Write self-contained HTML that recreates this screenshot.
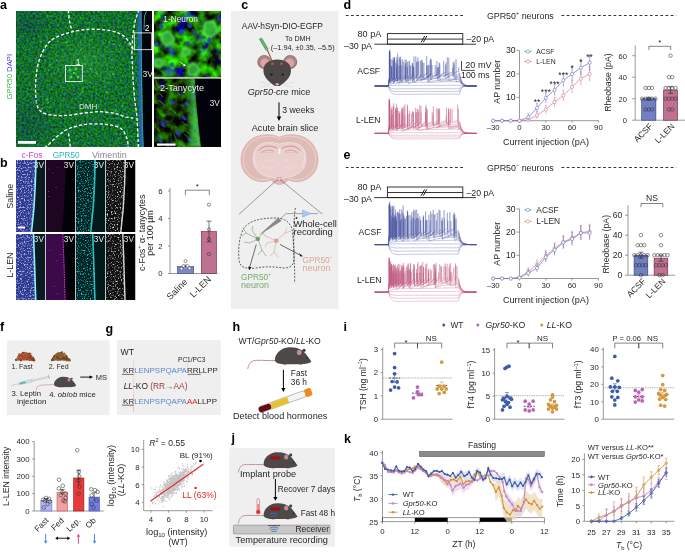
<!DOCTYPE html>
<html><head><meta charset="utf-8"><style>
html,body{margin:0;padding:0;background:#fff;width:685px;height:552px;overflow:hidden}
svg{display:block;font-family:"Liberation Sans", sans-serif;-webkit-font-smoothing:antialiased;will-change:transform}
</style></head><body>
<svg width="685" height="552" viewBox="0 0 685 552">
<defs><filter id="nA" x="0" y="0" width="100%" height="100%" color-interpolation-filters="sRGB"><feTurbulence type="fractalNoise" baseFrequency="0.45" numOctaves="2" seed="3"/><feColorMatrix type="matrix" values="0 0 0 0 0.07  0.75 -0.2 0 0 0.165  0 1.2 0 0 -0.43  0 0 0 0 1"/><feGaussianBlur stdDeviation="0.5"/></filter><filter id="nA2" x="0" y="0" width="100%" height="100%" color-interpolation-filters="sRGB"><feTurbulence type="fractalNoise" baseFrequency="0.09" numOctaves="3" seed="7"/><feColorMatrix type="matrix" values="0.3 0 0 0 -0.04  1.9 -0.4 0 0 -0.3  -0.6 2.2 0 0 -0.85  0 0 0 0 1"/><feGaussianBlur stdDeviation="0.4"/></filter><filter id="nA3" x="0" y="0" width="100%" height="100%" color-interpolation-filters="sRGB"><feTurbulence type="fractalNoise" baseFrequency="0.12" numOctaves="3" seed="13"/><feColorMatrix type="matrix" values="0.2 0 0 0 -0.02  1.2 -0.3 0 0 -0.25  -0.6 2.4 0 0 -1.15  0 0 0 0 1"/><feGaussianBlur stdDeviation="0.4"/></filter><clipPath id="cpA"><rect x="16" y="11" width="136" height="136"/></clipPath><clipPath id="cpA1"><rect x="154" y="11" width="67" height="66.5"/></clipPath><clipPath id="cpA2"><rect x="154" y="78.5" width="67" height="68.5"/></clipPath><filter id="blur1"><feGaussianBlur stdDeviation="1.2"/></filter><filter id="blur05"><feGaussianBlur stdDeviation="0.5"/></filter><radialGradient id="gLight"><stop offset="0" stop-color="#50d050" stop-opacity="0.22"/><stop offset="1" stop-color="#50d050" stop-opacity="0"/></radialGradient><radialGradient id="gDark"><stop offset="0" stop-color="#102060" stop-opacity="0.3"/><stop offset="1" stop-color="#102060" stop-opacity="0"/></radialGradient><filter id="blur08"><feGaussianBlur stdDeviation="0.8"/></filter><linearGradient id="gBand" x1="0" x2="1" y1="0" y2="0"><stop offset="0" stop-color="#30b038" stop-opacity="0"/><stop offset="0.55" stop-color="#40c848" stop-opacity="0.75"/><stop offset="1" stop-color="#58e060" stop-opacity="0.95"/></linearGradient><filter id="nBm" x="0" y="0" width="100%" height="100%" color-interpolation-filters="sRGB"><feTurbulence type="fractalNoise" baseFrequency="0.7" numOctaves="2" seed="5"/><feColorMatrix type="matrix" values="0 0 0 0 0.6  0 0 0 0 0.78  0 0 0 0 1  3.5 0 0 0 -1.7"/></filter><filter id="nBc" x="0" y="0" width="100%" height="100%" color-interpolation-filters="sRGB"><feTurbulence type="fractalNoise" baseFrequency="0.7" numOctaves="2" seed="8"/><feColorMatrix type="matrix" values="0 0 0 0 0.1  0 0 0 0 0.85  0 0 0 0 0.85  3.5 0 0 0 -1.82"/></filter><filter id="nBg" x="0" y="0" width="100%" height="100%" color-interpolation-filters="sRGB"><feTurbulence type="fractalNoise" baseFrequency="0.7" numOctaves="2" seed="9"/><feColorMatrix type="matrix" values="0 0 0 0 0.9  0 0 0 0 0.9  0 0 0 0 0.9  3.5 0 0 0 -1.85"/></filter><clipPath id="cpB00"><rect x="16" y="160" width="29.5" height="72"/></clipPath><clipPath id="cpB00t"><polygon points="16.0,160.0 36.0,160.0 35.3,183.8 34.0,207.5 31.5,232.0 16.0,232.0"/></clipPath><clipPath id="cpB01"><rect x="46" y="160" width="29.5" height="72"/></clipPath><clipPath id="cpB02"><rect x="76" y="160" width="29.5" height="72"/></clipPath><clipPath id="cpB02t"><polygon points="76.0,160.0 96.0,160.0 95.3,183.8 94.0,207.5 91.5,232.0 76.0,232.0"/></clipPath><clipPath id="cpB03"><rect x="106" y="160" width="29.5" height="72"/></clipPath><clipPath id="cpB03t"><polygon points="106.0,160.0 126.0,160.0 125.3,183.8 124.0,207.5 121.5,232.0 106.0,232.0"/></clipPath><clipPath id="cpB10"><rect x="16" y="234" width="29.5" height="66"/></clipPath><clipPath id="cpB10t"><polygon points="16.0,234.0 33.5,234.0 34.3,255.8 35.0,277.6 35.7,300.0 16.0,300.0"/></clipPath><clipPath id="cpB11"><rect x="46" y="234" width="29.5" height="66"/></clipPath><clipPath id="cpB12"><rect x="76" y="234" width="29.5" height="66"/></clipPath><clipPath id="cpB12t"><polygon points="76.0,234.0 93.5,234.0 94.3,255.8 95.0,277.6 95.7,300.0 76.0,300.0"/></clipPath><clipPath id="cpB13"><rect x="106" y="234" width="29.5" height="66"/></clipPath><clipPath id="cpB13t"><polygon points="106.0,234.0 123.5,234.0 124.3,255.8 125.0,277.6 125.7,300.0 106.0,300.0"/></clipPath></defs>
<text x="0.00" y="9.00" font-size="12.5" text-anchor="start" fill="#000" font-weight="bold">a</text>
<g clip-path="url(#cpA)">
<rect x="16.00" y="11.00" width="136.00" height="136.00" fill="#146a2a" stroke="none" stroke-width="0.8"/>
<rect x="16.00" y="11.00" width="136.00" height="136.00" fill="#000" stroke="none" stroke-width="0.8" filter="url(#nA)"/>
<ellipse cx="85" cy="62" rx="45" ry="32" fill="url(#gLight)"/>
<ellipse cx="28" cy="125" rx="30" ry="30" fill="url(#gDark)"/>
<ellipse cx="28" cy="25" rx="25" ry="22" fill="url(#gDark)"/>
<polygon points="141.00,11.00 152.00,11.00 152.00,147.00 143.50,147.00 142.80,120.00 142.40,80.00 141.80,40.00" fill="#01030a"/>
<polyline points="139.50,11.00 139.50,40.00 139.80,80.00 140.50,120.00 141.50,147.00" fill="none" stroke="#2a60c8" stroke-width="2.6" stroke-linejoin="round" opacity="0.85"/>
<polyline points="141.20,11.00 141.20,40.00 141.50,80.00 142.20,120.00 143.20,147.00" fill="none" stroke="#3a9ad0" stroke-width="0.9" stroke-linejoin="round"/>
<polyline points="146.50,11.00 144.50,16.00 144.00,30.00" fill="none" stroke="#3ec8c0" stroke-width="0.8" stroke-linejoin="round"/>
<path d="M68.3,10.0 C68.3,10.2 68.3,9.6 68.5,11.5 C68.7,13.4 69.0,18.4 69.6,21.7 C70.2,25.0 71.8,29.7 72.3,31.3" fill="none" stroke="#fff" stroke-width="1.3" stroke-dasharray="3.2 2" stroke-linecap="butt" fill="none"/>
<path d="M138.6,10.0 C138.6,10.2 139.0,9.1 138.3,11.5 C137.6,13.9 135.6,18.3 134.5,24.2 C133.4,30.1 132.3,39.0 132.0,47.0 C131.7,55.0 132.3,63.9 132.7,72.4 C133.1,80.9 133.8,90.2 134.5,97.8 C135.2,105.4 136.4,110.0 137.0,118.0 C137.6,126.0 138.1,141.0 138.3,146.0 C138.5,151.0 138.4,147.7 138.4,148.0" fill="none" stroke="#fff" stroke-width="1.3" stroke-dasharray="3.2 2" stroke-linecap="butt" fill="none"/>
<path d="M133.2,49.6 C132.8,48.8 132.4,46.8 130.7,44.5 C129.0,42.2 126.5,37.9 123.1,35.6 C119.7,33.3 115.9,31.7 110.4,30.6 C104.9,29.6 96.4,29.1 90.1,29.3 C83.8,29.5 77.8,30.5 72.3,31.8 C66.8,33.1 61.3,34.8 57.1,36.9 C52.9,39.0 50.0,40.7 47.0,44.5 C44.0,48.3 41.2,54.6 39.4,59.7 C37.6,64.8 36.9,69.4 36.3,74.9 C35.7,80.4 35.3,87.2 35.6,92.7 C35.9,98.2 36.2,104.3 38.1,107.9 C40.0,111.5 42.6,112.9 47.0,114.2 C51.4,115.5 58.4,115.7 64.7,115.5 C71.0,115.3 79.1,113.6 85.0,113.0 C90.9,112.4 95.1,111.6 100.2,111.7 C105.3,111.8 111.2,112.7 115.4,113.5 C119.6,114.3 122.6,116.0 125.6,116.8 C128.6,117.5 131.9,117.8 133.2,118.0" fill="none" stroke="#fff" stroke-width="1.3" stroke-dasharray="3.2 2" stroke-linecap="butt" fill="none"/>
<path d="M45.0,148.0 C45.3,147.7 43.7,148.9 47.0,146.0 C50.3,143.1 58.4,134.3 64.7,130.7 C71.0,127.1 78.2,125.5 85.0,124.4 C91.8,123.4 99.4,123.8 105.3,124.4 C111.2,125.0 116.9,125.9 120.5,128.2 C124.1,130.5 125.6,135.3 126.9,138.3 C128.2,141.3 127.9,144.4 128.1,146.0 C128.3,147.6 128.2,147.7 128.2,148.0" fill="none" stroke="#fff" stroke-width="1.3" stroke-dasharray="3.2 2" stroke-linecap="butt" fill="none"/>
<path d="M68.5,133.3 C68.7,134.4 69.2,137.6 69.5,140.0 C69.8,142.4 70.2,146.7 70.3,148.0" fill="none" stroke="#fff" stroke-width="1.3" stroke-dasharray="3.2 2" stroke-linecap="butt" fill="none"/>
<g filter="url(#blur05)" fill="#52d052" opacity="0.6">
<circle cx="111.92" cy="60.09" r="0.94" fill="#52d052" stroke="none" stroke-width="0.6"/>
<circle cx="114.03" cy="43.86" r="1.09" fill="#52d052" stroke="none" stroke-width="0.6"/>
<circle cx="90.21" cy="82.07" r="0.89" fill="#52d052" stroke="none" stroke-width="0.6"/>
<circle cx="96.76" cy="73.55" r="1.31" fill="#52d052" stroke="none" stroke-width="0.6"/>
<circle cx="42.55" cy="108.70" r="0.90" fill="#52d052" stroke="none" stroke-width="0.6"/>
<circle cx="113.20" cy="74.06" r="1.30" fill="#52d052" stroke="none" stroke-width="0.6"/>
<circle cx="56.46" cy="59.75" r="0.85" fill="#52d052" stroke="none" stroke-width="0.6"/>
<circle cx="110.08" cy="76.12" r="0.92" fill="#52d052" stroke="none" stroke-width="0.6"/>
<circle cx="57.25" cy="41.23" r="0.92" fill="#52d052" stroke="none" stroke-width="0.6"/>
<circle cx="90.41" cy="68.70" r="1.22" fill="#52d052" stroke="none" stroke-width="0.6"/>
<circle cx="46.87" cy="99.64" r="1.39" fill="#52d052" stroke="none" stroke-width="0.6"/>
<circle cx="106.57" cy="92.22" r="1.31" fill="#52d052" stroke="none" stroke-width="0.6"/>
<circle cx="48.54" cy="70.52" r="0.85" fill="#52d052" stroke="none" stroke-width="0.6"/>
<circle cx="110.34" cy="76.42" r="0.86" fill="#52d052" stroke="none" stroke-width="0.6"/>
<circle cx="80.03" cy="94.82" r="1.13" fill="#52d052" stroke="none" stroke-width="0.6"/>
<circle cx="50.93" cy="107.14" r="0.83" fill="#52d052" stroke="none" stroke-width="0.6"/>
<circle cx="115.88" cy="110.00" r="1.25" fill="#52d052" stroke="none" stroke-width="0.6"/>
<circle cx="125.13" cy="75.88" r="0.93" fill="#52d052" stroke="none" stroke-width="0.6"/>
<circle cx="82.51" cy="91.84" r="1.26" fill="#52d052" stroke="none" stroke-width="0.6"/>
<circle cx="74.59" cy="107.94" r="0.82" fill="#52d052" stroke="none" stroke-width="0.6"/>
<circle cx="84.62" cy="38.04" r="1.01" fill="#52d052" stroke="none" stroke-width="0.6"/>
<circle cx="129.04" cy="44.08" r="1.39" fill="#52d052" stroke="none" stroke-width="0.6"/>
<circle cx="121.46" cy="88.00" r="0.83" fill="#52d052" stroke="none" stroke-width="0.6"/>
<circle cx="82.44" cy="88.28" r="0.86" fill="#52d052" stroke="none" stroke-width="0.6"/>
<circle cx="66.84" cy="42.07" r="1.31" fill="#52d052" stroke="none" stroke-width="0.6"/>
<circle cx="122.37" cy="106.12" r="1.25" fill="#52d052" stroke="none" stroke-width="0.6"/>
<circle cx="91.80" cy="39.79" r="1.09" fill="#52d052" stroke="none" stroke-width="0.6"/>
<circle cx="108.46" cy="93.21" r="0.82" fill="#52d052" stroke="none" stroke-width="0.6"/>
<circle cx="40.74" cy="41.79" r="1.35" fill="#52d052" stroke="none" stroke-width="0.6"/>
<circle cx="50.21" cy="65.05" r="1.09" fill="#52d052" stroke="none" stroke-width="0.6"/>
<circle cx="119.54" cy="45.44" r="0.96" fill="#52d052" stroke="none" stroke-width="0.6"/>
<circle cx="109.47" cy="41.62" r="0.90" fill="#52d052" stroke="none" stroke-width="0.6"/>
<circle cx="42.26" cy="108.79" r="0.94" fill="#52d052" stroke="none" stroke-width="0.6"/>
<circle cx="85.14" cy="64.20" r="1.39" fill="#52d052" stroke="none" stroke-width="0.6"/>
<circle cx="104.08" cy="81.29" r="1.09" fill="#52d052" stroke="none" stroke-width="0.6"/>
<circle cx="64.10" cy="99.62" r="0.86" fill="#52d052" stroke="none" stroke-width="0.6"/>
<circle cx="95.96" cy="57.72" r="0.97" fill="#52d052" stroke="none" stroke-width="0.6"/>
<circle cx="80.84" cy="49.56" r="1.16" fill="#52d052" stroke="none" stroke-width="0.6"/>
<circle cx="46.37" cy="36.45" r="0.88" fill="#52d052" stroke="none" stroke-width="0.6"/>
<circle cx="48.09" cy="102.62" r="1.11" fill="#52d052" stroke="none" stroke-width="0.6"/>
</g>
<g filter="url(#blur05)" fill="#2848d0" opacity="0.5">
<circle cx="100.48" cy="116.39" r="0.88" fill="#2848d0" stroke="none" stroke-width="0.6"/>
<circle cx="134.02" cy="63.50" r="1.03" fill="#2848d0" stroke="none" stroke-width="0.6"/>
<circle cx="77.06" cy="105.17" r="1.18" fill="#2848d0" stroke="none" stroke-width="0.6"/>
<circle cx="40.86" cy="122.99" r="1.01" fill="#2848d0" stroke="none" stroke-width="0.6"/>
<circle cx="47.88" cy="127.82" r="1.24" fill="#2848d0" stroke="none" stroke-width="0.6"/>
<circle cx="122.53" cy="55.35" r="1.26" fill="#2848d0" stroke="none" stroke-width="0.6"/>
<circle cx="112.43" cy="142.00" r="1.18" fill="#2848d0" stroke="none" stroke-width="0.6"/>
<circle cx="139.97" cy="76.06" r="1.17" fill="#2848d0" stroke="none" stroke-width="0.6"/>
<circle cx="113.09" cy="82.27" r="1.05" fill="#2848d0" stroke="none" stroke-width="0.6"/>
<circle cx="66.25" cy="128.38" r="0.99" fill="#2848d0" stroke="none" stroke-width="0.6"/>
<circle cx="108.82" cy="87.29" r="1.15" fill="#2848d0" stroke="none" stroke-width="0.6"/>
<circle cx="55.03" cy="22.57" r="1.14" fill="#2848d0" stroke="none" stroke-width="0.6"/>
<circle cx="34.84" cy="60.18" r="1.19" fill="#2848d0" stroke="none" stroke-width="0.6"/>
<circle cx="23.03" cy="134.08" r="1.09" fill="#2848d0" stroke="none" stroke-width="0.6"/>
<circle cx="86.01" cy="102.73" r="0.83" fill="#2848d0" stroke="none" stroke-width="0.6"/>
<circle cx="19.72" cy="108.56" r="1.09" fill="#2848d0" stroke="none" stroke-width="0.6"/>
<circle cx="95.65" cy="122.31" r="0.94" fill="#2848d0" stroke="none" stroke-width="0.6"/>
<circle cx="36.80" cy="141.84" r="0.83" fill="#2848d0" stroke="none" stroke-width="0.6"/>
<circle cx="80.43" cy="95.61" r="1.28" fill="#2848d0" stroke="none" stroke-width="0.6"/>
<circle cx="27.66" cy="106.12" r="0.84" fill="#2848d0" stroke="none" stroke-width="0.6"/>
<circle cx="72.82" cy="95.10" r="1.22" fill="#2848d0" stroke="none" stroke-width="0.6"/>
<circle cx="22.80" cy="112.30" r="0.87" fill="#2848d0" stroke="none" stroke-width="0.6"/>
<circle cx="66.78" cy="143.48" r="1.23" fill="#2848d0" stroke="none" stroke-width="0.6"/>
<circle cx="26.43" cy="12.61" r="0.82" fill="#2848d0" stroke="none" stroke-width="0.6"/>
<circle cx="113.05" cy="17.14" r="1.19" fill="#2848d0" stroke="none" stroke-width="0.6"/>
<circle cx="116.31" cy="121.56" r="1.27" fill="#2848d0" stroke="none" stroke-width="0.6"/>
<circle cx="94.88" cy="122.55" r="1.07" fill="#2848d0" stroke="none" stroke-width="0.6"/>
<circle cx="99.22" cy="21.34" r="1.08" fill="#2848d0" stroke="none" stroke-width="0.6"/>
<circle cx="138.81" cy="64.01" r="1.16" fill="#2848d0" stroke="none" stroke-width="0.6"/>
<circle cx="38.94" cy="76.54" r="1.07" fill="#2848d0" stroke="none" stroke-width="0.6"/>
<circle cx="111.64" cy="55.21" r="1.03" fill="#2848d0" stroke="none" stroke-width="0.6"/>
<circle cx="40.36" cy="89.37" r="1.27" fill="#2848d0" stroke="none" stroke-width="0.6"/>
<circle cx="64.56" cy="100.35" r="1.08" fill="#2848d0" stroke="none" stroke-width="0.6"/>
<circle cx="41.06" cy="105.31" r="0.91" fill="#2848d0" stroke="none" stroke-width="0.6"/>
<circle cx="92.51" cy="145.21" r="0.95" fill="#2848d0" stroke="none" stroke-width="0.6"/>
<circle cx="99.24" cy="57.50" r="1.12" fill="#2848d0" stroke="none" stroke-width="0.6"/>
<circle cx="40.53" cy="79.09" r="1.19" fill="#2848d0" stroke="none" stroke-width="0.6"/>
<circle cx="43.22" cy="59.52" r="0.91" fill="#2848d0" stroke="none" stroke-width="0.6"/>
<circle cx="36.45" cy="101.80" r="1.22" fill="#2848d0" stroke="none" stroke-width="0.6"/>
<circle cx="81.80" cy="71.89" r="0.95" fill="#2848d0" stroke="none" stroke-width="0.6"/>
</g>
<rect x="65.50" y="65.50" width="16.80" height="16.10" fill="none" stroke="#fff" stroke-width="0.8"/>
<text x="78.20" y="64.50" font-size="8.5" text-anchor="middle" fill="#e6f3e6">1</text>
<rect x="134.30" y="32.90" width="17.50" height="16.80" fill="none" stroke="#fff" stroke-width="0.8"/>
<text x="149.50" y="31.00" font-size="8.5" text-anchor="end" fill="#fff">2</text>
<text x="142.50" y="76.50" font-size="8.5" text-anchor="start" fill="#e6e6e6">3V</text>
<text x="79.00" y="109.10" font-size="8.08" text-anchor="start" fill="#dfe9df">DMH</text>
<circle cx="70.00" cy="70.00" r="1.60" fill="#5ee05e" stroke="none" stroke-width="0.6" opacity="0.8"/>
<circle cx="76.00" cy="69.00" r="1.40" fill="#5ee05e" stroke="none" stroke-width="0.6" opacity="0.8"/>
<circle cx="71.00" cy="77.00" r="1.50" fill="#5ee05e" stroke="none" stroke-width="0.6" opacity="0.8"/>
<circle cx="78.00" cy="77.00" r="1.40" fill="#5ee05e" stroke="none" stroke-width="0.6" opacity="0.8"/>
<circle cx="74.00" cy="73.00" r="1.20" fill="#5ee05e" stroke="none" stroke-width="0.6" opacity="0.8"/>
<rect x="18.00" y="141.00" width="18.00" height="2.80" fill="#fff" stroke="none" stroke-width="0.8"/>
</g>
<g clip-path="url(#cpA1)">
<rect x="154.00" y="11.00" width="67.00" height="66.50" fill="#000" stroke="none" stroke-width="0.8" filter="url(#nA2)"/>
<g filter="url(#blur08)" opacity="0.9">
<polygon points="217.5,28.9 216.8,32.7 214.1,35.7 210.2,37.1 206.4,35.5 203.1,33.0 204.5,28.9 204.2,25.4 206.1,21.8 210.2,21.5 214.3,21.9 215.3,25.9" fill="#34b03a" stroke="#5ae65a" stroke-width="1.8"/>
<line x1="203.33" y1="30.25" x2="197.15" y2="31.47" stroke="#40c040" stroke-width="1.3"/>
<line x1="210.35" y1="35.90" x2="210.49" y2="42.20" stroke="#40c040" stroke-width="1.3"/>
<line x1="203.46" y1="27.00" x2="197.40" y2="25.29" stroke="#40c040" stroke-width="1.3"/>
<polygon points="199.9,69.6 197.8,72.1 196.2,74.4 193.5,75.3 189.9,75.9 187.6,73.0 188.1,69.6 187.5,66.1 190.8,65.0 193.5,63.1 196.1,65.0 197.8,67.1" fill="#34b03a" stroke="#5ae65a" stroke-width="1.8"/>
<line x1="197.78" y1="65.12" x2="201.64" y2="61.08" stroke="#40c040" stroke-width="1.3"/>
<line x1="195.06" y1="75.60" x2="196.47" y2="81.00" stroke="#40c040" stroke-width="1.3"/>
<line x1="194.83" y1="75.65" x2="196.03" y2="81.10" stroke="#40c040" stroke-width="1.3"/>
<polygon points="174.4,38.5 173.2,41.9 169.9,43.3 167.2,45.6 164.2,43.8 161.6,41.7 161.9,38.5 161.1,35.0 164.0,32.9 167.2,31.4 170.7,32.5 172.0,35.7" fill="#34b03a" stroke="#5ae65a" stroke-width="1.8"/>
<line x1="163.34" y1="43.09" x2="159.87" y2="47.23" stroke="#40c040" stroke-width="1.3"/>
<line x1="170.22" y1="43.68" x2="172.94" y2="48.35" stroke="#40c040" stroke-width="1.3"/>
<line x1="170.86" y1="43.26" x2="174.15" y2="47.54" stroke="#40c040" stroke-width="1.3"/>
<polygon points="162.5,63.0 162.4,65.1 161.1,67.1 158.8,66.6 156.4,67.2 155.2,65.1 154.6,63.0 154.4,60.5 156.6,59.1 158.8,58.8 161.0,59.1 163.0,60.6" fill="#34b03a" stroke="#5ae65a" stroke-width="1.8"/>
<line x1="163.01" y1="64.58" x2="166.81" y2="66.00" stroke="#40c040" stroke-width="1.3"/>
<line x1="163.25" y1="62.30" x2="167.25" y2="61.67" stroke="#40c040" stroke-width="1.3"/>
<line x1="163.25" y1="63.64" x2="167.26" y2="64.22" stroke="#40c040" stroke-width="1.3"/>
<polygon points="189.4,52.0 188.9,54.3 186.6,54.8 185.0,56.5 183.1,55.3 181.4,54.1 181.8,52.0 182.2,50.4 183.3,49.0 185.0,47.3 186.8,49.0 188.8,49.8" fill="#34b03a" stroke="#5ae65a" stroke-width="1.8"/>
<line x1="188.62" y1="50.29" x2="191.87" y2="48.75" stroke="#40c040" stroke-width="1.3"/>
<line x1="188.74" y1="50.58" x2="192.10" y2="49.29" stroke="#40c040" stroke-width="1.3"/>
<line x1="182.76" y1="55.32" x2="180.75" y2="58.30" stroke="#40c040" stroke-width="1.3"/>
</g>
<g filter="url(#blur05)">
<circle cx="189.90" cy="26.00" r="2.30" fill="#2040d0" stroke="none" stroke-width="0.6" opacity="0.75"/>
<circle cx="194.70" cy="32.50" r="2.30" fill="#2040d0" stroke="none" stroke-width="0.6" opacity="0.75"/>
<circle cx="209.60" cy="39.70" r="2.30" fill="#2040d0" stroke="none" stroke-width="0.6" opacity="0.75"/>
<circle cx="156.40" cy="44.50" r="2.30" fill="#2040d0" stroke="none" stroke-width="0.6" opacity="0.75"/>
<circle cx="181.50" cy="31.30" r="2.30" fill="#2040d0" stroke="none" stroke-width="0.6" opacity="0.75"/>
<circle cx="172.00" cy="64.80" r="2.30" fill="#2040d0" stroke="none" stroke-width="0.6" opacity="0.75"/>
<circle cx="219.00" cy="19.40" r="2.30" fill="#2040d0" stroke="none" stroke-width="0.6" opacity="0.75"/>
<circle cx="187.50" cy="43.30" r="2.30" fill="#2040d0" stroke="none" stroke-width="0.6" opacity="0.75"/>
<circle cx="161.20" cy="26.50" r="2.30" fill="#2040d0" stroke="none" stroke-width="0.6" opacity="0.75"/>
</g>
<path d="M179.7,61.8 L184.6,65.2" fill="none" stroke="#fff" stroke-width="0.7"/>
<polygon points="185.90,66.10 183.10,65.90 184.40,63.70" fill="#fff"/>
<text x="163.30" y="21.90" font-size="8.32" text-anchor="start" fill="#e8f5e8">1-Neuron</text>
</g>
<g clip-path="url(#cpA2)">
<rect x="154.00" y="78.50" width="67.00" height="68.50" fill="#000" stroke="none" stroke-width="0.8" filter="url(#nA3)"/>
<g filter="url(#blur05)" opacity="0.4">
<line x1="152.42" y1="85.53" x2="157.37" y2="90.10" stroke="#50d050" stroke-width="1.2"/>
<line x1="156.72" y1="85.53" x2="162.44" y2="89.61" stroke="#50d050" stroke-width="1.2"/>
<line x1="157.01" y1="127.62" x2="159.63" y2="131.34" stroke="#50d050" stroke-width="1.2"/>
<line x1="170.21" y1="108.00" x2="176.00" y2="113.50" stroke="#50d050" stroke-width="1.2"/>
<line x1="155.17" y1="79.36" x2="157.33" y2="84.54" stroke="#50d050" stroke-width="1.2"/>
<line x1="158.75" y1="100.13" x2="164.61" y2="105.30" stroke="#50d050" stroke-width="1.2"/>
<line x1="159.15" y1="92.53" x2="163.02" y2="97.37" stroke="#50d050" stroke-width="1.2"/>
<line x1="184.43" y1="134.19" x2="188.06" y2="137.35" stroke="#50d050" stroke-width="1.2"/>
<line x1="180.44" y1="144.26" x2="186.66" y2="147.34" stroke="#50d050" stroke-width="1.2"/>
<line x1="181.52" y1="121.63" x2="187.42" y2="125.73" stroke="#50d050" stroke-width="1.2"/>
<line x1="176.81" y1="90.99" x2="179.69" y2="94.92" stroke="#50d050" stroke-width="1.2"/>
<line x1="153.41" y1="100.51" x2="157.68" y2="104.11" stroke="#50d050" stroke-width="1.2"/>
<line x1="173.99" y1="134.02" x2="176.92" y2="141.37" stroke="#50d050" stroke-width="1.2"/>
<line x1="185.78" y1="130.92" x2="189.45" y2="133.87" stroke="#50d050" stroke-width="1.2"/>
</g>
<g filter="url(#blur05)" opacity="0.85">
<ellipse cx="172" cy="102" rx="3" ry="1.6" transform="rotate(35 172 102)" fill="#2038d0"/>
<ellipse cx="184" cy="118" rx="3" ry="1.6" transform="rotate(40 184 118)" fill="#2038d0"/>
<ellipse cx="178" cy="133" rx="3" ry="1.6" transform="rotate(30 178 133)" fill="#2038d0"/>
<ellipse cx="163" cy="125" rx="3" ry="1.6" transform="rotate(45 163 125)" fill="#2038d0"/>
<ellipse cx="187" cy="104" rx="3" ry="1.6" transform="rotate(40 187 104)" fill="#2038d0"/>
<ellipse cx="190" cy="140" rx="3" ry="1.6" transform="rotate(35 190 140)" fill="#2038d0"/>
<ellipse cx="160" cy="140" rx="3" ry="1.6" transform="rotate(40 160 140)" fill="#2038d0"/>
</g>
<g filter="url(#blur1)">
<polygon points="184.00,78.50 195.00,78.50 196.00,100.00 198.50,125.00 201.00,147.00 189.00,147.00 187.00,120.00 185.00,100.00" fill="url(#gBand)"/>
</g>
<circle cx="191.00" cy="88.00" r="1.10" fill="#3060d0" stroke="none" stroke-width="0.6" opacity="0.7"/>
<circle cx="193.00" cy="112.00" r="1.10" fill="#3060d0" stroke="none" stroke-width="0.6" opacity="0.7"/>
<circle cx="195.00" cy="131.00" r="1.10" fill="#3060d0" stroke="none" stroke-width="0.6" opacity="0.7"/>
<circle cx="192.00" cy="99.00" r="1.10" fill="#3060d0" stroke="none" stroke-width="0.6" opacity="0.7"/>
<circle cx="196.00" cy="142.00" r="1.10" fill="#3060d0" stroke="none" stroke-width="0.6" opacity="0.7"/>
<polygon points="195.00,78.50 221.00,78.50 221.00,147.00 201.00,147.00 198.50,125.00 196.00,100.00" fill="#02020a"/>
<text x="160.10" y="90.70" font-size="9.1" text-anchor="start" fill="#e8f5e8">2-Tanycyte</text>
<text x="209.80" y="105.60" font-size="8.18" text-anchor="start" fill="#e6e6e6">3V</text>
<rect x="157.00" y="143.50" width="18.50" height="2.20" fill="#fff" stroke="none" stroke-width="0.8"/>
</g>
<line x1="154.00" y1="77.80" x2="221.00" y2="77.80" stroke="#d0d0d0" stroke-width="0.9"/>
<text transform="translate(11.6,99.4) rotate(-90)" font-size="7.74"><tspan fill="#3cb44a">GPR50</tspan><tspan fill="#3a3ae0"> DAPI</tspan></text>
<text x="0.00" y="167.00" font-size="12.5" text-anchor="start" fill="#000" font-weight="bold">b</text>
<text x="21.50" y="158.20" font-size="8.4" text-anchor="start" fill="#d23cd2">c-Fos</text>
<text x="52.70" y="158.20" font-size="8.23" text-anchor="start" fill="#2bbcc0">GPR50</text>
<text x="92.00" y="158.20" font-size="8.96" text-anchor="start" fill="#8a8a8a">Vimentin</text>
<text transform="translate(13.4,208.8) rotate(-90)" font-size="9.06" fill="#231f20">Saline</text>
<text transform="translate(13.4,277.7) rotate(-90)" font-size="8.9" fill="#231f20">L-LEN</text>
<g clip-path="url(#cpB00)">
<rect x="16.00" y="160.00" width="29.50" height="72.00" fill="#0a1c22" stroke="none" stroke-width="0.8"/>
<polygon points="16.00,160.00 36.00,160.00 35.30,183.76 34.00,207.52 31.50,232.00 16.00,232.00" fill="#33358c"/>
<g clip-path="url(#cpB00t)">
<rect x="16.00" y="160.00" width="29.50" height="72.00" fill="#fff" stroke="none" stroke-width="0.8" filter="url(#nBm)"/>
</g>
<polyline points="36.00,160.00 35.30,183.76 34.00,207.52 31.50,232.00" fill="none" stroke="#90f0f8" stroke-width="1.6" stroke-linejoin="round"/>
<text x="44.00" y="167.60" font-size="8.3" text-anchor="end" fill="#e8e8e8">3V</text>
</g>
<g clip-path="url(#cpB01)">
<rect x="46.00" y="160.00" width="29.50" height="72.00" fill="#050108" stroke="none" stroke-width="0.8"/>
<polygon points="46.00,160.00 66.00,160.00 65.30,183.76 64.00,207.52 61.50,232.00 46.00,232.00" fill="#1e0622"/>
<circle cx="52.86" cy="172.96" r="0.50" fill="#c030c8" stroke="none" stroke-width="0.6"/>
<circle cx="57.76" cy="167.78" r="0.50" fill="#c030c8" stroke="none" stroke-width="0.6"/>
<circle cx="56.04" cy="187.14" r="0.50" fill="#c030c8" stroke="none" stroke-width="0.6"/>
<circle cx="48.87" cy="196.49" r="0.50" fill="#c030c8" stroke="none" stroke-width="0.6"/>
<circle cx="48.56" cy="191.62" r="0.50" fill="#c030c8" stroke="none" stroke-width="0.6"/>
<circle cx="49.05" cy="168.99" r="0.50" fill="#c030c8" stroke="none" stroke-width="0.6"/>
<text x="74.00" y="167.60" font-size="8.3" text-anchor="end" fill="#e8e8e8">3V</text>
</g>
<g clip-path="url(#cpB02)">
<rect x="76.00" y="160.00" width="29.50" height="72.00" fill="#021a1c" stroke="none" stroke-width="0.8"/>
<polygon points="76.00,160.00 96.00,160.00 95.30,183.76 94.00,207.52 91.50,232.00 76.00,232.00" fill="#002022"/>
<g clip-path="url(#cpB02t)">
<rect x="76.00" y="160.00" width="29.50" height="72.00" fill="#fff" stroke="none" stroke-width="0.8" filter="url(#nBc)"/>
</g>
<polyline points="95.20,160.00 94.50,183.76 93.20,207.52 90.70,232.00" fill="none" stroke="#30d8d8" stroke-width="1.6" stroke-linejoin="round" opacity="0.85"/>
<text x="104.00" y="167.60" font-size="8.3" text-anchor="end" fill="#e8e8e8">3V</text>
</g>
<g clip-path="url(#cpB03)">
<rect x="106.00" y="160.00" width="29.50" height="72.00" fill="#030303" stroke="none" stroke-width="0.8"/>
<polygon points="106.00,160.00 126.00,160.00 125.30,183.76 124.00,207.52 121.50,232.00 106.00,232.00" fill="#101010"/>
<g clip-path="url(#cpB03t)">
<rect x="106.00" y="160.00" width="29.50" height="72.00" fill="#fff" stroke="none" stroke-width="0.8" filter="url(#nBg)"/>
</g>
<polyline points="125.30,160.00 124.60,183.76 123.30,207.52 120.80,232.00" fill="none" stroke="#e8e8e8" stroke-width="1.4" stroke-linejoin="round" opacity="0.9"/>
<text x="134.00" y="167.60" font-size="8.3" text-anchor="end" fill="#e8e8e8">3V</text>
</g>
<g clip-path="url(#cpB10)">
<rect x="16.00" y="234.00" width="29.50" height="66.00" fill="#0a1c22" stroke="none" stroke-width="0.8"/>
<polygon points="16.00,234.00 33.50,234.00 34.30,255.78 35.00,277.56 35.70,300.00 16.00,300.00" fill="#33358c"/>
<g clip-path="url(#cpB10t)">
<rect x="16.00" y="234.00" width="29.50" height="66.00" fill="#fff" stroke="none" stroke-width="0.8" filter="url(#nBm)"/>
</g>
<polyline points="33.50,234.00 34.30,255.78 35.00,277.56 35.70,300.00" fill="none" stroke="#90f0f8" stroke-width="1.6" stroke-linejoin="round"/>
<text x="44.00" y="241.60" font-size="8.3" text-anchor="end" fill="#e8e8e8">3V</text>
</g>
<g clip-path="url(#cpB11)">
<rect x="46.00" y="234.00" width="29.50" height="66.00" fill="#050108" stroke="none" stroke-width="0.8"/>
<polygon points="46.00,234.00 63.50,234.00 64.30,255.78 65.00,277.56 65.70,300.00 46.00,300.00" fill="#3c0a48"/>
<polyline points="62.90,234.00 63.70,255.78 64.40,277.56 65.10,300.00" fill="none" stroke="#e040e8" stroke-width="1.0" stroke-linejoin="round" stroke-dasharray="1.5 1" opacity="0.9"/>
<circle cx="54.37" cy="286.61" r="0.50" fill="#c030c8" stroke="none" stroke-width="0.6"/>
<circle cx="49.86" cy="250.39" r="0.50" fill="#c030c8" stroke="none" stroke-width="0.6"/>
<circle cx="57.41" cy="293.86" r="0.50" fill="#c030c8" stroke="none" stroke-width="0.6"/>
<circle cx="56.66" cy="260.80" r="0.50" fill="#c030c8" stroke="none" stroke-width="0.6"/>
<circle cx="62.64" cy="239.79" r="0.50" fill="#c030c8" stroke="none" stroke-width="0.6"/>
<circle cx="60.88" cy="254.38" r="0.50" fill="#c030c8" stroke="none" stroke-width="0.6"/>
<text x="74.00" y="241.60" font-size="8.3" text-anchor="end" fill="#e8e8e8">3V</text>
</g>
<g clip-path="url(#cpB12)">
<rect x="76.00" y="234.00" width="29.50" height="66.00" fill="#021a1c" stroke="none" stroke-width="0.8"/>
<polygon points="76.00,234.00 93.50,234.00 94.30,255.78 95.00,277.56 95.70,300.00 76.00,300.00" fill="#002022"/>
<g clip-path="url(#cpB12t)">
<rect x="76.00" y="234.00" width="29.50" height="66.00" fill="#fff" stroke="none" stroke-width="0.8" filter="url(#nBc)"/>
</g>
<polyline points="92.70,234.00 93.50,255.78 94.20,277.56 94.90,300.00" fill="none" stroke="#30d8d8" stroke-width="1.6" stroke-linejoin="round" opacity="0.85"/>
<text x="104.00" y="241.60" font-size="8.3" text-anchor="end" fill="#e8e8e8">3V</text>
</g>
<g clip-path="url(#cpB13)">
<rect x="106.00" y="234.00" width="29.50" height="66.00" fill="#030303" stroke="none" stroke-width="0.8"/>
<polygon points="106.00,234.00 123.50,234.00 124.30,255.78 125.00,277.56 125.70,300.00 106.00,300.00" fill="#101010"/>
<g clip-path="url(#cpB13t)">
<rect x="106.00" y="234.00" width="29.50" height="66.00" fill="#fff" stroke="none" stroke-width="0.8" filter="url(#nBg)"/>
</g>
<polyline points="122.80,234.00 123.60,255.78 124.30,277.56 125.00,300.00" fill="none" stroke="#e8e8e8" stroke-width="1.4" stroke-linejoin="round" opacity="0.9"/>
<text x="134.00" y="241.60" font-size="8.3" text-anchor="end" fill="#e8e8e8">3V</text>
</g>
<rect x="18.00" y="226.50" width="7.00" height="2.00" fill="#fff" stroke="none" stroke-width="0.8"/>
<line x1="170.00" y1="188.00" x2="170.00" y2="273.50" stroke="#6d6e71" stroke-width="0.7"/>
<line x1="170.00" y1="273.50" x2="217.60" y2="273.50" stroke="#6d6e71" stroke-width="0.7"/>
<line x1="168.00" y1="273.50" x2="170.00" y2="273.50" stroke="#6d6e71" stroke-width="0.7"/>
<text x="162.50" y="276.30" font-size="7.8" text-anchor="end" fill="#231f20">0</text>
<line x1="168.00" y1="245.96" x2="170.00" y2="245.96" stroke="#6d6e71" stroke-width="0.7"/>
<text x="162.50" y="248.76" font-size="7.8" text-anchor="end" fill="#231f20">2</text>
<line x1="168.00" y1="218.42" x2="170.00" y2="218.42" stroke="#6d6e71" stroke-width="0.7"/>
<text x="162.50" y="221.22" font-size="7.8" text-anchor="end" fill="#231f20">4</text>
<line x1="168.00" y1="190.88" x2="170.00" y2="190.88" stroke="#6d6e71" stroke-width="0.7"/>
<text x="162.50" y="193.68" font-size="7.8" text-anchor="end" fill="#231f20">6</text>
<rect x="177.40" y="266.62" width="16.30" height="6.88" fill="#7c86c8" stroke="#3d4690" stroke-width="0.6"/>
<rect x="201.30" y="231.50" width="15.20" height="42.00" fill="#c07090" stroke="#6a2a40" stroke-width="0.6"/>
<circle cx="181.50" cy="268.68" r="1.50" fill="#fff" stroke="#333" stroke-width="0.5"/>
<circle cx="185.50" cy="267.99" r="1.50" fill="#fff" stroke="#333" stroke-width="0.5"/>
<circle cx="189.50" cy="268.27" r="1.50" fill="#fff" stroke="#333" stroke-width="0.5"/>
<circle cx="185.50" cy="261.11" r="1.50" fill="#fff" stroke="#333" stroke-width="0.5"/>
<circle cx="183.50" cy="265.93" r="1.50" fill="#fff" stroke="#333" stroke-width="0.5"/>
<circle cx="187.50" cy="265.93" r="1.50" fill="#fff" stroke="#333" stroke-width="0.5"/>
<line x1="185.50" y1="264.55" x2="185.50" y2="268.68" stroke="#222" stroke-width="0.6"/>
<circle cx="209.00" cy="204.65" r="1.60" fill="none" stroke="#333" stroke-width="0.55"/>
<circle cx="209.00" cy="229.44" r="1.60" fill="none" stroke="#333" stroke-width="0.55"/>
<circle cx="209.00" cy="239.07" r="1.60" fill="none" stroke="#333" stroke-width="0.55"/>
<circle cx="209.00" cy="254.22" r="1.60" fill="none" stroke="#333" stroke-width="0.55"/>
<line x1="209.00" y1="221.17" x2="209.00" y2="241.83" stroke="#222" stroke-width="0.6"/>
<line x1="206.50" y1="221.17" x2="211.50" y2="221.17" stroke="#222" stroke-width="0.6"/>
<line x1="206.50" y1="241.83" x2="211.50" y2="241.83" stroke="#222" stroke-width="0.6"/>
<polyline points="185.40,195.20 185.40,190.20 209.30,190.20 209.30,195.20" fill="none" stroke="#333" stroke-width="0.6" stroke-linejoin="round"/>
<text x="197.30" y="188.50" font-size="8" text-anchor="middle" fill="#231f20">*</text>
<text transform="translate(144.6,271) rotate(-90)" font-size="8.95" fill="#231f20">c-Fos<tspan font-size="5.5" dy="-3.2">+</tspan><tspan dy="3.2"> α- tanycytes</tspan></text>
<text transform="translate(153.4,233) rotate(-90)" font-size="9" text-anchor="middle" fill="#231f20">per 100 µm</text>
<text transform="translate(188,282.5) rotate(-45)" font-size="9" text-anchor="end" fill="#231f20">Saline</text>
<text transform="translate(211.5,280) rotate(-45)" font-size="9" text-anchor="end" fill="#231f20">L-LEN</text>
<text x="241.30" y="9.20" font-size="12.5" text-anchor="start" fill="#000" font-weight="bold">c</text>
<rect x="231.00" y="11.00" width="107.50" height="298.00" fill="#efefef" stroke="none" stroke-width="0.8"/>
<text x="241.80" y="28.50" font-size="8.41" text-anchor="start" fill="#231f20">AAV-hSyn-DIO-EGFP</text>
<text x="285.00" y="40.50" font-size="7.12" text-anchor="start" fill="#231f20">To DMH</text>
<text x="270.80" y="49.90" font-size="7.32" text-anchor="start" fill="#231f20">(–1.94, ±0.35, –5.5)</text>
<line x1="260.30" y1="38.30" x2="267.30" y2="50.00" stroke="#4a9a5a" stroke-width="3.2"/>
<line x1="260.30" y1="38.30" x2="267.30" y2="50.00" stroke="#8fd19a" stroke-width="1.6" stroke-dasharray="0.8 0.8"/>
<line x1="267.30" y1="50.00" x2="271.70" y2="59.90" stroke="#8a5a2a" stroke-width="1.1"/>
<circle cx="264.30" cy="62.00" r="6.60" fill="#b08484" stroke="#4a4040" stroke-width="0.5"/>
<circle cx="264.90" cy="62.80" r="4.40" fill="#dca4a4" stroke="none" stroke-width="0.6"/>
<circle cx="290.20" cy="62.00" r="6.60" fill="#b08484" stroke="#4a4040" stroke-width="0.5"/>
<circle cx="289.60" cy="62.80" r="4.40" fill="#dca4a4" stroke="none" stroke-width="0.6"/>
<path d="M277.2,59.5 C285.5,59.5 291,63.5 291,70.5 C291,77.5 284.5,83 279.5,86 L275,86 C270,83 263.4,77.5 263.4,70.5 C263.4,63.5 269,59.5 277.2,59.5 Z" fill="#4c4747" stroke="none" stroke-width="0.8"/>
<circle cx="272.50" cy="63.80" r="1.30" fill="#d04a4a" stroke="none" stroke-width="0.6"/>
<circle cx="281.50" cy="63.80" r="1.30" fill="#d04a4a" stroke="none" stroke-width="0.6"/>
<circle cx="271.50" cy="74.50" r="1.10" fill="#111" stroke="none" stroke-width="0.6"/>
<circle cx="282.80" cy="74.50" r="1.10" fill="#111" stroke="none" stroke-width="0.6"/>
<ellipse cx="277.2" cy="84.3" rx="1.7" ry="1.3" fill="#e8a0a8"/>
<line x1="270.00" y1="84.00" x2="260.00" y2="82.00" stroke="#bbb" stroke-width="0.3"/>
<line x1="270.00" y1="85.00" x2="261.00" y2="87.00" stroke="#bbb" stroke-width="0.3"/>
<line x1="284.00" y1="84.00" x2="294.00" y2="82.00" stroke="#bbb" stroke-width="0.3"/>
<line x1="284.00" y1="85.00" x2="293.00" y2="87.00" stroke="#bbb" stroke-width="0.3"/>
<text x="247.7" y="95.2" font-size="9.1" fill="#231f20"><tspan font-style="italic">Gpr50-cre</tspan> mice</text>
<line x1="279.00" y1="102.40" x2="279.00" y2="118.00" stroke="#000" stroke-width="1.0"/>
<polygon points="276.80,116.50 281.20,116.50 279.00,121.00" fill="#000"/>
<text x="282.20" y="112.90" font-size="8.75" text-anchor="start" fill="#231f20">3 weeks</text>
<text x="251.80" y="131.30" font-size="9.09" text-anchor="start" fill="#231f20">Acute brain slice</text>
<path d="M279.5,137.5 C275,134.5 268,134 260,135.5 C249,138 242,147 241,158 C240.5,168 245,176 254,180 C260,182.5 266,182 271,180 C273,182.5 275.5,184.3 279.5,184.6 C283.5,184.3 286,182.5 288,180 C293,182 299,182.5 305,180 C314,176 318.5,168 318,158 C317,147 310,138 299,135.5 C291,134 284,134.5 279.5,137.5 Z" fill="#dfbbb7" stroke="#d49a94" stroke-width="0.5"/>
<path d="M279.5,138.8 C275.5,136.2 268.5,135.8 261,137 C251,139.5 244,148 243.2,158 C242.8,167 247,174.5 255,178.2 C260.5,180.5 266,180 270.5,178.3" fill="none" stroke="#f3e2e0" stroke-width="0.6"/>
<path d="M279.5,138.8 C283.5,136.2 290.5,135.8 298,137 C308,139.5 315,148 315.8,158 C316.2,167 312,174.5 304,178.2 C298.5,180.5 293,180 288.5,178.3" fill="none" stroke="#f3e2e0" stroke-width="0.6"/>
<path d="M279.5,144 C272,141.5 263,142 258,146 C253.5,150 252,158 254,165 C256,171 262,176 270,177 C274,177.5 277,178.5 279.5,180 C282,178.5 285,177.5 289,177 C297,176 303,171 305,165 C307,158 305.5,150 301,146 C296,142 287,141.5 279.5,144 Z" fill="#e9d0ce" stroke="#f4e4e2" stroke-width="0.7"/>
<path d="M258.5,151 C262,145.5 271,144.5 277.3,148.5 M281.7,148.5 C288,144.5 297,145.5 300.5,151" fill="none" stroke="#c86060" stroke-width="0.6"/>
<path d="M261,153 C265,149.5 270,149.5 274,151.5 M285,151.5 C289,149.5 294,149.5 298,153" fill="none" stroke="#d07070" stroke-width="0.5"/>
<path d="M262,152.5 L274,152.5 M285,152.5 L297,152.5" fill="none" stroke="#e6a8a8" stroke-width="0.4"/>
<rect x="278.80" y="148.50" width="1.50" height="5.50" fill="#fbf4f4" stroke="none" stroke-width="0.8"/>
<path d="M255,150 C254,156 254.5,163 257,168 M304,150 C305,156 304.5,163 302,168" fill="none" stroke="#f4e6e6" stroke-width="0.6"/>
<path d="M262,166 C267,169 272,168.5 276,167 M283,167 C287,168.5 292,169 297,166" fill="none" stroke="#f0dede" stroke-width="0.5"/>
<circle cx="272.00" cy="160.00" r="0.80" fill="#f4e4e4" stroke="none" stroke-width="0.6"/>
<circle cx="287.00" cy="160.00" r="0.80" fill="#f4e4e4" stroke="none" stroke-width="0.6"/>
<circle cx="276.00" cy="172.00" r="0.60" fill="#f4e4e4" stroke="none" stroke-width="0.6"/>
<circle cx="283.00" cy="172.00" r="0.60" fill="#f4e4e4" stroke="none" stroke-width="0.6"/>
<rect x="277.50" y="177.50" width="4.00" height="3.00" fill="none" stroke="#b08080" stroke-width="0.4"/>
<line x1="277.70" y1="179.30" x2="239.10" y2="214.20" stroke="#333" stroke-width="0.45"/>
<line x1="279.90" y1="179.30" x2="322.40" y2="214.20" stroke="#333" stroke-width="0.45"/>
<path d="M276,218 C262,218 250,220 244,228 C239,236 238,250 239,260 C240,268 246,269 256,268 C266,266 275,267 284,268 C291,268 294,265 294,258 C294,248 293,236 292,229 C290,222 284,218 276,218 Z" fill="none" stroke="#222" stroke-width="0.7" stroke-dasharray="2 1.4" fill="none"/>
<path d="M295.3,208 C293.5,222 293.5,240 294,255 C294.5,268 295,276 294.5,283" fill="none" stroke="#222" stroke-width="0.7" stroke-dasharray="2 1.4" fill="none"/>
<circle cx="257.80" cy="238.90" r="2.20" fill="#6fa065" stroke="none" stroke-width="0.6"/>
<line x1="257.80" y1="238.90" x2="246.00" y2="233.00" stroke="#6fa065" stroke-width="0.6"/>
<line x1="246.00" y1="233.00" x2="243.00" y2="228.00" stroke="#6fa065" stroke-width="0.6"/>
<line x1="246.00" y1="233.00" x2="242.00" y2="236.00" stroke="#6fa065" stroke-width="0.6"/>
<line x1="257.80" y1="238.90" x2="250.00" y2="243.00" stroke="#6fa065" stroke-width="0.6"/>
<line x1="250.00" y1="243.00" x2="244.00" y2="242.00" stroke="#6fa065" stroke-width="0.6"/>
<line x1="257.80" y1="238.90" x2="262.00" y2="250.00" stroke="#6fa065" stroke-width="0.6"/>
<line x1="262.00" y1="250.00" x2="266.00" y2="256.00" stroke="#6fa065" stroke-width="0.6"/>
<line x1="262.00" y1="250.00" x2="258.00" y2="255.00" stroke="#6fa065" stroke-width="0.6"/>
<line x1="257.80" y1="238.90" x2="266.00" y2="230.00" stroke="#6fa065" stroke-width="0.6"/>
<line x1="266.00" y1="230.00" x2="270.00" y2="228.00" stroke="#6fa065" stroke-width="0.6"/>
<line x1="257.80" y1="238.90" x2="252.00" y2="230.00" stroke="#6fa065" stroke-width="0.6"/>
<line x1="252.00" y1="230.00" x2="253.00" y2="226.00" stroke="#6fa065" stroke-width="0.6"/>
<circle cx="276.30" cy="240.70" r="2.30" fill="#d4a592" stroke="none" stroke-width="0.6"/>
<line x1="276.30" y1="240.70" x2="265.00" y2="236.00" stroke="#d4a592" stroke-width="0.6"/>
<line x1="265.00" y1="236.00" x2="262.00" y2="232.00" stroke="#d4a592" stroke-width="0.6"/>
<line x1="276.30" y1="240.70" x2="285.00" y2="233.00" stroke="#d4a592" stroke-width="0.6"/>
<line x1="285.00" y1="233.00" x2="291.00" y2="231.00" stroke="#d4a592" stroke-width="0.6"/>
<line x1="285.00" y1="233.00" x2="287.00" y2="228.00" stroke="#d4a592" stroke-width="0.6"/>
<line x1="276.30" y1="240.70" x2="274.00" y2="252.00" stroke="#d4a592" stroke-width="0.6"/>
<line x1="274.00" y1="252.00" x2="270.00" y2="256.00" stroke="#d4a592" stroke-width="0.6"/>
<line x1="274.00" y1="252.00" x2="278.00" y2="257.00" stroke="#d4a592" stroke-width="0.6"/>
<line x1="276.30" y1="240.70" x2="267.00" y2="243.00" stroke="#d4a592" stroke-width="0.6"/>
<line x1="267.00" y1="243.00" x2="265.00" y2="247.00" stroke="#d4a592" stroke-width="0.6"/>
<polygon points="258.50,235.50 278.50,217.50 281.50,221.00" fill="#8a8a8a"/>
<polyline points="280.00,219.00 286.20,213.60 317.90,213.60" fill="none" stroke="#555" stroke-width="0.5" stroke-linejoin="round"/>
<polygon points="302.50,210.00 302.50,217.20 310.70,213.60" fill="#a8c8f0" stroke="#6f9fdf" stroke-width="0.4"/>
<circle cx="296.50" cy="218.10" r="1.00" fill="#333" stroke="none" stroke-width="0.6"/>
<text x="293.50" y="227.20" font-size="9.3" text-anchor="start" fill="#231f20">Whole-cell</text>
<text x="293.50" y="235.30" font-size="9.43" text-anchor="start" fill="#231f20">recording</text>
<line x1="256.30" y1="244.40" x2="249.60" y2="267.50" stroke="#111" stroke-width="0.6"/>
<polygon points="248.20,266.40 251.50,267.30 249.10,270.20" fill="#111"/>
<line x1="279.90" y1="244.40" x2="300.00" y2="255.00" stroke="#111" stroke-width="0.6"/>
<polygon points="299.00,253.00 300.50,256.50 303.00,256.30" fill="#111"/>
<text x="241" y="279.7" font-size="8.3" fill="#7ba86f">GPR50<tspan font-size="5" dy="-3.5">+</tspan></text>
<text x="241.00" y="287.80" font-size="8.99" text-anchor="start" fill="#7ba86f">neuron</text>
<text x="302.5" y="262.5" font-size="8.3" fill="#d4a896">GPR50<tspan font-size="5" dy="-3.5">−</tspan></text>
<text x="302.50" y="270.60" font-size="9.03" text-anchor="start" fill="#d4a896">neuron</text>
<text x="343.60" y="9.00" font-size="12.5" text-anchor="start" fill="#000" font-weight="bold">d</text>
<line x1="345.80" y1="15.50" x2="464.50" y2="15.50" stroke="#111" stroke-width="0.85" stroke-dasharray="2.8 2.4"/>
<text x="486.9" y="18.5" font-size="8.9" fill="#231f20">GPR50<tspan font-size="5.5" dy="-3.6">+</tspan><tspan dy="3.6"> neurons</tspan></text>
<line x1="561.50" y1="15.50" x2="676.20" y2="15.50" stroke="#111" stroke-width="0.85" stroke-dasharray="2.8 2.4"/>
<text x="343.60" y="159.30" font-size="12.5" text-anchor="start" fill="#000" font-weight="bold">e</text>
<line x1="345.80" y1="167.50" x2="464.50" y2="167.50" stroke="#111" stroke-width="0.85" stroke-dasharray="2.8 2.4"/>
<text x="486.9" y="171.0" font-size="8.9" fill="#231f20">GPR50<tspan font-size="5.5" dy="-3.6">−</tspan><tspan dy="3.6"> neurons</tspan></text>
<line x1="561.50" y1="167.50" x2="676.20" y2="167.50" stroke="#111" stroke-width="0.85" stroke-dasharray="2.8 2.4"/>
<polyline points="374.30,44.20 476.00,44.20" fill="none" stroke="#231f20" stroke-width="0.9" stroke-linejoin="round"/>
<rect x="387.40" y="33.60" width="75.40" height="10.60" fill="none" stroke="#231f20" stroke-width="0.9"/>
<line x1="387.40" y1="39.10" x2="462.80" y2="39.10" stroke="#231f20" stroke-width="0.9"/>
<line x1="421.20" y1="42.30" x2="424.70" y2="36.00" stroke="#231f20" stroke-width="1.0"/>
<line x1="423.30" y1="42.30" x2="426.80" y2="36.00" stroke="#231f20" stroke-width="1.0"/>
<text x="357.50" y="36.50" font-size="9.11" text-anchor="start" fill="#231f20">80 pA</text>
<text x="344.00" y="48.90" font-size="8.83" text-anchor="start" fill="#231f20">–30 pA</text>
<text x="466.40" y="42.20" font-size="8.77" text-anchor="start" fill="#231f20">–20 pA</text>
<g stroke="#4654a0" fill="none" stroke-width="0.33" stroke-linejoin="round">
<polyline points="374.7,86.0 388.4,86.0 389.0,88.0 389.6,89.8 390.2,91.0 390.8,91.8 391.4,92.6 392.0,93.1 392.6,93.5 393.1,93.8 393.7,93.9 394.3,94.0 394.9,94.3 395.5,94.3 396.1,94.5 396.7,94.3 397.3,94.4 397.9,94.5 398.5,94.4 399.1,94.6 399.7,94.6 400.3,94.4 400.9,94.3 401.5,94.5 402.0,94.5 402.6,94.4 403.2,94.3 403.8,94.4 404.4,94.3 405.0,94.3 405.6,94.3 406.2,94.3 406.8,94.3 407.4,94.3 408.0,94.2 408.6,94.3 409.2,94.2 409.8,94.2 410.4,94.4 410.9,94.3 411.5,94.3 412.1,94.2 412.7,94.4 413.3,94.3 413.9,94.1 414.5,94.2 415.1,94.3 415.7,94.3 416.3,94.3 416.9,94.2 417.5,94.3 418.1,94.2 418.7,94.1 419.3,94.2 419.8,94.3 420.4,94.3 421.0,94.2 421.6,94.2 422.2,94.1 422.8,94.1 423.4,94.2 424.0,94.1 424.6,94.1 425.2,94.2 425.8,94.2 426.4,94.2 427.0,94.1 427.6,94.1 428.2,94.1 428.7,94.2 429.3,94.1 429.9,94.1 430.5,94.1 431.1,94.0 431.7,94.0 432.3,94.2 432.9,94.2 433.5,94.1 434.1,94.1 434.7,94.0 435.3,94.1 435.9,94.2 436.5,94.2 437.1,94.1 437.6,94.2 438.2,94.0 438.8,94.1 439.4,94.2 440.0,94.1 440.6,94.1 441.2,94.1 441.8,94.1 442.4,94.2 443.0,94.0 443.6,94.2 444.2,94.2 444.8,94.2 445.4,94.2 446.0,94.2 446.5,94.1 447.1,94.1 447.7,94.1 448.3,94.0 448.9,94.2 449.5,94.1 450.1,94.0 450.7,94.1 451.3,94.1 451.9,94.1 452.5,94.1 453.1,94.1 453.7,94.1 454.3,94.1 454.9,94.1 455.4,94.0 456.0,94.0 456.6,94.0 457.2,94.1 457.8,94.2 458.4,94.2 459.0,94.2 459.6,94.2 460.3,91.1 461.1,89.3 461.8,88.2 462.5,87.5 463.3,87.0 464.0,86.6 464.7,86.4 465.5,86.2 466.2,86.1 466.9,86.1 467.7,86.0 468.4,86.0 469.2,86.0 469.9,86.0 470.6,86.0 471.4,86.0 472.1,86.0 472.8,86.0 473.6,86.0 474.3,86.0 475.0,86.0 475.8,86.0 476.5,86.0"/>
<polyline points="374.7,86.0 388.4,86.0 389.0,87.4 389.6,88.6 390.2,89.3 390.8,89.8 391.4,90.3 392.0,90.6 392.6,91.1 393.1,91.1 393.7,91.2 394.3,91.5 394.9,91.5 395.5,91.5 396.1,91.5 396.7,91.6 397.3,91.6 397.9,91.6 398.5,91.7 399.1,91.6 399.7,91.6 400.3,91.6 400.9,91.5 401.5,91.6 402.0,91.6 402.6,91.5 403.2,91.5 403.8,91.7 404.4,91.6 405.0,91.5 405.6,91.6 406.2,91.6 406.8,91.4 407.4,91.4 408.0,91.5 408.6,91.6 409.2,91.4 409.8,91.6 410.4,91.6 410.9,91.5 411.5,91.4 412.1,91.6 412.7,91.6 413.3,91.5 413.9,91.4 414.5,91.5 415.1,91.5 415.7,91.5 416.3,91.4 416.9,91.5 417.5,91.4 418.1,91.4 418.7,91.6 419.3,91.5 419.8,91.4 420.4,91.5 421.0,91.4 421.6,91.5 422.2,91.5 422.8,91.4 423.4,91.4 424.0,91.3 424.6,91.5 425.2,91.3 425.8,91.5 426.4,91.5 427.0,91.4 427.6,91.3 428.2,91.5 428.7,91.5 429.3,91.5 429.9,91.4 430.5,91.4 431.1,91.4 431.7,91.3 432.3,91.5 432.9,91.4 433.5,91.3 434.1,91.3 434.7,91.5 435.3,91.4 435.9,91.4 436.5,91.4 437.1,91.5 437.6,91.5 438.2,91.3 438.8,91.3 439.4,91.4 440.0,91.5 440.6,91.5 441.2,91.4 441.8,91.3 442.4,91.4 443.0,91.5 443.6,91.5 444.2,91.4 444.8,91.5 445.4,91.4 446.0,91.4 446.5,91.5 447.1,91.3 447.7,91.5 448.3,91.3 448.9,91.3 449.5,91.5 450.1,91.3 450.7,91.5 451.3,91.4 451.9,91.5 452.5,91.4 453.1,91.4 453.7,91.4 454.3,91.5 454.9,91.4 455.4,91.5 456.0,91.5 456.6,91.3 457.2,91.4 457.8,91.3 458.4,91.3 459.0,91.3 459.6,91.5 460.3,89.4 461.1,88.2 461.8,87.5 462.5,87.0 463.3,86.6 464.0,86.4 464.7,86.3 465.5,86.2 466.2,86.1 466.9,86.0 467.7,86.0 468.4,86.0 469.2,86.0 469.9,86.0 470.6,86.0 471.4,86.0 472.1,86.0 472.8,86.0 473.6,86.0 474.3,86.0 475.0,86.0 475.8,86.0 476.5,86.0"/>
<polyline points="374.7,86.0 388.4,86.0 389.0,86.8 389.6,87.3 390.2,87.6 390.8,88.0 391.4,88.3 392.0,88.3 392.6,88.5 393.1,88.5 393.7,88.6 394.3,88.7 394.9,88.8 395.5,88.8 396.1,88.9 396.7,88.8 397.3,88.8 397.9,88.9 398.5,88.9 399.1,88.7 399.7,88.9 400.3,88.7 400.9,88.7 401.5,88.9 402.0,88.7 402.6,88.7 403.2,88.9 403.8,88.8 404.4,88.7 405.0,88.7 405.6,88.7 406.2,88.8 406.8,88.7 407.4,88.9 408.0,88.7 408.6,88.9 409.2,88.9 409.8,88.7 410.4,88.7 410.9,88.7 411.5,88.7 412.1,88.8 412.7,88.6 413.3,88.6 413.9,88.9 414.5,88.7 415.1,88.8 415.7,88.7 416.3,88.7 416.9,88.6 417.5,88.8 418.1,88.8 418.7,88.8 419.3,88.6 419.8,88.7 420.4,88.8 421.0,88.8 421.6,88.7 422.2,88.8 422.8,88.8 423.4,88.7 424.0,88.7 424.6,88.7 425.2,88.7 425.8,88.6 426.4,88.7 427.0,88.8 427.6,88.7 428.2,88.7 428.7,88.7 429.3,88.8 429.9,88.7 430.5,88.7 431.1,88.7 431.7,88.7 432.3,88.8 432.9,88.8 433.5,88.7 434.1,88.7 434.7,88.7 435.3,88.7 435.9,88.7 436.5,88.6 437.1,88.6 437.6,88.6 438.2,88.6 438.8,88.7 439.4,88.6 440.0,88.6 440.6,88.7 441.2,88.7 441.8,88.8 442.4,88.7 443.0,88.8 443.6,88.6 444.2,88.7 444.8,88.8 445.4,88.6 446.0,88.8 446.5,88.6 447.1,88.8 447.7,88.8 448.3,88.8 448.9,88.7 449.5,88.6 450.1,88.7 450.7,88.8 451.3,88.7 451.9,88.8 452.5,88.6 453.1,88.8 453.7,88.6 454.3,88.7 454.9,88.8 455.4,88.8 456.0,88.8 456.6,88.8 457.2,88.8 457.8,88.7 458.4,88.6 459.0,88.7 459.6,88.6 460.3,87.6 461.1,87.1 461.8,86.7 462.5,86.5 463.3,86.3 464.0,86.2 464.7,86.1 465.5,86.1 466.2,86.0 466.9,86.0 467.7,86.0 468.4,86.0 469.2,86.0 469.9,86.0 470.6,86.0 471.4,86.0 472.1,86.0 472.8,86.0 473.6,86.0 474.3,86.0 475.0,86.0 475.8,86.0 476.5,86.0"/>
<polyline points="374.7,86.0 388.4,86.0 389.0,85.9 389.6,85.7 390.2,85.5 390.8,85.4 391.4,85.5 392.0,85.5 392.6,85.4 393.1,85.3 393.7,85.4 394.3,85.3 394.9,85.3 395.5,85.2 396.1,85.2 396.7,85.2 397.3,85.3 397.9,85.2 398.5,85.3 399.1,85.2 399.7,85.2 400.3,85.2 400.9,85.2 401.5,85.2 402.0,85.3 402.6,85.2 403.2,85.2 403.8,85.3 404.4,85.2 405.0,85.2 405.6,85.3 406.2,85.3 406.8,85.3 407.4,85.3 408.0,85.3 408.6,85.3 409.2,85.2 409.8,85.3 410.4,85.3 410.9,85.2 411.5,85.3 412.1,85.3 412.7,85.4 413.3,85.4 413.9,85.2 414.5,85.3 415.1,85.2 415.7,85.2 416.3,85.3 416.9,85.4 417.5,85.2 418.1,85.4 418.7,85.4 419.3,85.2 419.8,85.3 420.4,85.4 421.0,85.3 421.6,85.3 422.2,85.3 422.8,85.3 423.4,85.4 424.0,85.4 424.6,85.4 425.2,85.3 425.8,85.2 426.4,85.2 427.0,85.2 427.6,85.3 428.2,85.4 428.7,85.2 429.3,85.3 429.9,85.3 430.5,85.3 431.1,85.3 431.7,85.2 432.3,85.3 432.9,85.2 433.5,85.4 434.1,85.4 434.7,85.3 435.3,85.2 435.9,85.4 436.5,85.4 437.1,85.2 437.6,85.4 438.2,85.4 438.8,85.3 439.4,85.3 440.0,85.3 440.6,85.4 441.2,85.4 441.8,85.3 442.4,85.4 443.0,85.3 443.6,85.2 444.2,85.3 444.8,85.2 445.4,85.4 446.0,85.4 446.5,85.2 447.1,85.3 447.7,85.3 448.3,85.2 448.9,85.2 449.5,85.2 450.1,85.4 450.7,85.2 451.3,85.2 451.9,85.3 452.5,85.2 453.1,85.3 453.7,85.3 454.3,85.4 454.9,85.2 455.4,85.2 456.0,85.3 456.6,85.2 457.2,85.3 457.8,85.2 458.4,85.3 459.0,85.4 459.6,85.4 460.3,85.5 461.1,85.7 461.8,85.8 462.5,85.8 463.3,85.9 464.0,85.9 464.7,85.9 465.5,86.0 466.2,86.0 466.9,86.0 467.7,86.0 468.4,86.0 469.2,86.0 469.9,86.0 470.6,86.0 471.4,86.0 472.1,86.0 472.8,86.0 473.6,86.0 474.3,86.0 475.0,86.0 475.8,86.0 476.5,86.0"/>
<polyline points="374.7,86.0 388.4,86.0 389.0,85.6 389.6,84.9 390.2,84.5 390.8,84.3 391.4,84.0 392.0,83.7 392.6,83.5 393.1,83.3 393.7,83.1 394.3,83.2 394.9,82.9 395.5,83.1 396.1,82.9 396.7,83.0 397.3,82.9 397.9,82.9 398.5,82.6 399.1,82.7 399.7,82.7 400.3,82.6 400.9,82.6 401.5,82.6 402.0,82.6 402.6,82.4 403.2,82.6 403.8,82.5 404.4,82.5 405.0,82.5 405.6,82.6 406.2,82.6 406.8,82.5 407.4,82.5 408.0,82.4 408.6,82.4 409.2,82.3 409.8,82.4 410.4,82.5 410.9,82.5 411.5,82.5 412.1,82.4 412.7,82.5 413.3,82.4 413.9,82.5 414.5,82.3 415.1,82.4 415.7,82.5 416.3,82.3 416.9,82.2 417.5,82.3 418.1,82.3 418.7,82.2 419.3,82.1 419.8,82.2 420.4,82.2 421.0,82.2 421.6,82.3 422.2,82.3 422.8,82.3 423.4,82.3 424.0,82.3 424.6,82.2 425.2,82.3 425.8,82.2 426.4,82.2 427.0,82.2 427.6,82.1 428.2,82.2 428.7,82.2 429.3,82.2 429.9,82.2 430.5,82.2 431.1,82.2 431.7,82.2 432.3,82.1 432.9,82.0 433.5,82.0 434.1,82.1 434.7,82.1 435.3,82.0 435.9,81.9 436.5,82.1 437.1,82.0 437.6,82.0 438.2,81.8 438.8,82.0 439.4,82.0 440.0,81.9 440.6,81.9 441.2,82.0 441.8,81.8 442.4,81.9 443.0,82.0 443.6,81.9 444.2,81.8 444.8,81.9 445.4,81.9 446.0,81.7 446.5,81.7 447.1,81.9 447.7,81.7 448.3,81.7 448.9,81.9 449.5,81.8 450.1,81.7 450.7,81.8 451.3,81.8 451.9,81.6 452.5,81.8 453.1,81.8 453.7,81.8 454.3,81.6 454.9,81.7 455.4,81.6 456.0,81.7 456.6,81.6 457.2,81.7 457.8,81.7 458.4,81.6 459.0,81.5 459.6,81.7 460.3,82.9 461.1,83.8 461.8,84.4 462.5,84.9 463.3,85.2 464.0,85.4 464.7,85.6 465.5,85.7 466.2,85.8 466.9,85.8 467.7,85.9 468.4,85.9 469.2,85.9 469.9,86.0 470.6,86.0 471.4,86.0 472.1,86.0 472.8,86.0 473.6,86.0 474.3,86.0 475.0,86.0 475.8,86.0 476.5,86.0"/>
<polyline points="374.7,86.0 388.4,86.0 388.6,84.1 388.8,82.8 389.0,81.9 389.2,81.4 389.3,81.0 389.5,80.8 389.7,53.0 389.9,84.0 391.4,82.5 393.0,81.6 394.5,81.0 396.0,80.6 397.6,80.3 399.1,80.1 399.2,58.2 399.5,83.3 400.9,82.3 402.3,81.7 403.7,81.2 405.1,81.0 406.5,80.8 408.0,80.6 408.1,61.3 408.3,83.8 411.6,82.1 415.0,81.0 418.3,80.3 421.6,79.8 424.9,79.5 428.3,79.2 428.4,64.7 428.6,82.4 433.2,81.1 437.7,80.3 442.2,79.7 446.8,79.3 451.3,79.1 455.9,78.9 456.0,59.1 456.2,82.1 456.8,81.9 457.3,81.6 457.9,81.4 458.5,81.1 459.0,80.8 459.6,80.6 460.3,82.1 461.1,83.2 461.8,84.0 462.5,84.6 463.3,85.0 464.0,85.3 464.7,85.5 465.5,85.6 466.2,85.7 466.9,85.8 467.7,85.9 468.4,85.9 469.2,85.9 469.9,85.9 470.6,86.0 471.4,86.0 472.1,86.0 472.8,86.0 473.6,86.0 474.3,86.0 475.0,86.0 475.8,86.0 476.5,86.0"/>
<polyline points="374.7,86.0 388.4,86.0 388.6,83.7 388.7,82.2 388.9,81.2 389.0,80.5 389.2,80.1 389.4,79.8 389.5,50.7 389.7,83.0 390.3,82.0 390.8,81.4 391.4,81.0 392.0,80.7 392.5,80.5 393.1,80.4 393.2,57.1 393.4,83.6 394.1,82.4 394.8,81.5 395.5,81.0 396.2,80.7 396.9,80.4 397.6,80.3 397.7,53.6 397.9,83.5 399.2,82.0 400.4,81.0 401.7,80.3 402.9,79.9 404.2,79.6 405.4,79.4 405.5,66.7 405.8,82.6 407.1,81.5 408.5,80.8 409.8,80.3 411.1,79.9 412.5,79.7 413.8,79.6 413.9,56.4 414.1,82.8 416.3,81.2 418.4,80.2 420.6,79.5 422.7,79.1 424.8,78.8 427.0,78.6 427.1,65.8 427.3,81.8 429.4,80.3 431.4,79.4 433.5,78.7 435.5,78.3 437.6,78.0 439.7,77.9 439.8,63.4 440.0,81.1 443.3,80.8 446.5,80.5 449.8,80.2 453.1,79.9 456.3,79.6 459.6,79.4 460.3,81.2 461.1,82.6 461.8,83.6 462.5,84.3 463.3,84.7 464.0,85.1 464.7,85.4 465.5,85.5 466.2,85.7 466.9,85.8 467.7,85.8 468.4,85.9 469.2,85.9 469.9,85.9 470.6,86.0 471.4,86.0 472.1,86.0 472.8,86.0 473.6,86.0 474.3,86.0 475.0,86.0 475.8,86.0 476.5,86.0"/>
<polyline points="374.7,86.0 388.4,86.0 388.5,83.6 388.7,82.0 388.8,80.9 388.9,80.2 389.1,79.8 389.2,79.5 389.3,52.1 389.6,82.7 390.2,81.5 390.8,80.8 391.4,80.3 392.0,80.0 392.6,79.7 393.2,79.6 393.3,60.0 393.6,82.8 394.0,81.4 394.5,80.5 395.0,79.9 395.5,79.5 395.9,79.2 396.4,79.0 396.5,67.9 396.8,82.2 397.6,81.2 398.4,80.5 399.2,80.1 400.1,79.8 400.9,79.6 401.7,79.4 401.8,65.6 402.1,82.6 402.7,81.0 403.4,80.0 404.1,79.3 404.7,78.8 405.4,78.5 406.1,78.3 406.2,59.8 406.4,81.5 407.4,80.4 408.4,79.7 409.4,79.3 410.4,78.9 411.4,78.7 412.3,78.6 412.5,63.0 412.7,81.8 413.9,80.3 415.2,79.2 416.4,78.6 417.7,78.1 418.9,77.8 420.2,77.6 420.3,60.8 420.5,80.8 421.9,79.5 423.3,78.7 424.7,78.1 426.1,77.7 427.5,77.5 428.9,77.3 429.1,65.1 429.3,80.5 430.7,79.5 432.1,78.9 433.6,78.4 435.0,78.2 436.4,78.0 437.9,77.8 438.0,67.0 438.2,81.0 440.0,79.7 441.7,78.9 443.4,78.3 445.2,78.0 446.9,77.7 448.7,77.6 448.8,57.7 449.0,80.8 450.8,80.3 452.5,79.9 454.3,79.4 456.1,79.0 457.8,78.6 459.6,78.1 460.3,80.4 461.1,82.0 461.8,83.1 462.5,83.9 463.3,84.5 464.0,84.9 464.7,85.2 465.5,85.5 466.2,85.6 466.9,85.7 467.7,85.8 468.4,85.9 469.2,85.9 469.9,85.9 470.6,85.9 471.4,86.0 472.1,86.0 472.8,86.0 473.6,86.0 474.3,86.0 475.0,86.0 475.8,86.0 476.5,86.0"/>
<polyline points="374.7,86.0 388.4,86.0 388.6,83.5 388.8,81.9 388.9,80.8 389.1,80.1 389.3,79.6 389.5,79.3 389.6,52.4 389.8,82.5 390.1,81.0 390.4,80.0 390.6,79.3 390.9,78.9 391.2,78.6 391.4,78.4 391.6,66.1 391.8,81.6 392.2,80.4 392.6,79.6 393.0,79.1 393.4,78.7 393.8,78.5 394.2,78.3 394.3,58.2 394.5,81.5 394.9,80.2 395.3,79.3 395.6,78.7 396.0,78.3 396.4,78.0 396.8,77.8 396.9,63.7 397.1,81.0 397.7,80.1 398.2,79.5 398.8,79.1 399.3,78.8 399.9,78.6 400.4,78.5 400.6,56.7 400.8,81.7 401.6,80.1 402.4,79.1 403.2,78.4 404.0,77.9 404.8,77.6 405.6,77.4 405.7,63.1 406.0,80.6 407.0,79.6 408.0,78.9 409.0,78.5 410.0,78.2 411.0,78.0 412.0,77.8 412.1,63.3 412.3,81.0 413.0,79.7 413.7,78.8 414.3,78.2 415.0,77.8 415.7,77.5 416.4,77.4 416.5,62.3 416.7,80.6 417.5,79.5 418.2,78.8 419.0,78.4 419.8,78.1 420.6,77.9 421.3,77.7 421.4,60.2 421.7,80.9 423.1,79.4 424.6,78.4 426.0,77.8 427.5,77.3 428.9,77.0 430.4,76.9 430.5,58.4 430.7,80.1 431.7,78.5 432.7,77.5 433.8,76.9 434.8,76.5 435.8,76.2 436.8,76.0 436.9,61.1 437.2,79.2 438.5,77.9 439.9,77.1 441.2,76.6 442.6,76.2 444.0,76.0 445.3,75.8 445.4,64.6 445.7,79.0 447.1,77.6 448.4,76.7 449.8,76.1 451.2,75.7 452.6,75.5 453.9,75.3 454.1,64.7 454.3,78.5 455.2,78.2 456.1,78.0 456.9,77.7 457.8,77.4 458.7,77.2 459.6,76.9 460.3,79.5 461.1,81.3 461.8,82.7 462.5,83.6 463.3,84.3 464.0,84.8 464.7,85.1 465.5,85.4 466.2,85.6 466.9,85.7 467.7,85.8 468.4,85.8 469.2,85.9 469.9,85.9 470.6,85.9 471.4,86.0 472.1,86.0 472.8,86.0 473.6,86.0 474.3,86.0 475.0,86.0 475.8,86.0 476.5,86.0"/>
<polyline points="374.7,86.0 388.4,86.0 388.6,83.1 388.8,81.2 389.0,79.9 389.2,79.1 389.4,78.5 389.6,78.2 389.7,49.8 389.9,81.4 390.2,80.2 390.4,79.4 390.7,78.9 390.9,78.5 391.2,78.3 391.4,78.1 391.5,66.6 391.8,81.3 392.2,80.2 392.7,79.5 393.1,79.0 393.6,78.7 394.1,78.5 394.5,78.4 394.6,57.1 394.9,81.6 395.2,80.0 395.5,79.0 395.8,78.3 396.1,77.8 396.4,77.5 396.7,77.3 396.8,57.0 397.1,80.5 397.6,79.6 398.2,79.0 398.8,78.6 399.4,78.3 400.0,78.2 400.5,78.0 400.7,60.6 400.9,81.2 401.6,79.6 402.2,78.6 402.9,77.9 403.5,77.5 404.2,77.2 404.8,77.0 405.0,59.8 405.2,80.2 406.0,79.1 406.7,78.5 407.5,78.0 408.2,77.7 409.0,77.5 409.8,77.4 409.9,65.5 410.1,80.6 410.6,79.0 411.2,78.0 411.7,77.3 412.2,76.9 412.7,76.6 413.2,76.4 413.3,66.3 413.6,79.6 414.1,78.5 414.7,77.8 415.3,77.4 415.9,77.1 416.5,76.9 417.1,76.8 417.2,61.1 417.4,80.0 418.5,78.7 419.5,77.8 420.6,77.2 421.6,76.9 422.7,76.6 423.7,76.5 423.9,62.7 424.1,79.7 425.1,78.3 426.1,77.4 427.1,76.8 428.1,76.4 429.1,76.2 430.1,76.0 430.2,60.1 430.4,79.2 431.5,77.7 432.5,76.6 433.6,76.0 434.6,75.5 435.7,75.3 436.7,75.1 436.9,67.5 437.1,78.3 438.8,76.9 440.4,76.1 442.1,75.5 443.8,75.1 445.5,74.9 447.1,74.7 447.3,57.3 447.5,77.9 448.6,76.5 449.6,75.6 450.7,75.1 451.8,74.7 452.8,74.4 453.9,74.2 454.0,61.4 454.3,77.4 455.2,77.1 456.0,76.9 456.9,76.6 457.8,76.3 458.7,76.0 459.6,75.7 460.3,78.6 461.1,80.7 461.8,82.2 462.5,83.3 463.3,84.1 464.0,84.6 464.7,85.0 465.5,85.3 466.2,85.5 466.9,85.6 467.7,85.7 468.4,85.8 469.2,85.9 469.9,85.9 470.6,85.9 471.4,86.0 472.1,86.0 472.8,86.0 473.6,86.0 474.3,86.0 475.0,86.0 475.8,86.0 476.5,86.0"/>
<polyline points="374.7,86.0 388.4,86.0 388.6,82.9 388.9,80.9 389.1,79.5 389.3,78.6 389.6,78.1 389.8,77.7 389.9,50.7 390.1,80.9 390.4,79.6 390.7,78.8 391.0,78.2 391.3,77.9 391.6,77.6 391.9,77.5 392.0,59.2 392.2,80.7 392.6,79.4 393.0,78.5 393.3,77.9 393.7,77.6 394.0,77.3 394.4,77.1 394.5,57.8 394.7,80.3 395.1,78.9 395.5,78.0 395.9,77.3 396.3,76.9 396.6,76.7 397.0,76.5 397.1,59.9 397.4,79.7 397.8,78.7 398.1,78.0 398.5,77.6 398.9,77.3 399.3,77.1 399.7,77.0 399.8,56.8 400.0,80.2 400.6,78.6 401.1,77.6 401.7,76.9 402.2,76.5 402.8,76.2 403.3,76.0 403.4,61.8 403.6,79.2 404.2,77.9 404.8,77.1 405.4,76.6 406.0,76.2 406.6,76.0 407.2,75.8 407.4,67.1 407.6,79.0 408.1,77.7 408.6,76.9 409.0,76.3 409.5,75.9 410.0,75.7 410.5,75.5 410.6,65.8 410.8,78.7 411.3,77.5 411.8,76.7 412.3,76.1 412.7,75.8 413.2,75.5 413.7,75.4 413.8,67.1 414.0,78.6 414.7,77.3 415.3,76.5 415.9,76.0 416.5,75.6 417.1,75.4 417.7,75.3 417.9,57.6 418.1,78.5 418.8,77.3 419.6,76.5 420.4,76.0 421.1,75.6 421.9,75.4 422.6,75.3 422.7,62.9 423.0,78.5 423.6,77.0 424.2,76.0 424.8,75.3 425.4,74.9 426.0,74.6 426.7,74.4 426.8,65.4 427.0,77.6 427.8,76.5 428.6,75.7 429.4,75.2 430.3,74.8 431.1,74.6 431.9,74.4 432.0,65.0 432.2,77.6 433.3,76.4 434.3,75.7 435.4,75.1 436.4,74.8 437.4,74.6 438.5,74.4 438.6,67.3 438.8,77.6 439.6,76.2 440.4,75.2 441.2,74.6 442.0,74.2 442.8,73.9 443.6,73.7 443.7,60.8 443.9,76.9 445.4,75.6 446.8,74.7 448.2,74.2 449.7,73.8 451.1,73.5 452.5,73.4 452.7,67.8 452.9,76.6 454.0,76.2 455.1,75.9 456.2,75.5 457.4,75.2 458.5,74.8 459.6,74.5 460.3,77.7 461.1,80.1 461.8,81.8 462.5,83.0 463.3,83.8 464.0,84.4 464.7,84.9 465.5,85.2 466.2,85.4 466.9,85.6 467.7,85.7 468.4,85.8 469.2,85.8 469.9,85.9 470.6,85.9 471.4,85.9 472.1,86.0 472.8,86.0 473.6,86.0 474.3,86.0 475.0,86.0 475.8,86.0 476.5,86.0"/>
<polyline points="374.7,86.0 388.4,86.0 388.6,82.8 388.7,80.7 388.9,79.3 389.1,78.4 389.2,77.8 389.4,77.4 389.5,51.0 389.7,80.6 389.9,79.0 390.0,78.0 390.1,77.3 390.3,76.8 390.4,76.5 390.6,76.3 390.7,59.4 390.9,79.5 391.1,78.3 391.2,77.5 391.4,76.9 391.5,76.6 391.7,76.3 391.8,76.2 391.9,66.4 392.2,79.4 392.4,78.1 392.7,77.3 392.9,76.8 393.2,76.4 393.4,76.2 393.7,76.0 393.8,61.1 394.0,79.2 394.3,78.1 394.5,77.3 394.8,76.8 395.1,76.5 395.3,76.3 395.6,76.2 395.7,62.5 395.9,79.4 396.3,78.0 396.7,77.1 397.0,76.5 397.4,76.1 397.7,75.8 398.1,75.7 398.2,65.6 398.4,78.9 398.7,77.7 398.9,77.0 399.2,76.5 399.4,76.1 399.6,75.9 399.9,75.8 400.0,65.8 400.2,79.0 400.6,77.6 400.9,76.7 401.2,76.1 401.5,75.7 401.8,75.5 402.1,75.3 402.3,59.1 402.5,78.5 402.9,77.6 403.3,77.0 403.8,76.6 404.2,76.3 404.6,76.1 405.1,76.0 405.2,65.0 405.4,79.2 405.7,77.7 406.0,76.7 406.3,76.1 406.6,75.7 406.8,75.4 407.1,75.2 407.2,62.2 407.5,78.4 407.8,77.3 408.1,76.5 408.4,76.0 408.8,75.7 409.1,75.5 409.4,75.4 409.5,60.8 409.8,78.6 410.2,77.1 410.7,76.2 411.2,75.5 411.7,75.1 412.2,74.8 412.7,74.6 412.8,65.6 413.0,77.8 413.5,76.7 413.9,76.0 414.4,75.5 414.8,75.1 415.2,74.9 415.7,74.8 415.8,56.5 416.0,78.0 416.4,76.6 416.9,75.7 417.3,75.1 417.7,74.7 418.1,74.4 418.5,74.3 418.6,61.5 418.9,77.5 419.4,76.5 419.9,75.8 420.4,75.4 420.9,75.1 421.4,74.9 421.9,74.8 422.1,59.6 422.3,78.0 423.0,76.5 423.7,75.4 424.4,74.8 425.1,74.3 425.8,74.0 426.6,73.9 426.7,56.1 426.9,77.1 427.6,76.0 428.4,75.3 429.1,74.8 429.8,74.5 430.6,74.3 431.3,74.2 431.4,59.6 431.6,77.4 432.2,75.8 432.8,74.7 433.4,74.0 433.9,73.5 434.5,73.2 435.1,73.0 435.2,65.0 435.4,76.2 436.1,74.9 436.7,74.0 437.3,73.4 437.9,73.0 438.5,72.8 439.1,72.6 439.2,62.5 439.5,75.8 440.6,74.6 441.7,73.8 442.8,73.3 443.9,72.9 445.0,72.7 446.1,72.6 446.2,62.6 446.4,75.8 447.5,74.4 448.6,73.5 449.7,72.9 450.8,72.5 451.9,72.3 453.0,72.1 453.1,62.5 453.3,75.3 454.2,73.8 455.0,72.9 455.9,72.2 456.8,71.8 457.7,71.5 458.5,71.3 458.7,67.4 458.9,74.5 459.0,74.3 459.1,74.1 459.2,73.9 459.4,73.7 459.5,73.5 459.6,73.2 460.3,76.9 461.1,79.5 461.8,81.3 462.5,82.6 463.3,83.6 464.0,84.3 464.7,84.8 465.5,85.1 466.2,85.4 466.9,85.5 467.7,85.7 468.4,85.8 469.2,85.8 469.9,85.9 470.6,85.9 471.4,85.9 472.1,86.0 472.8,86.0 473.6,86.0 474.3,86.0 475.0,86.0 475.8,86.0 476.5,86.0"/>
</g>
<line x1="374.70" y1="86.00" x2="388.40" y2="86.00" stroke="#4654a0" stroke-width="1.0"/>
<line x1="464.50" y1="86.00" x2="476.50" y2="86.00" stroke="#4654a0" stroke-width="1.0"/>
<g stroke="#c0587e" fill="none" stroke-width="0.33" stroke-linejoin="round">
<polyline points="374.7,133.4 388.4,133.4 389.0,134.9 389.6,136.0 390.2,136.6 390.8,137.2 391.4,137.8 392.0,138.2 392.6,138.4 393.1,138.5 393.7,138.7 394.3,138.8 394.9,138.9 395.5,138.9 396.1,139.0 396.7,139.0 397.3,139.1 397.9,139.1 398.5,139.1 399.1,139.0 399.7,139.0 400.3,139.0 400.9,138.9 401.5,138.9 402.0,139.0 402.6,138.9 403.2,138.9 403.8,139.1 404.4,139.0 405.0,139.0 405.6,138.9 406.2,138.8 406.8,138.9 407.4,138.8 408.0,138.9 408.6,139.0 409.2,138.9 409.8,138.8 410.4,139.0 410.9,139.0 411.5,138.9 412.1,139.0 412.7,138.9 413.3,138.9 413.9,138.8 414.5,139.0 415.1,139.0 415.7,138.8 416.3,138.9 416.9,138.9 417.5,138.8 418.1,138.8 418.7,138.8 419.3,138.9 419.8,138.8 420.4,138.9 421.0,138.8 421.6,138.9 422.2,138.9 422.8,138.8 423.4,138.8 424.0,138.9 424.6,138.9 425.2,138.8 425.8,138.7 426.4,138.8 427.0,138.8 427.6,138.7 428.2,138.9 428.7,138.7 429.3,138.9 429.9,138.7 430.5,138.9 431.1,138.8 431.7,138.8 432.3,138.8 432.9,138.8 433.5,138.8 434.1,138.7 434.7,138.7 435.3,138.8 435.9,138.9 436.5,138.8 437.1,138.7 437.6,138.9 438.2,138.8 438.8,138.9 439.4,138.7 440.0,138.8 440.6,138.7 441.2,138.8 441.8,138.7 442.4,138.7 443.0,138.9 443.6,138.7 444.2,138.8 444.8,138.9 445.4,138.7 446.0,138.7 446.5,138.9 447.1,138.8 447.7,138.8 448.3,138.7 448.9,138.7 449.5,138.7 450.1,138.8 450.7,138.7 451.3,138.9 451.9,138.7 452.5,138.8 453.1,138.7 453.7,138.7 454.3,138.8 454.9,138.7 455.4,138.7 456.0,138.8 456.6,138.7 457.2,138.7 457.8,138.9 458.4,138.7 459.0,138.7 459.6,138.7 460.3,136.7 461.1,135.6 461.8,134.8 462.5,134.4 463.3,134.0 464.0,133.8 464.7,133.6 465.5,133.5 466.2,133.5 466.9,133.4 467.7,133.4 468.4,133.4 469.2,133.4 469.9,133.4 470.6,133.4 471.4,133.4 472.1,133.4 472.8,133.4 473.6,133.4 474.3,133.4 475.0,133.4 475.8,133.4 476.5,133.4"/>
<polyline points="374.7,133.4 388.4,133.4 389.0,134.4 389.6,135.1 390.2,135.5 390.8,136.0 391.4,136.2 392.0,136.5 392.6,136.8 393.1,136.9 393.7,137.0 394.3,137.1 394.9,137.1 395.5,137.1 396.1,137.1 396.7,137.1 397.3,137.2 397.9,137.1 398.5,137.1 399.1,137.1 399.7,137.2 400.3,137.1 400.9,137.2 401.5,137.1 402.0,137.1 402.6,137.0 403.2,137.2 403.8,137.1 404.4,137.1 405.0,137.1 405.6,137.0 406.2,137.1 406.8,137.0 407.4,137.0 408.0,137.0 408.6,137.0 409.2,137.0 409.8,137.1 410.4,137.1 410.9,137.2 411.5,137.2 412.1,137.2 412.7,137.0 413.3,137.0 413.9,137.0 414.5,137.1 415.1,137.1 415.7,137.1 416.3,137.1 416.9,137.0 417.5,137.0 418.1,137.0 418.7,136.9 419.3,136.9 419.8,137.0 420.4,136.9 421.0,137.1 421.6,136.9 422.2,136.9 422.8,136.9 423.4,136.9 424.0,136.9 424.6,137.0 425.2,137.0 425.8,137.0 426.4,137.0 427.0,136.9 427.6,137.1 428.2,137.1 428.7,137.1 429.3,137.0 429.9,137.0 430.5,137.0 431.1,136.9 431.7,137.0 432.3,137.0 432.9,136.9 433.5,136.9 434.1,137.1 434.7,137.0 435.3,137.0 435.9,137.1 436.5,137.0 437.1,136.9 437.6,137.1 438.2,137.0 438.8,136.9 439.4,137.0 440.0,136.9 440.6,136.9 441.2,137.1 441.8,137.0 442.4,136.9 443.0,137.0 443.6,137.0 444.2,137.0 444.8,136.9 445.4,137.0 446.0,136.9 446.5,136.9 447.1,137.0 447.7,137.1 448.3,136.9 448.9,137.0 449.5,136.9 450.1,137.0 450.7,137.0 451.3,137.0 451.9,137.0 452.5,137.0 453.1,136.9 453.7,136.9 454.3,136.9 454.9,137.1 455.4,137.0 456.0,137.1 456.6,137.0 457.2,136.9 457.8,137.0 458.4,137.0 459.0,137.0 459.6,137.0 460.3,135.6 461.1,134.9 461.8,134.4 462.5,134.0 463.3,133.8 464.0,133.7 464.7,133.6 465.5,133.5 466.2,133.5 466.9,133.4 467.7,133.4 468.4,133.4 469.2,133.4 469.9,133.4 470.6,133.4 471.4,133.4 472.1,133.4 472.8,133.4 473.6,133.4 474.3,133.4 475.0,133.4 475.8,133.4 476.5,133.4"/>
<polyline points="374.7,133.4 388.4,133.4 389.0,133.8 389.6,134.2 390.2,134.6 390.8,134.6 391.4,134.9 392.0,135.0 392.6,135.2 393.1,135.2 393.7,135.3 394.3,135.3 394.9,135.2 395.5,135.2 396.1,135.3 396.7,135.2 397.3,135.3 397.9,135.3 398.5,135.4 399.1,135.3 399.7,135.3 400.3,135.2 400.9,135.2 401.5,135.4 402.0,135.2 402.6,135.2 403.2,135.2 403.8,135.2 404.4,135.3 405.0,135.4 405.6,135.3 406.2,135.2 406.8,135.2 407.4,135.2 408.0,135.3 408.6,135.3 409.2,135.2 409.8,135.2 410.4,135.1 410.9,135.2 411.5,135.3 412.1,135.3 412.7,135.1 413.3,135.2 413.9,135.3 414.5,135.2 415.1,135.3 415.7,135.2 416.3,135.3 416.9,135.2 417.5,135.3 418.1,135.3 418.7,135.2 419.3,135.1 419.8,135.2 420.4,135.1 421.0,135.2 421.6,135.3 422.2,135.1 422.8,135.2 423.4,135.2 424.0,135.2 424.6,135.3 425.2,135.3 425.8,135.2 426.4,135.2 427.0,135.3 427.6,135.2 428.2,135.3 428.7,135.2 429.3,135.3 429.9,135.3 430.5,135.1 431.1,135.2 431.7,135.2 432.3,135.2 432.9,135.3 433.5,135.2 434.1,135.1 434.7,135.2 435.3,135.2 435.9,135.3 436.5,135.2 437.1,135.3 437.6,135.1 438.2,135.3 438.8,135.2 439.4,135.2 440.0,135.3 440.6,135.3 441.2,135.1 441.8,135.3 442.4,135.3 443.0,135.1 443.6,135.3 444.2,135.2 444.8,135.1 445.4,135.3 446.0,135.1 446.5,135.2 447.1,135.2 447.7,135.1 448.3,135.2 448.9,135.2 449.5,135.1 450.1,135.3 450.7,135.1 451.3,135.1 451.9,135.2 452.5,135.3 453.1,135.2 453.7,135.3 454.3,135.2 454.9,135.2 455.4,135.2 456.0,135.1 456.6,135.2 457.2,135.1 457.8,135.1 458.4,135.3 459.0,135.1 459.6,135.3 460.3,134.6 461.1,134.2 461.8,133.9 462.5,133.7 463.3,133.6 464.0,133.5 464.7,133.5 465.5,133.5 466.2,133.4 466.9,133.4 467.7,133.4 468.4,133.4 469.2,133.4 469.9,133.4 470.6,133.4 471.4,133.4 472.1,133.4 472.8,133.4 473.6,133.4 474.3,133.4 475.0,133.4 475.8,133.4 476.5,133.4"/>
<polyline points="374.7,133.4 388.4,133.4 389.0,133.3 389.6,133.1 390.2,133.0 390.8,133.0 391.4,132.9 392.0,132.7 392.6,132.7 393.1,132.7 393.7,132.7 394.3,132.6 394.9,132.6 395.5,132.7 396.1,132.8 396.7,132.6 397.3,132.7 397.9,132.6 398.5,132.6 399.1,132.8 399.7,132.6 400.3,132.7 400.9,132.7 401.5,132.7 402.0,132.8 402.6,132.6 403.2,132.7 403.8,132.6 404.4,132.7 405.0,132.7 405.6,132.7 406.2,132.6 406.8,132.8 407.4,132.6 408.0,132.7 408.6,132.7 409.2,132.7 409.8,132.8 410.4,132.8 410.9,132.7 411.5,132.6 412.1,132.6 412.7,132.7 413.3,132.6 413.9,132.6 414.5,132.8 415.1,132.6 415.7,132.8 416.3,132.7 416.9,132.7 417.5,132.6 418.1,132.6 418.7,132.7 419.3,132.6 419.8,132.7 420.4,132.6 421.0,132.8 421.6,132.8 422.2,132.7 422.8,132.7 423.4,132.8 424.0,132.6 424.6,132.6 425.2,132.6 425.8,132.6 426.4,132.7 427.0,132.7 427.6,132.7 428.2,132.8 428.7,132.6 429.3,132.8 429.9,132.7 430.5,132.7 431.1,132.8 431.7,132.7 432.3,132.8 432.9,132.8 433.5,132.7 434.1,132.7 434.7,132.8 435.3,132.8 435.9,132.8 436.5,132.8 437.1,132.8 437.6,132.8 438.2,132.8 438.8,132.6 439.4,132.7 440.0,132.7 440.6,132.7 441.2,132.7 441.8,132.6 442.4,132.8 443.0,132.7 443.6,132.7 444.2,132.8 444.8,132.6 445.4,132.8 446.0,132.6 446.5,132.6 447.1,132.7 447.7,132.7 448.3,132.8 448.9,132.8 449.5,132.8 450.1,132.7 450.7,132.7 451.3,132.6 451.9,132.8 452.5,132.7 453.1,132.6 453.7,132.7 454.3,132.6 454.9,132.7 455.4,132.8 456.0,132.6 456.6,132.6 457.2,132.6 457.8,132.6 458.4,132.7 459.0,132.6 459.6,132.7 460.3,132.9 461.1,133.0 461.8,133.1 462.5,133.2 463.3,133.3 464.0,133.3 464.7,133.3 465.5,133.3 466.2,133.4 466.9,133.4 467.7,133.4 468.4,133.4 469.2,133.4 469.9,133.4 470.6,133.4 471.4,133.4 472.1,133.4 472.8,133.4 473.6,133.4 474.3,133.4 475.0,133.4 475.8,133.4 476.5,133.4"/>
<polyline points="374.7,133.4 388.4,133.4 389.0,132.7 389.6,132.3 390.2,132.0 390.8,131.6 391.4,131.3 392.0,131.2 392.6,130.8 393.1,130.7 393.7,130.8 394.3,130.5 394.9,130.5 395.5,130.3 396.1,130.3 396.7,130.4 397.3,130.2 397.9,130.3 398.5,130.2 399.1,130.1 399.7,130.2 400.3,130.0 400.9,130.0 401.5,130.1 402.0,129.9 402.6,130.1 403.2,130.0 403.8,130.0 404.4,130.0 405.0,130.1 405.6,130.1 406.2,130.0 406.8,129.9 407.4,129.9 408.0,129.9 408.6,129.7 409.2,129.7 409.8,130.0 410.4,129.7 410.9,130.0 411.5,129.9 412.1,129.9 412.7,129.7 413.3,129.7 413.9,129.9 414.5,129.6 415.1,129.6 415.7,129.7 416.3,129.6 416.9,129.6 417.5,129.8 418.1,129.6 418.7,129.8 419.3,129.7 419.8,129.5 420.4,129.8 421.0,129.6 421.6,129.6 422.2,129.6 422.8,129.5 423.4,129.6 424.0,129.5 424.6,129.5 425.2,129.7 425.8,129.7 426.4,129.6 427.0,129.6 427.6,129.7 428.2,129.4 428.7,129.5 429.3,129.4 429.9,129.4 430.5,129.4 431.1,129.4 431.7,129.3 432.3,129.4 432.9,129.4 433.5,129.5 434.1,129.5 434.7,129.5 435.3,129.5 435.9,129.4 436.5,129.5 437.1,129.3 437.6,129.3 438.2,129.5 438.8,129.4 439.4,129.3 440.0,129.3 440.6,129.3 441.2,129.3 441.8,129.3 442.4,129.3 443.0,129.4 443.6,129.4 444.2,129.3 444.8,129.2 445.4,129.2 446.0,129.3 446.5,129.4 447.1,129.1 447.7,129.3 448.3,129.2 448.9,129.2 449.5,129.0 450.1,129.2 450.7,129.1 451.3,129.0 451.9,129.2 452.5,129.2 453.1,129.1 453.7,129.2 454.3,129.2 454.9,129.1 455.4,128.9 456.0,129.1 456.6,129.1 457.2,129.1 457.8,129.1 458.4,128.9 459.0,128.9 459.6,128.9 460.3,130.2 461.1,131.1 461.8,131.7 462.5,132.2 463.3,132.5 464.0,132.8 464.7,133.0 465.5,133.1 466.2,133.2 466.9,133.2 467.7,133.3 468.4,133.3 469.2,133.3 469.9,133.4 470.6,133.4 471.4,133.4 472.1,133.4 472.8,133.4 473.6,133.4 474.3,133.4 475.0,133.4 475.8,133.4 476.5,133.4"/>
<polyline points="374.7,133.4 388.4,133.4 388.6,131.4 388.8,130.0 388.9,129.1 389.1,128.5 389.3,128.1 389.5,127.9 389.6,100.5 389.8,131.1 391.8,130.1 393.8,129.4 395.7,128.9 397.7,128.6 399.7,128.5 401.6,128.3 401.8,108.8 402.0,131.5 404.7,130.0 407.4,129.0 410.0,128.3 412.7,127.9 415.4,127.6 418.1,127.4 418.2,109.4 418.4,130.6 425.1,129.1 431.7,128.1 438.3,127.5 445.0,127.1 451.6,126.8 458.2,126.6 458.3,109.0 458.6,129.8 458.7,129.5 458.9,129.3 459.1,129.0 459.3,128.8 459.4,128.5 459.6,128.2 460.3,129.7 461.1,130.8 461.8,131.5 462.5,132.0 463.3,132.4 464.0,132.7 464.7,132.9 465.5,133.0 466.2,133.1 466.9,133.2 467.7,133.3 468.4,133.3 469.2,133.3 469.9,133.4 470.6,133.4 471.4,133.4 472.1,133.4 472.8,133.4 473.6,133.4 474.3,133.4 475.0,133.4 475.8,133.4 476.5,133.4"/>
<polyline points="374.7,133.4 388.4,133.4 388.5,131.1 388.7,129.6 388.8,128.6 389.0,128.0 389.1,127.6 389.3,127.3 389.4,99.3 389.6,130.5 390.7,129.5 391.7,128.8 392.8,128.4 393.8,128.1 394.9,127.9 395.9,127.8 396.0,108.7 396.3,131.0 397.5,129.6 398.8,128.7 400.1,128.1 401.3,127.7 402.6,127.4 403.8,127.3 404.0,106.4 404.2,130.5 406.1,129.0 408.0,128.1 410.0,127.4 411.9,127.0 413.8,126.8 415.7,126.6 415.9,112.3 416.1,129.8 418.0,128.4 419.8,127.6 421.7,127.0 423.6,126.6 425.4,126.3 427.3,126.2 427.4,109.4 427.7,129.4 431.1,128.1 434.6,127.2 438.1,126.7 441.6,126.3 445.1,126.0 448.6,125.9 448.7,108.2 448.9,129.1 450.7,128.7 452.5,128.4 454.3,128.1 456.0,127.7 457.8,127.4 459.6,127.1 460.3,128.9 461.1,130.2 461.8,131.1 462.5,131.7 463.3,132.2 464.0,132.5 464.7,132.8 465.5,133.0 466.2,133.1 466.9,133.2 467.7,133.2 468.4,133.3 469.2,133.3 469.9,133.3 470.6,133.4 471.4,133.4 472.1,133.4 472.8,133.4 473.6,133.4 474.3,133.4 475.0,133.4 475.8,133.4 476.5,133.4"/>
<polyline points="374.7,133.4 388.4,133.4 388.6,130.9 388.7,129.3 388.9,128.2 389.0,127.5 389.2,127.0 389.3,126.7 389.4,99.3 389.7,129.9 390.2,128.8 390.7,128.1 391.2,127.6 391.7,127.2 392.2,127.0 392.7,126.9 392.8,114.6 393.0,130.1 393.6,128.8 394.2,128.0 394.8,127.4 395.3,127.0 395.9,126.8 396.5,126.7 396.6,103.9 396.8,129.9 397.7,128.5 398.5,127.6 399.4,127.0 400.3,126.7 401.1,126.4 402.0,126.2 402.1,107.6 402.3,129.4 403.2,128.5 404.1,127.9 404.9,127.5 405.8,127.3 406.7,127.1 407.5,127.0 407.6,114.4 407.9,130.2 409.1,128.8 410.4,127.9 411.7,127.3 412.9,126.9 414.2,126.6 415.5,126.5 415.6,107.8 415.8,129.7 417.5,128.3 419.2,127.3 420.8,126.7 422.5,126.3 424.2,126.1 425.8,125.9 425.9,107.1 426.2,129.1 427.9,127.6 429.7,126.5 431.4,125.9 433.2,125.4 434.9,125.1 436.7,125.0 436.8,108.1 437.0,128.2 439.0,126.9 440.9,126.1 442.8,125.6 444.7,125.2 446.6,125.0 448.5,124.8 448.7,109.0 448.9,128.0 450.7,127.7 452.5,127.3 454.2,126.9 456.0,126.6 457.8,126.2 459.6,125.9 460.3,128.0 461.1,129.5 461.8,130.6 462.5,131.4 463.3,132.0 464.0,132.4 464.7,132.7 465.5,132.9 466.2,133.0 466.9,133.1 467.7,133.2 468.4,133.3 469.2,133.3 469.9,133.3 470.6,133.3 471.4,133.4 472.1,133.4 472.8,133.4 473.6,133.4 474.3,133.4 475.0,133.4 475.8,133.4 476.5,133.4"/>
<polyline points="374.7,133.4 388.4,133.4 388.6,130.7 388.8,129.0 389.0,127.8 389.2,127.0 389.4,126.5 389.7,126.2 389.8,102.8 390.0,129.4 390.3,128.4 390.6,127.8 390.9,127.4 391.2,127.1 391.5,127.0 391.8,126.9 391.9,109.9 392.1,130.1 392.7,128.5 393.2,127.4 393.7,126.7 394.2,126.3 394.8,125.9 395.3,125.7 395.4,107.8 395.7,128.9 396.1,127.7 396.6,126.9 397.0,126.4 397.5,126.0 397.9,125.8 398.4,125.7 398.5,111.1 398.7,128.9 399.3,127.7 399.8,126.9 400.3,126.4 400.9,126.1 401.4,125.8 402.0,125.7 402.1,110.3 402.3,128.9 403.1,127.8 404.0,127.1 404.8,126.6 405.7,126.3 406.5,126.1 407.4,126.0 407.5,106.6 407.7,129.2 408.6,128.0 409.5,127.2 410.4,126.6 411.2,126.3 412.1,126.1 413.0,125.9 413.1,112.0 413.3,129.1 414.1,127.8 414.9,126.9 415.7,126.4 416.6,126.0 417.4,125.7 418.2,125.6 418.3,111.5 418.5,128.8 419.8,127.3 421.2,126.4 422.5,125.7 423.8,125.3 425.1,125.0 426.5,124.9 426.6,109.2 426.8,128.1 428.7,126.4 430.6,125.3 432.5,124.6 434.4,124.1 436.2,123.8 438.1,123.6 438.2,108.7 438.5,126.8 440.5,125.6 442.5,124.8 444.4,124.3 446.4,124.0 448.4,123.7 450.4,123.6 450.5,108.6 450.8,126.8 452.2,126.4 453.7,126.1 455.2,125.7 456.7,125.4 458.1,125.0 459.6,124.7 460.3,127.2 461.1,128.9 461.8,130.2 462.5,131.1 463.3,131.8 464.0,132.2 464.7,132.6 465.5,132.8 466.2,133.0 466.9,133.1 467.7,133.2 468.4,133.2 469.2,133.3 469.9,133.3 470.6,133.3 471.4,133.4 472.1,133.4 472.8,133.4 473.6,133.4 474.3,133.4 475.0,133.4 475.8,133.4 476.5,133.4"/>
<polyline points="374.7,133.4 388.4,133.4 388.5,130.5 388.6,128.6 388.7,127.4 388.9,126.5 389.0,126.0 389.1,125.6 389.2,101.1 389.4,128.8 389.7,127.6 390.0,126.8 390.2,126.3 390.5,126.0 390.8,125.8 391.0,125.6 391.1,106.7 391.4,128.8 391.8,127.9 392.1,127.2 392.5,126.8 392.9,126.6 393.3,126.4 393.7,126.3 393.8,103.2 394.0,129.5 394.5,128.2 395.1,127.3 395.6,126.7 396.1,126.3 396.7,126.1 397.2,125.9 397.3,107.9 397.5,129.1 397.9,127.7 398.3,126.8 398.6,126.2 399.0,125.7 399.4,125.5 399.8,125.3 399.9,111.4 400.1,128.5 400.9,127.2 401.6,126.3 402.3,125.7 403.1,125.3 403.8,125.1 404.6,124.9 404.7,115.3 404.9,128.1 405.7,127.0 406.4,126.4 407.2,125.9 408.0,125.6 408.7,125.4 409.5,125.3 409.6,110.7 409.8,128.5 410.4,127.2 411.0,126.4 411.5,125.8 412.1,125.5 412.7,125.2 413.2,125.1 413.4,112.0 413.6,128.3 414.6,126.8 415.6,125.8 416.6,125.2 417.6,124.8 418.6,124.5 419.6,124.3 419.7,105.7 419.9,127.5 420.9,126.2 421.8,125.4 422.8,124.8 423.8,124.5 424.7,124.2 425.7,124.1 425.8,111.9 426.1,127.3 427.2,125.9 428.4,124.9 429.6,124.3 430.8,123.9 431.9,123.6 433.1,123.5 433.2,115.3 433.5,126.7 434.5,125.4 435.5,124.6 436.5,124.0 437.5,123.6 438.5,123.4 439.5,123.2 439.6,108.1 439.8,126.4 441.3,124.8 442.8,123.7 444.3,123.0 445.8,122.5 447.3,122.2 448.8,122.0 448.9,111.3 449.1,125.2 450.9,124.9 452.6,124.7 454.4,124.4 456.1,124.1 457.9,123.8 459.6,123.5 460.3,126.3 461.1,128.3 461.8,129.8 462.5,130.8 463.3,131.5 464.0,132.1 464.7,132.4 465.5,132.7 466.2,132.9 466.9,133.0 467.7,133.1 468.4,133.2 469.2,133.3 469.9,133.3 470.6,133.3 471.4,133.4 472.1,133.4 472.8,133.4 473.6,133.4 474.3,133.4 475.0,133.4 475.8,133.4 476.5,133.4"/>
<polyline points="374.7,133.4 388.4,133.4 388.5,130.3 388.6,128.2 388.7,126.8 388.8,125.9 388.9,125.3 389.0,124.9 389.1,98.6 389.3,128.1 389.7,127.0 390.0,126.3 390.3,125.8 390.6,125.5 390.9,125.3 391.2,125.2 391.4,109.2 391.6,128.4 391.9,127.2 392.1,126.4 392.4,125.9 392.7,125.5 393.0,125.3 393.2,125.2 393.4,106.0 393.6,128.4 394.0,127.3 394.5,126.6 395.0,126.1 395.4,125.8 395.9,125.6 396.3,125.4 396.4,111.1 396.7,128.6 397.1,127.0 397.5,125.9 398.0,125.1 398.4,124.7 398.9,124.3 399.3,124.1 399.4,113.9 399.6,127.3 400.2,126.2 400.7,125.4 401.3,124.9 401.9,124.6 402.4,124.4 403.0,124.2 403.1,107.5 403.3,127.4 404.0,126.0 404.6,125.1 405.3,124.5 406.0,124.1 406.7,123.8 407.3,123.7 407.4,104.5 407.7,126.9 408.3,125.9 408.9,125.2 409.5,124.8 410.1,124.5 410.7,124.3 411.4,124.2 411.5,113.5 411.7,127.4 412.6,125.8 413.5,124.7 414.4,124.0 415.3,123.6 416.2,123.2 417.1,123.0 417.2,108.8 417.5,126.2 418.0,125.0 418.6,124.1 419.1,123.6 419.7,123.2 420.2,122.9 420.8,122.8 420.9,105.3 421.1,126.0 421.9,124.8 422.7,124.0 423.5,123.5 424.3,123.2 425.0,123.0 425.8,122.8 425.9,104.8 426.2,126.0 427.3,124.8 428.5,124.0 429.7,123.5 430.9,123.2 432.0,122.9 433.2,122.8 433.3,106.3 433.6,126.0 434.3,124.8 435.1,124.0 435.8,123.5 436.6,123.1 437.4,122.9 438.1,122.7 438.2,108.9 438.5,125.9 439.8,124.3 441.1,123.3 442.5,122.6 443.8,122.1 445.1,121.8 446.5,121.6 446.6,107.4 446.8,124.8 448.6,123.3 450.4,122.3 452.2,121.6 454.0,121.2 455.7,120.9 457.5,120.7 457.6,104.6 457.9,123.9 458.2,123.6 458.4,123.4 458.7,123.1 459.0,122.9 459.3,122.6 459.6,122.3 460.3,125.5 461.1,127.7 461.8,129.3 462.5,130.5 463.3,131.3 464.0,131.9 464.7,132.3 465.5,132.6 466.2,132.9 466.9,133.0 467.7,133.1 468.4,133.2 469.2,133.3 469.9,133.3 470.6,133.3 471.4,133.3 472.1,133.4 472.8,133.4 473.6,133.4 474.3,133.4 475.0,133.4 475.8,133.4 476.5,133.4"/>
<polyline points="374.7,133.4 388.4,133.4 388.6,130.3 388.7,128.3 388.9,127.0 389.0,126.1 389.2,125.6 389.4,125.2 389.5,100.0 389.7,128.4 389.9,127.2 390.2,126.4 390.4,125.9 390.6,125.5 390.9,125.3 391.1,125.2 391.2,115.7 391.4,128.4 391.7,126.9 391.9,125.9 392.1,125.2 392.4,124.8 392.6,124.5 392.8,124.3 392.9,107.0 393.2,127.5 393.5,126.3 393.9,125.6 394.3,125.1 394.6,124.7 395.0,124.5 395.3,124.4 395.5,109.6 395.7,127.6 395.9,126.3 396.2,125.5 396.4,125.0 396.6,124.6 396.9,124.4 397.1,124.2 397.2,107.2 397.5,127.4 397.8,126.3 398.1,125.5 398.5,125.0 398.8,124.7 399.1,124.5 399.5,124.3 399.6,113.0 399.8,127.5 400.2,125.9 400.6,124.9 400.9,124.2 401.3,123.7 401.7,123.4 402.1,123.2 402.2,113.9 402.4,126.4 402.8,125.3 403.2,124.6 403.6,124.1 404.0,123.8 404.4,123.6 404.8,123.4 404.9,104.3 405.1,126.6 405.7,125.5 406.4,124.7 407.0,124.2 407.6,123.9 408.2,123.7 408.9,123.5 409.0,114.1 409.2,126.7 409.8,125.1 410.4,124.1 410.9,123.4 411.5,122.9 412.1,122.6 412.6,122.4 412.7,110.6 413.0,125.6 413.6,124.5 414.2,123.8 414.8,123.3 415.4,123.0 416.0,122.8 416.6,122.6 416.8,112.2 417.0,125.8 417.6,124.7 418.3,123.9 418.9,123.4 419.6,123.1 420.2,122.9 420.8,122.7 421.0,112.5 421.2,125.9 421.9,124.5 422.6,123.6 423.3,123.1 424.0,122.7 424.7,122.4 425.4,122.2 425.6,114.2 425.8,125.4 426.8,124.0 427.9,123.1 428.9,122.5 430.0,122.1 431.0,121.8 432.1,121.6 432.2,112.0 432.4,124.8 433.5,123.4 434.6,122.5 435.7,121.9 436.8,121.4 437.9,121.2 439.0,121.0 439.1,110.4 439.4,124.2 440.5,122.9 441.6,122.0 442.8,121.4 443.9,121.0 445.0,120.8 446.2,120.6 446.3,115.4 446.5,123.8 447.4,122.3 448.3,121.3 449.2,120.7 450.1,120.3 451.0,120.0 451.9,119.8 452.1,109.0 452.3,123.0 453.5,122.7 454.7,122.4 455.9,122.1 457.2,121.8 458.4,121.5 459.6,121.2 460.3,124.6 461.1,127.1 461.8,128.9 462.5,130.2 463.3,131.1 464.0,131.7 464.7,132.2 465.5,132.6 466.2,132.8 466.9,133.0 467.7,133.1 468.4,133.2 469.2,133.2 469.9,133.3 470.6,133.3 471.4,133.3 472.1,133.4 472.8,133.4 473.6,133.4 474.3,133.4 475.0,133.4 475.8,133.4 476.5,133.4"/>
</g>
<line x1="374.70" y1="133.40" x2="388.40" y2="133.40" stroke="#c0587e" stroke-width="1.0"/>
<line x1="464.50" y1="133.40" x2="476.50" y2="133.40" stroke="#c0587e" stroke-width="1.0"/>
<text x="357.20" y="73.70" font-size="8.6" text-anchor="start" fill="#231f20">ACSF</text>
<text x="356.00" y="122.80" font-size="8.6" text-anchor="start" fill="#231f20">L-LEN</text>
<line x1="461.50" y1="61.00" x2="461.50" y2="70.40" stroke="#231f20" stroke-width="0.8"/>
<line x1="461.50" y1="70.40" x2="474.80" y2="70.40" stroke="#231f20" stroke-width="0.8"/>
<text x="465.30" y="67.50" font-size="9.1" text-anchor="start" fill="#231f20">20 mV</text>
<text x="461.00" y="78.10" font-size="8.78" text-anchor="start" fill="#231f20">100 ms</text>
<line x1="519.50" y1="50.60" x2="519.50" y2="120.70" stroke="#6d6e71" stroke-width="0.7"/>
<line x1="493.00" y1="120.70" x2="598.60" y2="120.70" stroke="#6d6e71" stroke-width="0.7"/>
<line x1="516.50" y1="97.33" x2="519.50" y2="97.33" stroke="#6d6e71" stroke-width="0.7"/>
<text x="515.50" y="100.13" font-size="8.6" text-anchor="end" fill="#231f20">10</text>
<line x1="516.50" y1="73.97" x2="519.50" y2="73.97" stroke="#6d6e71" stroke-width="0.7"/>
<text x="515.50" y="76.77" font-size="8.6" text-anchor="end" fill="#231f20">20</text>
<line x1="516.50" y1="50.60" x2="519.50" y2="50.60" stroke="#6d6e71" stroke-width="0.7"/>
<text x="515.50" y="53.40" font-size="8.6" text-anchor="end" fill="#231f20">30</text>
<line x1="493.20" y1="120.70" x2="493.20" y2="122.70" stroke="#6d6e71" stroke-width="0.7"/>
<text x="493.20" y="129.90" font-size="7.8" text-anchor="middle" fill="#231f20">–30</text>
<line x1="519.50" y1="120.70" x2="519.50" y2="122.70" stroke="#6d6e71" stroke-width="0.7"/>
<text x="519.50" y="129.90" font-size="7.8" text-anchor="middle" fill="#231f20">0</text>
<line x1="545.80" y1="120.70" x2="545.80" y2="122.70" stroke="#6d6e71" stroke-width="0.7"/>
<text x="545.80" y="129.90" font-size="7.8" text-anchor="middle" fill="#231f20">30</text>
<line x1="572.10" y1="120.70" x2="572.10" y2="122.70" stroke="#6d6e71" stroke-width="0.7"/>
<text x="572.10" y="129.90" font-size="7.8" text-anchor="middle" fill="#231f20">60</text>
<line x1="598.40" y1="120.70" x2="598.40" y2="122.70" stroke="#6d6e71" stroke-width="0.7"/>
<text x="598.40" y="129.90" font-size="7.8" text-anchor="middle" fill="#231f20">90</text>
<text x="503.00" y="144.70" font-size="9.1" text-anchor="start" fill="#231f20">Current injection (pA)</text>
<text transform="translate(500.2,103.7) rotate(-90)" font-size="8.8" fill="#231f20">AP number</text>
<polyline points="493.20,120.70 501.97,120.70 510.73,120.70 519.50,120.70 528.27,120.00 537.03,115.33 545.80,109.48 554.57,102.01 563.33,95.46 572.10,86.82 580.87,78.64 589.63,73.97" fill="none" stroke="#d07890" stroke-width="0.7" stroke-linejoin="round"/>
<circle cx="493.20" cy="120.70" r="1.60" fill="#fff" stroke="#d07890" stroke-width="0.6"/>
<circle cx="501.97" cy="120.70" r="1.60" fill="#fff" stroke="#d07890" stroke-width="0.6"/>
<circle cx="510.73" cy="120.70" r="1.60" fill="#fff" stroke="#d07890" stroke-width="0.6"/>
<circle cx="519.50" cy="120.70" r="1.60" fill="#fff" stroke="#d07890" stroke-width="0.6"/>
<circle cx="528.27" cy="120.00" r="1.60" fill="#fff" stroke="#d07890" stroke-width="0.6"/>
<line x1="537.03" y1="111.77" x2="537.03" y2="118.88" stroke="#d07890" stroke-width="0.6"/>
<line x1="536.03" y1="111.77" x2="538.03" y2="111.77" stroke="#d07890" stroke-width="0.5"/>
<circle cx="537.03" cy="115.33" r="1.60" fill="#fff" stroke="#d07890" stroke-width="0.6"/>
<line x1="545.80" y1="105.41" x2="545.80" y2="113.56" stroke="#d07890" stroke-width="0.6"/>
<line x1="544.80" y1="105.41" x2="546.80" y2="105.41" stroke="#d07890" stroke-width="0.5"/>
<circle cx="545.80" cy="109.48" r="1.60" fill="#fff" stroke="#d07890" stroke-width="0.6"/>
<line x1="554.57" y1="97.28" x2="554.57" y2="106.74" stroke="#d07890" stroke-width="0.6"/>
<line x1="553.57" y1="97.28" x2="555.57" y2="97.28" stroke="#d07890" stroke-width="0.5"/>
<circle cx="554.57" cy="102.01" r="1.60" fill="#fff" stroke="#d07890" stroke-width="0.6"/>
<line x1="563.33" y1="90.16" x2="563.33" y2="100.77" stroke="#d07890" stroke-width="0.6"/>
<line x1="562.33" y1="90.16" x2="564.33" y2="90.16" stroke="#d07890" stroke-width="0.5"/>
<circle cx="563.33" cy="95.46" r="1.60" fill="#fff" stroke="#d07890" stroke-width="0.6"/>
<line x1="572.10" y1="80.75" x2="572.10" y2="92.88" stroke="#d07890" stroke-width="0.6"/>
<line x1="571.10" y1="80.75" x2="573.10" y2="80.75" stroke="#d07890" stroke-width="0.5"/>
<circle cx="572.10" cy="86.82" r="1.60" fill="#fff" stroke="#d07890" stroke-width="0.6"/>
<line x1="580.87" y1="71.85" x2="580.87" y2="85.43" stroke="#d07890" stroke-width="0.6"/>
<line x1="579.87" y1="71.85" x2="581.87" y2="71.85" stroke="#d07890" stroke-width="0.5"/>
<circle cx="580.87" cy="78.64" r="1.60" fill="#fff" stroke="#d07890" stroke-width="0.6"/>
<line x1="589.63" y1="66.77" x2="589.63" y2="81.16" stroke="#d07890" stroke-width="0.6"/>
<line x1="588.63" y1="66.77" x2="590.63" y2="66.77" stroke="#d07890" stroke-width="0.5"/>
<circle cx="589.63" cy="73.97" r="1.60" fill="#fff" stroke="#d07890" stroke-width="0.6"/>
<polyline points="493.20,120.70 501.97,120.70 510.73,120.70 519.50,120.70 528.27,117.20 537.03,107.85 545.80,97.80 554.57,89.86 563.33,80.28 572.10,73.97 580.87,67.66 589.63,62.75" fill="none" stroke="#6a74b8" stroke-width="0.7" stroke-linejoin="round"/>
<circle cx="493.20" cy="120.70" r="1.60" fill="#fff" stroke="#6a74b8" stroke-width="0.6"/>
<circle cx="501.97" cy="120.70" r="1.60" fill="#fff" stroke="#6a74b8" stroke-width="0.6"/>
<circle cx="510.73" cy="120.70" r="1.60" fill="#fff" stroke="#6a74b8" stroke-width="0.6"/>
<circle cx="519.50" cy="120.70" r="1.60" fill="#fff" stroke="#6a74b8" stroke-width="0.6"/>
<line x1="528.27" y1="113.80" x2="528.27" y2="120.59" stroke="#6a74b8" stroke-width="0.6"/>
<line x1="527.27" y1="113.80" x2="529.27" y2="113.80" stroke="#6a74b8" stroke-width="0.5"/>
<circle cx="528.27" cy="117.20" r="1.60" fill="#fff" stroke="#6a74b8" stroke-width="0.6"/>
<line x1="537.03" y1="103.63" x2="537.03" y2="112.06" stroke="#6a74b8" stroke-width="0.6"/>
<line x1="536.03" y1="103.63" x2="538.03" y2="103.63" stroke="#6a74b8" stroke-width="0.5"/>
<circle cx="537.03" cy="107.85" r="1.60" fill="#fff" stroke="#6a74b8" stroke-width="0.6"/>
<line x1="545.80" y1="92.70" x2="545.80" y2="102.90" stroke="#6a74b8" stroke-width="0.6"/>
<line x1="544.80" y1="92.70" x2="546.80" y2="92.70" stroke="#6a74b8" stroke-width="0.5"/>
<circle cx="545.80" cy="97.80" r="1.60" fill="#fff" stroke="#6a74b8" stroke-width="0.6"/>
<line x1="554.57" y1="84.06" x2="554.57" y2="95.65" stroke="#6a74b8" stroke-width="0.6"/>
<line x1="553.57" y1="84.06" x2="555.57" y2="84.06" stroke="#6a74b8" stroke-width="0.5"/>
<circle cx="554.57" cy="89.86" r="1.60" fill="#fff" stroke="#6a74b8" stroke-width="0.6"/>
<line x1="563.33" y1="73.63" x2="563.33" y2="86.92" stroke="#6a74b8" stroke-width="0.6"/>
<line x1="562.33" y1="73.63" x2="564.33" y2="73.63" stroke="#6a74b8" stroke-width="0.5"/>
<circle cx="563.33" cy="80.28" r="1.60" fill="#fff" stroke="#6a74b8" stroke-width="0.6"/>
<line x1="572.10" y1="66.77" x2="572.10" y2="81.16" stroke="#6a74b8" stroke-width="0.6"/>
<line x1="571.10" y1="66.77" x2="573.10" y2="66.77" stroke="#6a74b8" stroke-width="0.5"/>
<circle cx="572.10" cy="73.97" r="1.60" fill="#fff" stroke="#6a74b8" stroke-width="0.6"/>
<line x1="580.87" y1="59.91" x2="580.87" y2="75.41" stroke="#6a74b8" stroke-width="0.6"/>
<line x1="579.87" y1="59.91" x2="581.87" y2="59.91" stroke="#6a74b8" stroke-width="0.5"/>
<circle cx="580.87" cy="67.66" r="1.60" fill="#fff" stroke="#6a74b8" stroke-width="0.6"/>
<line x1="589.63" y1="54.57" x2="589.63" y2="70.93" stroke="#6a74b8" stroke-width="0.6"/>
<line x1="588.63" y1="54.57" x2="590.63" y2="54.57" stroke="#6a74b8" stroke-width="0.5"/>
<circle cx="589.63" cy="62.75" r="1.60" fill="#fff" stroke="#6a74b8" stroke-width="0.6"/>
<line x1="524.00" y1="51.60" x2="531.70" y2="51.60" stroke="#6a74b8" stroke-width="0.7"/>
<circle cx="527.90" cy="51.60" r="1.70" fill="#fff" stroke="#6a74b8" stroke-width="0.6"/>
<text x="536.30" y="53.90" font-size="6.8" text-anchor="start" fill="#231f20">ACSF</text>
<line x1="524.00" y1="61.40" x2="531.70" y2="61.40" stroke="#d07890" stroke-width="0.7"/>
<circle cx="527.90" cy="61.40" r="1.70" fill="#fff" stroke="#d07890" stroke-width="0.6"/>
<text x="536.30" y="63.70" font-size="6.8" text-anchor="start" fill="#231f20">L-LEN</text>
<text x="537.03" y="105.35" font-size="8.5" text-anchor="middle" fill="#231f20">**</text>
<text x="545.80" y="95.30" font-size="8.5" text-anchor="middle" fill="#231f20">***</text>
<text x="554.57" y="87.36" font-size="8.5" text-anchor="middle" fill="#231f20">***</text>
<text x="563.33" y="77.78" font-size="8.5" text-anchor="middle" fill="#231f20">***</text>
<text x="572.10" y="71.47" font-size="8.5" text-anchor="middle" fill="#231f20">*</text>
<text x="580.87" y="65.16" font-size="8.5" text-anchor="middle" fill="#231f20">*</text>
<text x="589.63" y="60.25" font-size="8.5" text-anchor="middle" fill="#231f20">**</text>
<line x1="635.20" y1="45.20" x2="635.20" y2="120.20" stroke="#6d6e71" stroke-width="0.7"/>
<line x1="635.20" y1="120.20" x2="685.10" y2="120.20" stroke="#6d6e71" stroke-width="0.7"/>
<line x1="632.20" y1="120.20" x2="635.20" y2="120.20" stroke="#6d6e71" stroke-width="0.7"/>
<text x="626.90" y="123.00" font-size="7.5" text-anchor="end" fill="#231f20">0</text>
<line x1="632.20" y1="98.70" x2="635.20" y2="98.70" stroke="#6d6e71" stroke-width="0.7"/>
<text x="626.90" y="101.50" font-size="7.5" text-anchor="end" fill="#231f20">20</text>
<line x1="632.20" y1="77.20" x2="635.20" y2="77.20" stroke="#6d6e71" stroke-width="0.7"/>
<text x="626.90" y="80.00" font-size="7.5" text-anchor="end" fill="#231f20">40</text>
<line x1="632.20" y1="55.70" x2="635.20" y2="55.70" stroke="#6d6e71" stroke-width="0.7"/>
<text x="626.90" y="58.50" font-size="7.5" text-anchor="end" fill="#231f20">60</text>
<rect x="641.70" y="98.70" width="14.20" height="21.50" fill="#7080c0" stroke="#2e3a80" stroke-width="0.6"/>
<rect x="663.50" y="90.10" width="14.10" height="30.10" fill="#c07090" stroke="#6a2a44" stroke-width="0.6"/>
<circle cx="645.50" cy="87.95" r="1.75" fill="none" stroke="#333" stroke-width="0.55"/>
<circle cx="648.80" cy="87.95" r="1.75" fill="none" stroke="#333" stroke-width="0.55"/>
<circle cx="652.10" cy="87.95" r="1.75" fill="none" stroke="#333" stroke-width="0.55"/>
<circle cx="642.20" cy="98.70" r="1.75" fill="none" stroke="#333" stroke-width="0.55"/>
<circle cx="645.50" cy="98.70" r="1.75" fill="none" stroke="#333" stroke-width="0.55"/>
<circle cx="648.80" cy="98.70" r="1.75" fill="none" stroke="#333" stroke-width="0.55"/>
<circle cx="652.10" cy="98.70" r="1.75" fill="none" stroke="#333" stroke-width="0.55"/>
<circle cx="655.40" cy="98.70" r="1.75" fill="none" stroke="#333" stroke-width="0.55"/>
<circle cx="645.50" cy="109.45" r="1.75" fill="none" stroke="#333" stroke-width="0.55"/>
<circle cx="648.80" cy="109.45" r="1.75" fill="none" stroke="#333" stroke-width="0.55"/>
<circle cx="652.10" cy="109.45" r="1.75" fill="none" stroke="#333" stroke-width="0.55"/>
<line x1="648.80" y1="97.41" x2="648.80" y2="99.99" stroke="#222" stroke-width="0.6"/>
<line x1="646.30" y1="97.41" x2="651.30" y2="97.41" stroke="#222" stroke-width="0.6"/>
<line x1="646.30" y1="99.99" x2="651.30" y2="99.99" stroke="#222" stroke-width="0.6"/>
<circle cx="670.55" cy="55.70" r="1.75" fill="none" stroke="#333" stroke-width="0.55"/>
<circle cx="668.90" cy="77.20" r="1.75" fill="none" stroke="#333" stroke-width="0.55"/>
<circle cx="672.20" cy="77.20" r="1.75" fill="none" stroke="#333" stroke-width="0.55"/>
<circle cx="665.60" cy="87.95" r="1.75" fill="none" stroke="#333" stroke-width="0.55"/>
<circle cx="668.90" cy="87.95" r="1.75" fill="none" stroke="#333" stroke-width="0.55"/>
<circle cx="672.20" cy="87.95" r="1.75" fill="none" stroke="#333" stroke-width="0.55"/>
<circle cx="675.50" cy="87.95" r="1.75" fill="none" stroke="#333" stroke-width="0.55"/>
<circle cx="665.60" cy="98.70" r="1.75" fill="none" stroke="#333" stroke-width="0.55"/>
<circle cx="668.90" cy="98.70" r="1.75" fill="none" stroke="#333" stroke-width="0.55"/>
<circle cx="672.20" cy="98.70" r="1.75" fill="none" stroke="#333" stroke-width="0.55"/>
<circle cx="675.50" cy="98.70" r="1.75" fill="none" stroke="#333" stroke-width="0.55"/>
<circle cx="668.90" cy="109.45" r="1.75" fill="none" stroke="#333" stroke-width="0.55"/>
<circle cx="672.20" cy="109.45" r="1.75" fill="none" stroke="#333" stroke-width="0.55"/>
<line x1="670.55" y1="86.88" x2="670.55" y2="93.33" stroke="#222" stroke-width="0.6"/>
<line x1="668.05" y1="86.88" x2="673.05" y2="86.88" stroke="#222" stroke-width="0.6"/>
<line x1="668.05" y1="93.33" x2="673.05" y2="93.33" stroke="#222" stroke-width="0.6"/>
<polyline points="648.90,50.00 648.90,46.30 670.70,46.30 670.70,50.00" fill="none" stroke="#333" stroke-width="0.6" stroke-linejoin="round"/>
<text x="659.80" y="45.10" font-size="8" text-anchor="middle" fill="#231f20">*</text>
<text transform="translate(611.4,111.8) rotate(-90)" font-size="8.7" fill="#231f20">Rheobase (pA)</text>
<text transform="translate(653,127) rotate(-45)" font-size="8.4" text-anchor="end" fill="#231f20">ACSF</text>
<text transform="translate(675,127) rotate(-45)" font-size="8.4" text-anchor="end" fill="#231f20">L-LEN</text>
<polyline points="374.30,197.60 476.00,197.60" fill="none" stroke="#231f20" stroke-width="0.9" stroke-linejoin="round"/>
<rect x="387.40" y="187.00" width="75.40" height="10.60" fill="none" stroke="#231f20" stroke-width="0.9"/>
<line x1="387.40" y1="192.50" x2="462.80" y2="192.50" stroke="#231f20" stroke-width="0.9"/>
<line x1="421.20" y1="195.70" x2="424.70" y2="189.40" stroke="#231f20" stroke-width="1.0"/>
<line x1="423.30" y1="195.70" x2="426.80" y2="189.40" stroke="#231f20" stroke-width="1.0"/>
<text x="357.50" y="189.90" font-size="9.11" text-anchor="start" fill="#231f20">80 pA</text>
<text x="344.00" y="202.30" font-size="8.83" text-anchor="start" fill="#231f20">–30 pA</text>
<text x="466.40" y="195.60" font-size="8.77" text-anchor="start" fill="#231f20">–20 pA</text>
<g stroke="#4654a0" fill="none" stroke-width="0.33" stroke-linejoin="round">
<polyline points="374.7,244.6 388.4,244.6 389.0,247.0 389.6,248.9 390.2,250.3 390.7,251.5 391.3,252.3 391.9,252.8 392.5,253.2 393.1,253.8 393.7,253.9 394.2,254.1 394.8,254.4 395.4,254.4 396.0,254.5 396.6,254.5 397.2,254.6 397.7,254.5 398.3,254.6 398.9,254.6 399.5,254.6 400.1,254.6 400.7,254.6 401.3,254.4 401.8,254.6 402.4,254.5 403.0,254.4 403.6,254.3 404.2,254.5 404.8,254.4 405.3,254.5 405.9,254.5 406.5,254.4 407.1,254.5 407.7,254.3 408.3,254.4 408.8,254.3 409.4,254.4 410.0,254.4 410.6,254.2 411.2,254.2 411.8,254.2 412.4,254.4 412.9,254.3 413.5,254.3 414.1,254.2 414.7,254.3 415.3,254.2 415.9,254.2 416.4,254.2 417.0,254.2 417.6,254.3 418.2,254.3 418.8,254.3 419.4,254.3 419.9,254.3 420.5,254.2 421.1,254.1 421.7,254.3 422.3,254.3 422.9,254.3 423.4,254.2 424.0,254.2 424.6,254.1 425.2,254.2 425.8,254.2 426.4,254.1 427.0,254.1 427.5,254.2 428.1,254.3 428.7,254.1 429.3,254.2 429.9,254.1 430.5,254.1 431.0,254.1 431.6,254.2 432.2,254.2 432.8,254.0 433.4,254.2 434.0,254.0 434.5,254.2 435.1,254.1 435.7,254.2 436.3,254.2 436.9,254.1 437.5,254.2 438.1,254.1 438.6,254.0 439.2,254.1 439.8,254.0 440.4,254.0 441.0,254.1 441.6,254.1 442.1,254.0 442.7,254.0 443.3,254.2 443.9,254.1 444.5,254.2 445.1,254.2 445.6,254.1 446.2,254.1 446.8,254.1 447.4,254.1 448.0,254.1 448.6,254.1 449.2,254.1 449.7,254.2 450.3,254.1 450.9,254.1 451.5,254.2 452.1,254.0 452.7,254.1 453.2,254.2 453.8,254.1 454.4,254.1 455.0,254.0 455.6,254.1 456.2,254.1 456.7,254.0 457.3,254.1 457.9,254.1 458.5,254.0 459.3,250.3 460.1,248.2 460.8,246.9 461.6,246.1 462.4,245.6 463.2,245.2 464.0,244.9 464.8,244.8 465.5,244.7 466.3,244.6 467.1,244.6 467.9,244.6 468.7,244.6 469.5,244.6 470.2,244.6 471.0,244.6 471.8,244.6 472.6,244.6 473.4,244.6 474.2,244.6 474.9,244.6 475.7,244.6 476.5,244.6"/>
<polyline points="374.7,244.6 388.4,244.6 389.0,246.3 389.6,247.5 390.2,248.5 390.7,249.1 391.3,249.8 391.9,250.2 392.5,250.3 393.1,250.6 393.7,250.9 394.2,251.1 394.8,251.0 395.4,251.1 396.0,251.2 396.6,251.2 397.2,251.2 397.7,251.2 398.3,251.2 398.9,251.3 399.5,251.2 400.1,251.2 400.7,251.3 401.3,251.1 401.8,251.2 402.4,251.2 403.0,251.1 403.6,251.1 404.2,251.2 404.8,251.1 405.3,251.1 405.9,251.1 406.5,251.2 407.1,251.0 407.7,251.1 408.3,251.1 408.8,251.2 409.4,251.1 410.0,251.2 410.6,251.0 411.2,251.0 411.8,251.1 412.4,251.1 412.9,251.0 413.5,251.0 414.1,250.9 414.7,251.0 415.3,251.0 415.9,251.1 416.4,251.1 417.0,250.9 417.6,251.0 418.2,251.1 418.8,251.0 419.4,251.1 419.9,251.0 420.5,250.9 421.1,250.9 421.7,251.1 422.3,250.9 422.9,250.9 423.4,251.0 424.0,251.0 424.6,251.0 425.2,251.1 425.8,250.9 426.4,250.9 427.0,251.1 427.5,251.1 428.1,251.1 428.7,251.0 429.3,251.1 429.9,251.1 430.5,250.9 431.0,251.0 431.6,251.0 432.2,251.0 432.8,251.0 433.4,250.9 434.0,250.9 434.5,250.9 435.1,250.8 435.7,251.0 436.3,250.9 436.9,251.0 437.5,250.8 438.1,251.0 438.6,251.0 439.2,251.1 439.8,251.0 440.4,251.0 441.0,251.0 441.6,250.8 442.1,251.0 442.7,250.9 443.3,250.9 443.9,251.0 444.5,251.0 445.1,250.9 445.6,251.0 446.2,251.0 446.8,250.9 447.4,250.9 448.0,251.0 448.6,250.9 449.2,251.0 449.7,250.9 450.3,250.9 450.9,250.9 451.5,251.0 452.1,250.9 452.7,251.0 453.2,251.0 453.8,251.0 454.4,251.0 455.0,250.8 455.6,251.0 456.2,251.0 456.7,250.8 457.3,250.9 457.9,250.9 458.5,250.9 459.3,248.5 460.1,247.1 460.8,246.2 461.6,245.6 462.4,245.2 463.2,245.0 464.0,244.8 464.8,244.7 465.5,244.7 466.3,244.6 467.1,244.6 467.9,244.6 468.7,244.6 469.5,244.6 470.2,244.6 471.0,244.6 471.8,244.6 472.6,244.6 473.4,244.6 474.2,244.6 474.9,244.6 475.7,244.6 476.5,244.6"/>
<polyline points="374.7,244.6 388.4,244.6 389.0,245.4 389.6,246.0 390.2,246.6 390.7,246.8 391.3,247.0 391.9,247.3 392.5,247.4 393.1,247.5 393.7,247.8 394.2,247.9 394.8,247.7 395.4,247.9 396.0,247.8 396.6,247.9 397.2,247.9 397.7,248.0 398.3,247.9 398.9,247.9 399.5,247.8 400.1,247.9 400.7,247.8 401.3,247.9 401.8,248.0 402.4,247.9 403.0,247.8 403.6,247.8 404.2,247.9 404.8,247.9 405.3,247.9 405.9,247.8 406.5,247.9 407.1,247.9 407.7,247.8 408.3,247.8 408.8,247.8 409.4,247.9 410.0,247.8 410.6,247.9 411.2,247.8 411.8,247.8 412.4,247.8 412.9,247.9 413.5,247.7 414.1,247.8 414.7,247.8 415.3,247.9 415.9,247.9 416.4,247.8 417.0,247.9 417.6,247.9 418.2,247.7 418.8,247.8 419.4,247.7 419.9,247.9 420.5,247.8 421.1,247.9 421.7,247.9 422.3,247.8 422.9,247.8 423.4,247.8 424.0,247.7 424.6,247.8 425.2,247.7 425.8,247.7 426.4,247.9 427.0,247.7 427.5,247.7 428.1,247.7 428.7,247.9 429.3,247.7 429.9,247.7 430.5,247.9 431.0,247.7 431.6,247.9 432.2,247.8 432.8,247.9 433.4,247.9 434.0,247.8 434.5,247.8 435.1,247.7 435.7,247.8 436.3,247.8 436.9,247.8 437.5,247.7 438.1,247.8 438.6,247.9 439.2,247.7 439.8,247.7 440.4,247.8 441.0,247.9 441.6,247.7 442.1,247.7 442.7,247.7 443.3,247.8 443.9,247.8 444.5,247.7 445.1,247.7 445.6,247.7 446.2,247.7 446.8,247.8 447.4,247.7 448.0,247.8 448.6,247.9 449.2,247.7 449.7,247.8 450.3,247.7 450.9,247.8 451.5,247.8 452.1,247.8 452.7,247.8 453.2,247.8 453.8,247.8 454.4,247.9 455.0,247.7 455.6,247.7 456.2,247.8 456.7,247.9 457.3,247.8 457.9,247.8 458.5,247.8 459.3,246.6 460.1,245.8 460.8,245.4 461.6,245.1 462.4,244.9 463.2,244.8 464.0,244.7 464.8,244.7 465.5,244.6 466.3,244.6 467.1,244.6 467.9,244.6 468.7,244.6 469.5,244.6 470.2,244.6 471.0,244.6 471.8,244.6 472.6,244.6 473.4,244.6 474.2,244.6 474.9,244.6 475.7,244.6 476.5,244.6"/>
<polyline points="374.7,244.6 388.4,244.6 389.0,244.3 389.6,244.2 390.2,244.1 390.7,244.1 391.3,244.0 391.9,243.9 392.5,244.0 393.1,244.0 393.7,243.9 394.2,243.9 394.8,243.9 395.4,244.0 396.0,243.9 396.6,243.8 397.2,243.8 397.7,243.7 398.3,243.9 398.9,243.8 399.5,243.8 400.1,243.8 400.7,243.8 401.3,243.9 401.8,243.8 402.4,244.0 403.0,243.9 403.6,243.9 404.2,243.9 404.8,244.0 405.3,244.0 405.9,243.9 406.5,243.9 407.1,243.9 407.7,244.0 408.3,243.9 408.8,243.9 409.4,244.0 410.0,243.9 410.6,243.8 411.2,243.8 411.8,243.9 412.4,243.9 412.9,244.0 413.5,244.0 414.1,243.8 414.7,243.8 415.3,243.8 415.9,243.8 416.4,243.9 417.0,244.0 417.6,244.0 418.2,243.8 418.8,244.0 419.4,243.8 419.9,243.9 420.5,243.9 421.1,243.8 421.7,243.8 422.3,244.0 422.9,243.8 423.4,243.9 424.0,243.9 424.6,243.9 425.2,243.8 425.8,243.9 426.4,243.9 427.0,243.9 427.5,243.8 428.1,243.9 428.7,244.0 429.3,243.9 429.9,243.9 430.5,243.8 431.0,243.8 431.6,243.9 432.2,243.8 432.8,244.0 433.4,244.0 434.0,243.8 434.5,244.0 435.1,243.9 435.7,244.0 436.3,244.0 436.9,243.8 437.5,243.9 438.1,243.9 438.6,244.0 439.2,243.8 439.8,244.0 440.4,244.0 441.0,243.9 441.6,243.9 442.1,243.8 442.7,243.9 443.3,243.9 443.9,243.9 444.5,243.9 445.1,243.9 445.6,243.8 446.2,243.9 446.8,243.9 447.4,243.8 448.0,244.0 448.6,243.9 449.2,243.8 449.7,244.0 450.3,243.8 450.9,243.9 451.5,243.9 452.1,243.9 452.7,243.9 453.2,243.9 453.8,243.9 454.4,243.9 455.0,243.8 455.6,243.8 456.2,243.9 456.7,244.0 457.3,243.9 457.9,244.0 458.5,243.9 459.3,244.1 460.1,244.2 460.8,244.3 461.6,244.4 462.4,244.5 463.2,244.5 464.0,244.5 464.8,244.6 465.5,244.6 466.3,244.6 467.1,244.6 467.9,244.6 468.7,244.6 469.5,244.6 470.2,244.6 471.0,244.6 471.8,244.6 472.6,244.6 473.4,244.6 474.2,244.6 474.9,244.6 475.7,244.6 476.5,244.6"/>
<polyline points="374.7,244.6 388.4,244.6 389.0,244.0 389.6,243.5 390.2,243.3 390.7,242.7 391.3,242.6 391.9,242.3 392.5,242.2 393.1,242.0 393.7,241.8 394.2,241.7 394.8,241.7 395.4,241.7 396.0,241.5 396.6,241.6 397.2,241.3 397.7,241.3 398.3,241.2 398.9,241.2 399.5,241.4 400.1,241.3 400.7,241.1 401.3,241.1 401.8,241.2 402.4,241.3 403.0,241.3 403.6,241.2 404.2,241.2 404.8,241.0 405.3,241.1 405.9,241.0 406.5,241.1 407.1,241.1 407.7,241.0 408.3,241.0 408.8,241.1 409.4,240.9 410.0,241.1 410.6,241.1 411.2,241.1 411.8,241.0 412.4,241.0 412.9,241.0 413.5,241.0 414.1,241.1 414.7,241.0 415.3,240.9 415.9,241.0 416.4,240.9 417.0,240.9 417.6,241.0 418.2,240.7 418.8,241.0 419.4,240.9 419.9,240.9 420.5,240.9 421.1,240.8 421.7,240.7 422.3,240.8 422.9,240.7 423.4,240.8 424.0,240.8 424.6,240.8 425.2,240.8 425.8,240.9 426.4,240.9 427.0,240.6 427.5,240.8 428.1,240.8 428.7,240.6 429.3,240.7 429.9,240.6 430.5,240.6 431.0,240.7 431.6,240.8 432.2,240.6 432.8,240.8 433.4,240.7 434.0,240.5 434.5,240.7 435.1,240.6 435.7,240.7 436.3,240.6 436.9,240.6 437.5,240.5 438.1,240.6 438.6,240.7 439.2,240.6 439.8,240.5 440.4,240.6 441.0,240.5 441.6,240.4 442.1,240.3 442.7,240.3 443.3,240.4 443.9,240.3 444.5,240.4 445.1,240.5 445.6,240.4 446.2,240.4 446.8,240.4 447.4,240.3 448.0,240.4 448.6,240.4 449.2,240.3 449.7,240.3 450.3,240.5 450.9,240.4 451.5,240.3 452.1,240.3 452.7,240.3 453.2,240.3 453.8,240.2 454.4,240.1 455.0,240.2 455.6,240.3 456.2,240.1 456.7,240.2 457.3,240.1 457.9,240.1 458.5,240.1 459.3,241.4 460.1,242.4 460.8,243.1 461.6,243.5 462.4,243.8 463.2,244.1 464.0,244.2 464.8,244.3 465.5,244.4 466.3,244.5 467.1,244.5 467.9,244.5 468.7,244.6 469.5,244.6 470.2,244.6 471.0,244.6 471.8,244.6 472.6,244.6 473.4,244.6 474.2,244.6 474.9,244.6 475.7,244.6 476.5,244.6"/>
<polyline points="374.7,244.6 388.4,244.6 388.5,242.5 388.7,241.2 388.8,240.3 389.0,239.7 389.1,239.3 389.3,239.1 389.4,203.4 389.6,242.3 390.6,240.8 391.6,239.9 392.5,239.3 393.5,238.9 394.5,238.6 395.4,238.4 395.5,209.6 395.8,241.6 397.0,240.4 398.2,239.6 399.4,239.0 400.6,238.6 401.8,238.4 403.0,238.3 403.1,205.4 403.3,241.5 405.0,239.9 406.8,238.9 408.5,238.2 410.2,237.8 412.0,237.5 413.7,237.3 413.8,211.6 414.0,240.5 416.5,239.6 419.0,239.0 421.4,238.5 423.9,238.3 426.3,238.1 428.8,238.0 428.9,214.7 429.2,241.2 433.4,239.7 437.6,238.8 441.8,238.1 446.0,237.7 450.3,237.4 454.5,237.3 454.6,216.5 454.8,240.5 455.4,240.1 456.1,239.8 456.7,239.4 457.3,239.1 457.9,238.7 458.5,238.3 459.3,240.2 460.1,241.5 460.8,242.5 461.6,243.1 462.4,243.5 463.2,243.9 464.0,244.1 464.8,244.2 465.5,244.3 466.3,244.4 467.1,244.5 467.9,244.5 468.7,244.5 469.5,244.6 470.2,244.6 471.0,244.6 471.8,244.6 472.6,244.6 473.4,244.6 474.2,244.6 474.9,244.6 475.7,244.6 476.5,244.6"/>
<polyline points="374.7,244.6 388.4,244.6 388.5,242.2 388.7,240.5 388.8,239.5 388.9,238.8 389.1,238.3 389.2,238.0 389.3,205.3 389.6,241.2 390.0,239.8 390.4,238.9 390.9,238.3 391.3,237.9 391.7,237.6 392.2,237.5 392.3,205.9 392.5,240.7 393.0,239.4 393.5,238.6 394.0,238.0 394.5,237.7 395.0,237.5 395.5,237.3 395.6,216.1 395.8,240.5 396.8,239.5 397.7,238.9 398.7,238.5 399.6,238.2 400.5,238.0 401.5,237.9 401.6,209.4 401.8,241.1 402.7,239.8 403.6,239.0 404.5,238.4 405.4,238.0 406.3,237.8 407.2,237.6 407.4,211.0 407.6,240.8 409.1,239.5 410.6,238.7 412.1,238.1 413.6,237.8 415.1,237.5 416.6,237.4 416.7,209.6 416.9,240.6 418.5,239.0 420.1,237.9 421.7,237.2 423.3,236.8 424.9,236.5 426.5,236.3 426.6,219.8 426.8,239.5 429.4,238.3 431.9,237.5 434.4,237.0 437.0,236.7 439.5,236.5 442.1,236.3 442.2,220.7 442.4,239.5 444.7,238.0 447.0,237.1 449.3,236.4 451.5,236.0 453.8,235.7 456.1,235.5 456.2,218.6 456.5,238.7 456.8,238.4 457.1,238.2 457.5,237.9 457.8,237.6 458.2,237.3 458.5,237.0 459.3,239.3 460.1,240.9 460.8,242.0 461.6,242.8 462.4,243.3 463.2,243.7 464.0,244.0 464.8,244.2 465.5,244.3 466.3,244.4 467.1,244.4 467.9,244.5 468.7,244.5 469.5,244.5 470.2,244.6 471.0,244.6 471.8,244.6 472.6,244.6 473.4,244.6 474.2,244.6 474.9,244.6 475.7,244.6 476.5,244.6"/>
<polyline points="374.7,244.6 388.4,244.6 388.6,241.7 388.8,239.8 389.1,238.5 389.3,237.6 389.5,237.1 389.7,236.7 389.8,205.8 390.1,239.9 390.6,238.9 391.2,238.2 391.8,237.8 392.3,237.5 392.9,237.3 393.5,237.2 393.6,217.8 393.8,240.4 394.2,238.9 394.6,237.9 395.0,237.2 395.3,236.8 395.7,236.5 396.1,236.3 396.2,220.1 396.4,239.5 397.0,238.4 397.5,237.8 398.0,237.3 398.6,237.0 399.1,236.8 399.7,236.7 399.8,214.0 400.0,239.9 400.8,238.7 401.5,237.9 402.3,237.4 403.1,237.0 403.9,236.8 404.6,236.6 404.8,218.4 405.0,239.8 406.1,238.4 407.2,237.5 408.3,236.9 409.4,236.5 410.5,236.2 411.6,236.1 411.8,212.2 412.0,239.3 412.8,238.1 413.6,237.4 414.4,236.9 415.1,236.6 415.9,236.4 416.7,236.2 416.8,217.6 417.1,239.4 418.1,237.9 419.2,237.0 420.2,236.3 421.3,235.9 422.3,235.6 423.4,235.4 423.5,217.5 423.7,238.6 425.4,237.4 427.1,236.5 428.8,236.0 430.5,235.6 432.2,235.4 434.0,235.2 434.1,214.8 434.3,238.4 435.6,237.2 436.9,236.4 438.2,235.9 439.5,235.6 440.8,235.3 442.1,235.2 442.2,217.5 442.4,238.4 444.2,237.1 446.0,236.2 447.8,235.7 449.6,235.3 451.5,235.0 453.3,234.9 453.4,214.6 453.6,238.1 454.4,237.7 455.2,237.3 456.1,236.9 456.9,236.5 457.7,236.1 458.5,235.7 459.3,238.4 460.1,240.2 460.8,241.5 461.6,242.5 462.4,243.1 463.2,243.5 464.0,243.9 464.8,244.1 465.5,244.2 466.3,244.3 467.1,244.4 467.9,244.5 468.7,244.5 469.5,244.5 470.2,244.6 471.0,244.6 471.8,244.6 472.6,244.6 473.4,244.6 474.2,244.6 474.9,244.6 475.7,244.6 476.5,244.6"/>
<polyline points="374.7,244.6 388.4,244.6 388.6,241.3 388.8,239.1 389.0,237.6 389.2,236.7 389.4,236.1 389.6,235.6 389.7,201.7 389.9,238.8 390.3,237.8 390.6,237.1 390.9,236.6 391.3,236.3 391.6,236.1 391.9,236.0 392.1,205.8 392.3,239.2 392.5,237.9 392.8,237.1 393.0,236.6 393.3,236.2 393.5,236.0 393.8,235.8 393.9,205.6 394.1,239.0 394.5,238.0 394.8,237.3 395.1,236.9 395.4,236.6 395.7,236.4 396.0,236.3 396.2,216.7 396.4,239.5 396.9,238.0 397.5,237.1 398.0,236.5 398.5,236.0 399.1,235.8 399.6,235.6 399.7,209.1 399.9,238.8 400.5,237.7 401.1,237.0 401.6,236.5 402.2,236.2 402.7,236.0 403.3,235.8 403.4,220.6 403.6,239.0 404.4,237.8 405.1,236.9 405.8,236.4 406.5,236.0 407.3,235.8 408.0,235.6 408.1,215.7 408.4,238.8 409.2,237.4 410.0,236.5 410.9,235.9 411.7,235.5 412.6,235.3 413.4,235.1 413.6,218.4 413.8,238.3 414.6,236.9 415.3,236.0 416.1,235.4 416.9,235.1 417.6,234.8 418.4,234.6 418.5,218.5 418.8,237.8 419.9,236.5 421.0,235.7 422.1,235.1 423.3,234.8 424.4,234.5 425.5,234.4 425.6,211.3 425.9,237.6 427.1,236.4 428.3,235.6 429.5,235.1 430.7,234.8 431.9,234.6 433.1,234.4 433.2,209.9 433.4,237.6 434.5,236.0 435.6,234.9 436.7,234.3 437.7,233.8 438.8,233.5 439.9,233.3 440.0,210.4 440.2,236.5 441.5,235.5 442.7,234.9 443.9,234.4 445.2,234.2 446.4,234.0 447.7,233.9 447.8,220.6 448.0,237.1 449.1,235.7 450.2,234.7 451.3,234.1 452.4,233.7 453.5,233.5 454.6,233.3 454.8,219.7 455.0,236.5 455.6,236.1 456.2,235.8 456.7,235.4 457.3,235.1 457.9,234.7 458.5,234.3 459.3,237.4 460.1,239.6 460.8,241.1 461.6,242.1 462.4,242.9 463.2,243.4 464.0,243.8 464.8,244.0 465.5,244.2 466.3,244.3 467.1,244.4 467.9,244.5 468.7,244.5 469.5,244.5 470.2,244.6 471.0,244.6 471.8,244.6 472.6,244.6 473.4,244.6 474.2,244.6 474.9,244.6 475.7,244.6 476.5,244.6"/>
<polyline points="374.7,244.6 388.4,244.6 388.5,241.2 388.6,239.0 388.7,237.5 388.8,236.6 388.9,235.9 389.0,235.5 389.1,204.8 389.3,238.7 389.6,237.7 389.8,237.0 390.0,236.5 390.2,236.2 390.5,236.0 390.7,235.9 390.8,209.1 391.0,239.1 391.2,237.9 391.5,237.0 391.7,236.5 391.9,236.2 392.1,235.9 392.3,235.8 392.4,217.8 392.6,239.0 393.0,237.6 393.4,236.7 393.7,236.1 394.1,235.7 394.4,235.4 394.8,235.2 394.9,216.8 395.2,238.4 395.5,237.1 395.9,236.2 396.2,235.6 396.6,235.3 397.0,235.0 397.3,234.9 397.5,211.6 397.7,238.1 398.1,236.9 398.5,236.2 398.9,235.7 399.3,235.3 399.8,235.1 400.2,235.0 400.3,220.9 400.5,238.2 401.0,236.9 401.5,236.1 402.1,235.6 402.6,235.2 403.1,235.0 403.6,234.8 403.7,214.2 403.9,238.0 404.5,236.9 405.2,236.1 405.8,235.6 406.4,235.2 407.0,235.0 407.6,234.9 407.7,211.6 407.9,238.1 408.5,236.8 409.0,235.9 409.5,235.4 410.0,235.0 410.5,234.7 411.0,234.6 411.1,220.2 411.3,237.8 412.0,236.3 412.6,235.2 413.3,234.6 414.0,234.1 414.6,233.9 415.3,233.7 415.4,219.5 415.6,236.9 416.3,235.5 417.0,234.5 417.7,233.9 418.3,233.5 419.0,233.3 419.7,233.1 419.8,216.3 420.0,236.3 420.6,235.0 421.2,234.2 421.8,233.7 422.3,233.3 422.9,233.1 423.5,232.9 423.6,215.4 423.9,236.1 424.9,235.0 425.9,234.3 426.9,233.8 427.9,233.5 429.0,233.3 430.0,233.2 430.1,220.4 430.3,236.4 431.4,234.8 432.4,233.8 433.4,233.1 434.4,232.7 435.4,232.4 436.4,232.2 436.5,220.4 436.8,235.4 438.1,234.2 439.3,233.5 440.6,233.0 441.9,232.6 443.2,232.4 444.5,232.3 444.6,218.3 444.8,235.5 445.8,234.2 446.8,233.3 447.8,232.8 448.8,232.4 449.7,232.1 450.7,232.0 450.9,221.0 451.1,235.2 452.3,234.8 453.6,234.5 454.8,234.1 456.0,233.7 457.3,233.4 458.5,233.0 459.3,236.5 460.1,238.9 460.8,240.6 461.6,241.8 462.4,242.6 463.2,243.2 464.0,243.6 464.8,243.9 465.5,244.1 466.3,244.3 467.1,244.4 467.9,244.4 468.7,244.5 469.5,244.5 470.2,244.5 471.0,244.6 471.8,244.6 472.6,244.6 473.4,244.6 474.2,244.6 474.9,244.6 475.7,244.6 476.5,244.6"/>
<polyline points="374.7,244.6 388.4,244.6 388.6,240.8 388.8,238.3 389.1,236.6 389.3,235.5 389.5,234.8 389.7,234.3 389.8,204.7 390.1,237.5 390.2,236.2 390.4,235.4 390.6,234.8 390.7,234.4 390.9,234.2 391.0,234.0 391.1,219.5 391.4,237.2 391.7,236.2 391.9,235.6 392.2,235.2 392.5,234.9 392.8,234.7 393.0,234.6 393.2,207.7 393.4,237.8 393.6,236.5 393.7,235.7 393.9,235.1 394.1,234.8 394.3,234.5 394.5,234.4 394.6,215.3 394.8,237.6 395.0,236.3 395.2,235.5 395.4,235.0 395.5,234.6 395.7,234.4 395.9,234.2 396.0,213.3 396.3,237.4 396.6,236.0 396.9,235.1 397.2,234.5 397.5,234.1 397.9,233.8 398.2,233.7 398.3,212.4 398.5,236.9 398.8,235.8 399.1,235.1 399.3,234.7 399.6,234.3 399.9,234.1 400.1,234.0 400.2,219.6 400.5,237.2 400.8,235.8 401.2,234.9 401.5,234.3 401.8,233.9 402.2,233.6 402.5,233.4 402.6,212.6 402.9,236.6 403.3,235.6 403.7,235.0 404.1,234.5 404.5,234.2 404.9,234.1 405.3,233.9 405.4,218.7 405.7,237.1 406.0,236.0 406.2,235.2 406.5,234.8 406.8,234.4 407.1,234.2 407.4,234.1 407.5,210.6 407.7,237.3 408.2,235.8 408.8,234.8 409.3,234.1 409.8,233.7 410.3,233.4 410.8,233.2 410.9,215.4 411.2,236.4 411.6,235.3 412.0,234.6 412.4,234.1 412.8,233.8 413.2,233.6 413.7,233.5 413.8,209.6 414.0,236.7 414.5,235.4 415.0,234.5 415.5,234.0 416.0,233.6 416.6,233.4 417.1,233.2 417.2,218.2 417.4,236.4 417.9,235.0 418.5,234.1 419.0,233.5 419.5,233.1 420.0,232.8 420.5,232.7 420.7,220.8 420.9,235.9 421.6,234.4 422.3,233.5 423.1,232.8 423.8,232.4 424.5,232.1 425.3,232.0 425.4,220.8 425.6,235.2 426.4,234.2 427.2,233.5 428.0,233.1 428.9,232.8 429.7,232.6 430.5,232.5 430.6,211.2 430.8,235.7 431.5,234.4 432.2,233.6 432.8,233.0 433.5,232.6 434.2,232.4 434.8,232.2 434.9,214.2 435.2,235.4 435.8,234.0 436.4,233.1 437.0,232.4 437.7,232.0 438.3,231.8 438.9,231.6 439.0,209.6 439.3,234.8 440.0,233.4 440.8,232.5 441.6,231.8 442.4,231.4 443.2,231.2 443.9,231.0 444.0,210.1 444.3,234.2 445.2,233.0 446.1,232.2 447.0,231.6 447.9,231.3 448.8,231.0 449.7,230.9 449.9,212.0 450.1,234.1 450.9,232.6 451.6,231.6 452.4,230.9 453.2,230.5 453.9,230.2 454.7,230.0 454.8,214.0 455.1,233.2 455.6,232.9 456.2,232.7 456.8,232.4 457.4,232.2 457.9,231.9 458.5,231.7 459.3,235.5 460.1,238.3 460.8,240.2 461.6,241.5 462.4,242.4 463.2,243.1 464.0,243.5 464.8,243.8 465.5,244.1 466.3,244.2 467.1,244.3 467.9,244.4 468.7,244.5 469.5,244.5 470.2,244.5 471.0,244.6 471.8,244.6 472.6,244.6 473.4,244.6 474.2,244.6 474.9,244.6 475.7,244.6 476.5,244.6"/>
<polyline points="374.7,244.6 388.4,244.6 388.5,240.6 388.6,238.0 388.8,236.2 388.9,235.1 389.0,234.3 389.1,233.8 389.3,203.3 389.5,237.0 389.6,235.8 389.7,235.1 389.7,234.6 389.8,234.2 389.9,234.0 390.0,233.9 390.1,206.7 390.4,237.1 390.5,235.8 390.6,234.9 390.8,234.3 390.9,234.0 391.1,233.7 391.2,233.6 391.3,215.6 391.6,236.8 391.8,235.7 391.9,234.9 392.1,234.5 392.3,234.1 392.5,233.9 392.7,233.8 392.8,213.2 393.0,237.0 393.2,235.7 393.5,234.9 393.7,234.4 393.9,234.0 394.1,233.8 394.3,233.6 394.4,218.6 394.7,236.8 394.9,235.6 395.2,234.8 395.5,234.2 395.7,233.9 396.0,233.6 396.3,233.5 396.4,220.5 396.6,236.7 396.9,235.6 397.2,234.8 397.5,234.3 397.8,234.0 398.0,233.8 398.3,233.7 398.4,212.8 398.7,236.9 398.9,235.5 399.1,234.6 399.3,233.9 399.5,233.5 399.7,233.3 399.9,233.1 400.0,213.9 400.3,236.3 400.5,234.9 400.7,234.0 400.9,233.4 401.1,233.0 401.3,232.8 401.5,232.6 401.6,218.9 401.8,235.8 402.2,234.5 402.5,233.7 402.8,233.1 403.2,232.7 403.5,232.5 403.9,232.3 404.0,216.3 404.2,235.5 404.6,234.7 405.0,234.1 405.4,233.7 405.8,233.5 406.2,233.3 406.5,233.2 406.7,215.9 406.9,236.4 407.3,234.9 407.6,233.9 408.0,233.3 408.3,232.9 408.7,232.6 409.0,232.4 409.1,214.9 409.4,235.6 409.8,234.4 410.3,233.7 410.8,233.2 411.3,232.8 411.7,232.6 412.2,232.5 412.3,217.5 412.5,235.7 413.0,234.1 413.4,233.1 413.9,232.4 414.3,232.0 414.7,231.7 415.2,231.5 415.3,210.2 415.5,234.7 415.9,233.5 416.3,232.8 416.7,232.3 417.1,232.0 417.5,231.7 417.8,231.6 418.0,213.5 418.2,234.8 418.6,233.6 419.0,232.8 419.3,232.3 419.7,232.0 420.1,231.7 420.5,231.6 420.6,219.7 420.8,234.8 421.2,233.3 421.5,232.4 421.9,231.7 422.2,231.3 422.6,231.0 422.9,230.9 423.1,216.7 423.3,234.1 423.9,233.1 424.5,232.5 425.1,232.1 425.7,231.8 426.3,231.6 426.9,231.5 427.0,220.0 427.3,234.7 428.0,233.4 428.8,232.5 429.5,231.9 430.3,231.5 431.0,231.3 431.8,231.1 431.9,213.6 432.1,234.3 433.0,232.7 433.8,231.6 434.6,230.9 435.5,230.5 436.3,230.2 437.1,230.0 437.2,212.8 437.5,233.2 438.2,232.1 438.9,231.4 439.6,230.9 440.3,230.6 441.0,230.4 441.7,230.3 441.8,220.4 442.1,233.5 442.9,231.8 443.8,230.8 444.6,230.0 445.5,229.6 446.4,229.3 447.2,229.1 447.3,212.8 447.6,232.3 448.6,231.1 449.7,230.4 450.8,229.9 451.9,229.6 452.9,229.4 454.0,229.2 454.1,212.4 454.4,232.4 455.1,232.1 455.7,231.7 456.4,231.4 457.1,231.0 457.8,230.7 458.5,230.3 459.3,234.6 460.1,237.6 460.8,239.7 461.6,241.2 462.4,242.2 463.2,242.9 464.0,243.4 464.8,243.8 465.5,244.0 466.3,244.2 467.1,244.3 467.9,244.4 468.7,244.5 469.5,244.5 470.2,244.5 471.0,244.6 471.8,244.6 472.6,244.6 473.4,244.6 474.2,244.6 474.9,244.6 475.7,244.6 476.5,244.6"/>
</g>
<line x1="374.70" y1="244.60" x2="388.40" y2="244.60" stroke="#4654a0" stroke-width="1.0"/>
<line x1="464.50" y1="244.60" x2="476.50" y2="244.60" stroke="#4654a0" stroke-width="1.0"/>
<g stroke="#c0587e" fill="none" stroke-width="0.33" stroke-linejoin="round">
<polyline points="374.7,292.2 388.4,292.2 389.0,294.4 389.6,296.2 390.2,297.6 390.7,298.5 391.3,299.3 391.9,299.9 392.5,300.5 393.1,300.8 393.7,301.0 394.2,301.1 394.8,301.3 395.4,301.3 396.0,301.3 396.6,301.4 397.2,301.4 397.7,301.6 398.3,301.6 398.9,301.6 399.5,301.6 400.1,301.4 400.7,301.4 401.3,301.5 401.8,301.5 402.4,301.5 403.0,301.5 403.6,301.3 404.2,301.4 404.8,301.4 405.3,301.4 405.9,301.3 406.5,301.3 407.1,301.2 407.7,301.4 408.3,301.4 408.8,301.3 409.4,301.2 410.0,301.4 410.6,301.3 411.2,301.4 411.8,301.3 412.4,301.3 412.9,301.2 413.5,301.3 414.1,301.2 414.7,301.1 415.3,301.2 415.9,301.3 416.4,301.1 417.0,301.1 417.6,301.2 418.2,301.1 418.8,301.2 419.4,301.2 419.9,301.1 420.5,301.3 421.1,301.1 421.7,301.1 422.3,301.1 422.9,301.2 423.4,301.1 424.0,301.1 424.6,301.2 425.2,301.1 425.8,301.2 426.4,301.2 427.0,301.0 427.5,301.0 428.1,301.1 428.7,301.2 429.3,301.2 429.9,301.1 430.5,301.1 431.0,301.0 431.6,301.1 432.2,301.0 432.8,301.2 433.4,301.2 434.0,301.2 434.5,301.2 435.1,301.2 435.7,301.0 436.3,301.1 436.9,301.2 437.5,301.2 438.1,301.1 438.6,301.2 439.2,301.1 439.8,301.2 440.4,301.1 441.0,301.0 441.6,301.1 442.1,301.0 442.7,301.1 443.3,301.2 443.9,301.1 444.5,301.0 445.1,301.0 445.6,301.0 446.2,301.2 446.8,301.1 447.4,301.0 448.0,301.0 448.6,301.2 449.2,301.1 449.7,301.0 450.3,301.0 450.9,301.0 451.5,301.0 452.1,301.1 452.7,301.0 453.2,301.0 453.8,301.1 454.4,301.0 455.0,301.2 455.6,301.0 456.2,301.1 456.7,301.2 457.3,301.1 457.9,301.2 458.5,301.1 459.3,297.6 460.1,295.6 460.8,294.4 461.6,293.6 462.4,293.1 463.2,292.8 464.0,292.5 464.8,292.4 465.5,292.3 466.3,292.2 467.1,292.2 467.9,292.2 468.7,292.2 469.5,292.2 470.2,292.2 471.0,292.2 471.8,292.2 472.6,292.2 473.4,292.2 474.2,292.2 474.9,292.2 475.7,292.2 476.5,292.2"/>
<polyline points="374.7,292.2 388.4,292.2 389.0,293.7 389.6,294.9 390.2,295.7 390.7,296.4 391.3,296.9 391.9,297.5 392.5,297.7 393.1,297.9 393.7,297.9 394.2,298.1 394.8,298.2 395.4,298.2 396.0,298.3 396.6,298.5 397.2,298.3 397.7,298.3 398.3,298.5 398.9,298.4 399.5,298.5 400.1,298.4 400.7,298.5 401.3,298.4 401.8,298.4 402.4,298.4 403.0,298.4 403.6,298.2 404.2,298.3 404.8,298.4 405.3,298.4 405.9,298.4 406.5,298.3 407.1,298.3 407.7,298.4 408.3,298.3 408.8,298.3 409.4,298.3 410.0,298.3 410.6,298.3 411.2,298.2 411.8,298.3 412.4,298.3 412.9,298.1 413.5,298.3 414.1,298.3 414.7,298.3 415.3,298.1 415.9,298.3 416.4,298.1 417.0,298.3 417.6,298.2 418.2,298.1 418.8,298.1 419.4,298.2 419.9,298.2 420.5,298.2 421.1,298.3 421.7,298.1 422.3,298.1 422.9,298.3 423.4,298.1 424.0,298.3 424.6,298.1 425.2,298.2 425.8,298.2 426.4,298.3 427.0,298.2 427.5,298.2 428.1,298.1 428.7,298.2 429.3,298.1 429.9,298.2 430.5,298.2 431.0,298.1 431.6,298.2 432.2,298.0 432.8,298.0 433.4,298.2 434.0,298.1 434.5,298.2 435.1,298.2 435.7,298.1 436.3,298.1 436.9,298.2 437.5,298.1 438.1,298.0 438.6,298.2 439.2,298.2 439.8,298.0 440.4,298.1 441.0,298.1 441.6,298.2 442.1,298.1 442.7,298.1 443.3,298.1 443.9,298.2 444.5,298.0 445.1,298.0 445.6,298.2 446.2,298.2 446.8,298.1 447.4,298.1 448.0,298.2 448.6,298.2 449.2,298.0 449.7,298.2 450.3,298.1 450.9,298.1 451.5,298.2 452.1,298.1 452.7,298.2 453.2,298.0 453.8,298.2 454.4,298.1 455.0,298.0 455.6,298.1 456.2,298.1 456.7,298.1 457.3,298.2 457.9,298.2 458.5,298.0 459.3,295.7 460.1,294.4 460.8,293.6 461.6,293.1 462.4,292.8 463.2,292.6 464.0,292.4 464.8,292.3 465.5,292.3 466.3,292.2 467.1,292.2 467.9,292.2 468.7,292.2 469.5,292.2 470.2,292.2 471.0,292.2 471.8,292.2 472.6,292.2 473.4,292.2 474.2,292.2 474.9,292.2 475.7,292.2 476.5,292.2"/>
<polyline points="374.7,292.2 388.4,292.2 389.0,292.9 389.6,293.6 390.2,294.0 390.7,294.4 391.3,294.6 391.9,294.7 392.5,294.9 393.1,295.1 393.7,295.1 394.2,295.2 394.8,295.3 395.4,295.3 396.0,295.3 396.6,295.3 397.2,295.2 397.7,295.4 398.3,295.3 398.9,295.4 399.5,295.3 400.1,295.4 400.7,295.4 401.3,295.3 401.8,295.3 402.4,295.2 403.0,295.3 403.6,295.2 404.2,295.3 404.8,295.2 405.3,295.2 405.9,295.2 406.5,295.3 407.1,295.2 407.7,295.3 408.3,295.2 408.8,295.3 409.4,295.2 410.0,295.3 410.6,295.1 411.2,295.2 411.8,295.3 412.4,295.1 412.9,295.3 413.5,295.2 414.1,295.2 414.7,295.1 415.3,295.1 415.9,295.3 416.4,295.3 417.0,295.3 417.6,295.3 418.2,295.3 418.8,295.1 419.4,295.2 419.9,295.2 420.5,295.2 421.1,295.3 421.7,295.3 422.3,295.3 422.9,295.1 423.4,295.2 424.0,295.2 424.6,295.2 425.2,295.2 425.8,295.3 426.4,295.1 427.0,295.3 427.5,295.2 428.1,295.2 428.7,295.3 429.3,295.2 429.9,295.1 430.5,295.1 431.0,295.1 431.6,295.2 432.2,295.3 432.8,295.3 433.4,295.1 434.0,295.1 434.5,295.2 435.1,295.1 435.7,295.1 436.3,295.1 436.9,295.1 437.5,295.2 438.1,295.2 438.6,295.2 439.2,295.1 439.8,295.3 440.4,295.2 441.0,295.1 441.6,295.1 442.1,295.3 442.7,295.3 443.3,295.3 443.9,295.2 444.5,295.1 445.1,295.1 445.6,295.1 446.2,295.1 446.8,295.3 447.4,295.3 448.0,295.2 448.6,295.1 449.2,295.1 449.7,295.1 450.3,295.3 450.9,295.1 451.5,295.2 452.1,295.2 452.7,295.2 453.2,295.3 453.8,295.1 454.4,295.2 455.0,295.1 455.6,295.1 456.2,295.1 456.7,295.1 457.3,295.1 457.9,295.1 458.5,295.3 459.3,294.1 460.1,293.4 460.8,293.0 461.6,292.7 462.4,292.5 463.2,292.4 464.0,292.3 464.8,292.3 465.5,292.2 466.3,292.2 467.1,292.2 467.9,292.2 468.7,292.2 469.5,292.2 470.2,292.2 471.0,292.2 471.8,292.2 472.6,292.2 473.4,292.2 474.2,292.2 474.9,292.2 475.7,292.2 476.5,292.2"/>
<polyline points="374.7,292.2 388.4,292.2 389.0,292.0 389.6,292.0 390.2,291.8 390.7,291.7 391.3,291.7 391.9,291.7 392.5,291.6 393.1,291.6 393.7,291.5 394.2,291.5 394.8,291.5 395.4,291.5 396.0,291.5 396.6,291.4 397.2,291.5 397.7,291.5 398.3,291.4 398.9,291.4 399.5,291.6 400.1,291.4 400.7,291.4 401.3,291.5 401.8,291.6 402.4,291.4 403.0,291.4 403.6,291.5 404.2,291.4 404.8,291.6 405.3,291.4 405.9,291.6 406.5,291.4 407.1,291.4 407.7,291.6 408.3,291.6 408.8,291.4 409.4,291.5 410.0,291.5 410.6,291.5 411.2,291.4 411.8,291.6 412.4,291.6 412.9,291.5 413.5,291.6 414.1,291.6 414.7,291.5 415.3,291.6 415.9,291.6 416.4,291.5 417.0,291.4 417.6,291.5 418.2,291.6 418.8,291.4 419.4,291.5 419.9,291.6 420.5,291.5 421.1,291.4 421.7,291.5 422.3,291.4 422.9,291.6 423.4,291.5 424.0,291.4 424.6,291.6 425.2,291.5 425.8,291.5 426.4,291.6 427.0,291.6 427.5,291.6 428.1,291.6 428.7,291.5 429.3,291.5 429.9,291.5 430.5,291.5 431.0,291.6 431.6,291.5 432.2,291.4 432.8,291.5 433.4,291.5 434.0,291.5 434.5,291.5 435.1,291.4 435.7,291.4 436.3,291.4 436.9,291.6 437.5,291.6 438.1,291.5 438.6,291.4 439.2,291.6 439.8,291.6 440.4,291.5 441.0,291.4 441.6,291.6 442.1,291.5 442.7,291.5 443.3,291.4 443.9,291.6 444.5,291.4 445.1,291.5 445.6,291.4 446.2,291.5 446.8,291.6 447.4,291.6 448.0,291.6 448.6,291.4 449.2,291.5 449.7,291.5 450.3,291.4 450.9,291.5 451.5,291.6 452.1,291.6 452.7,291.6 453.2,291.4 453.8,291.5 454.4,291.6 455.0,291.5 455.6,291.5 456.2,291.4 456.7,291.4 457.3,291.6 457.9,291.6 458.5,291.4 459.3,291.7 460.1,291.8 460.8,291.9 461.6,292.0 462.4,292.1 463.2,292.1 464.0,292.1 464.8,292.2 465.5,292.2 466.3,292.2 467.1,292.2 467.9,292.2 468.7,292.2 469.5,292.2 470.2,292.2 471.0,292.2 471.8,292.2 472.6,292.2 473.4,292.2 474.2,292.2 474.9,292.2 475.7,292.2 476.5,292.2"/>
<polyline points="374.7,292.2 388.4,292.2 389.0,291.7 389.6,291.1 390.2,290.8 390.7,290.5 391.3,290.1 391.9,290.0 392.5,289.7 393.1,289.6 393.7,289.3 394.2,289.3 394.8,289.2 395.4,289.3 396.0,289.0 396.6,289.1 397.2,288.9 397.7,289.1 398.3,288.8 398.9,288.8 399.5,288.8 400.1,289.0 400.7,288.9 401.3,288.9 401.8,288.8 402.4,288.7 403.0,288.7 403.6,288.7 404.2,288.9 404.8,288.6 405.3,288.6 405.9,288.8 406.5,288.6 407.1,288.8 407.7,288.6 408.3,288.7 408.8,288.7 409.4,288.8 410.0,288.5 410.6,288.7 411.2,288.5 411.8,288.7 412.4,288.4 412.9,288.7 413.5,288.5 414.1,288.5 414.7,288.4 415.3,288.5 415.9,288.5 416.4,288.7 417.0,288.5 417.6,288.5 418.2,288.6 418.8,288.4 419.4,288.4 419.9,288.6 420.5,288.6 421.1,288.5 421.7,288.6 422.3,288.3 422.9,288.5 423.4,288.5 424.0,288.4 424.6,288.5 425.2,288.3 425.8,288.3 426.4,288.2 427.0,288.3 427.5,288.3 428.1,288.3 428.7,288.3 429.3,288.4 429.9,288.4 430.5,288.4 431.0,288.1 431.6,288.2 432.2,288.2 432.8,288.2 433.4,288.3 434.0,288.1 434.5,288.2 435.1,288.2 435.7,288.1 436.3,288.2 436.9,288.3 437.5,288.1 438.1,288.1 438.6,288.3 439.2,288.0 439.8,288.0 440.4,288.0 441.0,288.2 441.6,288.2 442.1,288.2 442.7,288.1 443.3,287.9 443.9,288.0 444.5,288.1 445.1,288.0 445.6,287.9 446.2,288.0 446.8,288.0 447.4,287.9 448.0,288.0 448.6,287.9 449.2,287.8 449.7,288.0 450.3,288.0 450.9,287.9 451.5,287.8 452.1,287.8 452.7,287.9 453.2,288.0 453.8,287.9 454.4,288.0 455.0,287.9 455.6,287.8 456.2,287.9 456.7,287.9 457.3,287.8 457.9,287.9 458.5,287.7 459.3,289.0 460.1,290.0 460.8,290.6 461.6,291.1 462.4,291.4 463.2,291.7 464.0,291.8 464.8,291.9 465.5,292.0 466.3,292.1 467.1,292.1 467.9,292.1 468.7,292.2 469.5,292.2 470.2,292.2 471.0,292.2 471.8,292.2 472.6,292.2 473.4,292.2 474.2,292.2 474.9,292.2 475.7,292.2 476.5,292.2"/>
<polyline points="374.7,292.2 388.4,292.2 388.5,289.9 388.7,288.3 388.8,287.3 389.0,286.6 389.1,286.2 389.3,285.9 389.4,258.3 389.6,289.1 390.7,288.0 391.8,287.3 392.9,286.8 394.0,286.4 395.0,286.2 396.1,286.1 396.2,268.5 396.5,289.3 397.5,287.8 398.5,286.8 399.5,286.1 400.5,285.7 401.5,285.4 402.5,285.2 402.6,265.1 402.8,288.4 404.0,287.4 405.2,286.8 406.4,286.3 407.6,286.1 408.8,285.9 410.0,285.8 410.1,268.5 410.3,289.0 412.0,287.6 413.7,286.7 415.4,286.1 417.0,285.7 418.7,285.4 420.4,285.2 420.5,266.4 420.8,288.4 423.1,287.0 425.4,286.0 427.8,285.4 430.1,285.0 432.4,284.7 434.8,284.5 434.9,264.4 435.1,287.7 438.5,286.5 441.9,285.7 445.2,285.2 448.6,284.8 452.0,284.6 455.4,284.5 455.5,263.4 455.7,287.7 456.2,287.4 456.6,287.1 457.1,286.8 457.6,286.5 458.0,286.2 458.5,285.9 459.3,287.8 460.1,289.1 460.8,290.1 461.6,290.7 462.4,291.1 463.2,291.5 464.0,291.7 464.8,291.8 465.5,291.9 466.3,292.0 467.1,292.1 467.9,292.1 468.7,292.1 469.5,292.2 470.2,292.2 471.0,292.2 471.8,292.2 472.6,292.2 473.4,292.2 474.2,292.2 474.9,292.2 475.7,292.2 476.5,292.2"/>
<polyline points="374.7,292.2 388.4,292.2 388.6,289.4 388.8,287.6 389.0,286.4 389.3,285.6 389.5,285.1 389.7,284.8 389.8,261.3 390.0,288.0 390.6,286.9 391.1,286.2 391.7,285.7 392.2,285.4 392.7,285.2 393.3,285.1 393.4,265.2 393.6,288.3 394.4,287.3 395.3,286.6 396.1,286.1 396.9,285.9 397.7,285.7 398.6,285.5 398.7,268.3 398.9,288.7 399.5,287.4 400.1,286.6 400.7,286.0 401.4,285.6 402.0,285.4 402.6,285.2 402.7,267.7 402.9,288.4 404.0,287.1 405.0,286.3 406.1,285.7 407.1,285.3 408.2,285.1 409.2,284.9 409.4,270.3 409.6,288.1 410.8,286.5 412.0,285.5 413.2,284.8 414.5,284.3 415.7,284.0 416.9,283.9 417.0,272.7 417.2,287.1 418.2,286.1 419.3,285.4 420.3,285.0 421.3,284.7 422.3,284.6 423.3,284.4 423.4,267.0 423.6,287.6 425.5,286.4 427.5,285.6 429.4,285.1 431.3,284.8 433.2,284.5 435.2,284.4 435.3,268.4 435.5,287.6 438.0,285.8 440.4,284.7 442.9,283.9 445.3,283.4 447.8,283.1 450.2,282.9 450.4,272.1 450.6,286.1 451.9,285.8 453.2,285.6 454.5,285.3 455.9,285.1 457.2,284.9 458.5,284.6 459.3,286.9 460.1,288.5 460.8,289.6 461.6,290.4 462.4,290.9 463.2,291.3 464.0,291.6 464.8,291.8 465.5,291.9 466.3,292.0 467.1,292.0 467.9,292.1 468.7,292.1 469.5,292.1 470.2,292.2 471.0,292.2 471.8,292.2 472.6,292.2 473.4,292.2 474.2,292.2 474.9,292.2 475.7,292.2 476.5,292.2"/>
<polyline points="374.7,292.2 388.4,292.2 388.5,289.6 388.6,287.9 388.7,286.7 388.8,286.0 388.9,285.5 389.0,285.2 389.1,257.4 389.3,288.4 389.6,287.0 389.9,286.1 390.2,285.5 390.5,285.2 390.8,284.9 391.1,284.7 391.3,267.1 391.5,287.9 391.8,286.8 392.0,286.1 392.3,285.6 392.5,285.2 392.8,285.0 393.1,284.9 393.2,270.0 393.4,288.1 393.8,286.6 394.2,285.7 394.6,285.0 395.0,284.6 395.4,284.3 395.8,284.1 395.9,268.1 396.1,287.3 396.7,286.1 397.3,285.3 397.9,284.8 398.5,284.4 399.2,284.2 399.8,284.1 399.9,270.3 400.1,287.3 400.6,286.2 401.1,285.6 401.6,285.1 402.1,284.8 402.5,284.6 403.0,284.5 403.1,267.2 403.4,287.7 404.2,286.4 405.0,285.6 405.7,285.0 406.5,284.6 407.3,284.4 408.1,284.2 408.2,263.2 408.5,287.4 409.4,285.9 410.4,284.8 411.4,284.1 412.4,283.7 413.4,283.4 414.3,283.2 414.5,265.9 414.7,286.4 415.8,285.3 416.9,284.6 417.9,284.1 419.0,283.8 420.1,283.6 421.2,283.4 421.3,265.3 421.5,286.6 422.4,285.2 423.3,284.3 424.1,283.7 425.0,283.3 425.8,283.1 426.7,282.9 426.8,263.4 427.1,286.1 428.5,284.7 430.0,283.9 431.5,283.3 433.0,282.9 434.5,282.6 436.0,282.4 436.1,262.8 436.4,285.6 438.1,284.2 439.9,283.2 441.7,282.5 443.5,282.1 445.2,281.8 447.0,281.6 447.1,263.9 447.3,284.8 449.2,284.6 451.1,284.3 452.9,284.0 454.8,283.8 456.6,283.5 458.5,283.3 459.3,286.0 460.1,287.8 460.8,289.1 461.6,290.1 462.4,290.7 463.2,291.1 464.0,291.5 464.8,291.7 465.5,291.8 466.3,291.9 467.1,292.0 467.9,292.1 468.7,292.1 469.5,292.1 470.2,292.2 471.0,292.2 471.8,292.2 472.6,292.2 473.4,292.2 474.2,292.2 474.9,292.2 475.7,292.2 476.5,292.2"/>
<polyline points="374.7,292.2 388.4,292.2 388.6,289.0 388.8,286.9 389.0,285.5 389.2,284.6 389.4,284.0 389.6,283.6 389.7,261.0 389.9,286.8 390.2,285.4 390.4,284.5 390.7,284.0 390.9,283.6 391.2,283.3 391.5,283.2 391.6,264.1 391.8,286.4 392.1,285.4 392.3,284.8 392.6,284.4 392.8,284.1 393.1,284.0 393.4,283.8 393.5,263.8 393.7,287.0 394.0,285.8 394.3,285.0 394.5,284.5 394.8,284.1 395.1,283.9 395.3,283.7 395.4,264.5 395.7,286.9 396.0,285.6 396.3,284.8 396.6,284.2 396.9,283.8 397.2,283.6 397.5,283.4 397.7,265.5 397.9,286.6 398.3,285.4 398.8,284.6 399.2,284.1 399.7,283.8 400.1,283.5 400.6,283.4 400.7,270.0 400.9,286.6 401.4,285.4 401.8,284.6 402.3,284.0 402.7,283.7 403.2,283.5 403.6,283.3 403.7,272.4 404.0,286.5 404.5,285.0 405.0,284.1 405.5,283.4 406.0,283.0 406.5,282.7 407.0,282.6 407.1,265.9 407.3,285.8 407.8,284.5 408.2,283.7 408.7,283.1 409.2,282.8 409.6,282.5 410.1,282.4 410.2,264.1 410.4,285.6 411.1,284.6 411.7,284.0 412.4,283.6 413.0,283.3 413.7,283.2 414.4,283.0 414.5,273.9 414.7,286.2 415.2,285.0 415.8,284.2 416.3,283.7 416.8,283.3 417.4,283.1 417.9,282.9 418.0,262.1 418.3,286.1 419.0,284.5 419.7,283.4 420.5,282.7 421.2,282.2 421.9,281.9 422.7,281.7 422.8,262.0 423.0,284.9 423.9,283.7 424.8,282.9 425.7,282.4 426.6,282.0 427.5,281.8 428.5,281.7 428.6,268.7 428.8,284.9 429.8,283.8 430.7,283.0 431.7,282.5 432.6,282.2 433.6,282.0 434.5,281.9 434.7,264.9 434.9,285.1 436.0,283.4 437.1,282.3 438.2,281.6 439.2,281.2 440.3,280.8 441.4,280.6 441.5,266.7 441.8,283.8 443.0,282.8 444.2,282.2 445.4,281.7 446.6,281.4 447.8,281.3 449.0,281.1 449.1,267.3 449.4,284.3 450.4,282.8 451.5,281.8 452.5,281.1 453.5,280.7 454.6,280.4 455.6,280.2 455.7,265.5 456.0,283.4 456.4,283.2 456.8,282.9 457.2,282.7 457.7,282.4 458.1,282.2 458.5,281.9 459.3,285.0 460.1,287.2 460.8,288.7 461.6,289.7 462.4,290.5 463.2,291.0 464.0,291.4 464.8,291.6 465.5,291.8 466.3,291.9 467.1,292.0 467.9,292.1 468.7,292.1 469.5,292.1 470.2,292.2 471.0,292.2 471.8,292.2 472.6,292.2 473.4,292.2 474.2,292.2 474.9,292.2 475.7,292.2 476.5,292.2"/>
<polyline points="374.7,292.2 388.4,292.2 388.5,288.9 388.6,286.7 388.7,285.2 388.8,284.2 388.9,283.6 389.0,283.2 389.1,257.8 389.3,286.4 389.5,285.2 389.8,284.4 390.0,283.8 390.2,283.5 390.4,283.3 390.6,283.1 390.8,261.6 391.0,286.3 391.1,285.1 391.3,284.4 391.4,283.9 391.6,283.5 391.7,283.3 391.8,283.2 392.0,265.1 392.2,286.4 392.3,284.9 392.5,284.0 392.6,283.4 392.8,283.0 392.9,282.7 393.1,282.5 393.2,271.1 393.4,285.7 393.5,284.5 393.7,283.6 393.8,283.1 394.0,282.7 394.1,282.5 394.3,282.3 394.4,265.8 394.6,285.5 395.0,284.4 395.3,283.6 395.7,283.1 396.0,282.8 396.4,282.6 396.7,282.4 396.8,272.7 397.1,285.6 397.3,284.5 397.6,283.8 397.9,283.3 398.2,283.0 398.5,282.8 398.7,282.6 398.8,273.0 399.1,285.8 399.4,284.7 399.8,284.0 400.2,283.5 400.6,283.2 400.9,283.0 401.3,282.8 401.4,273.0 401.7,286.0 402.0,284.4 402.4,283.4 402.8,282.7 403.1,282.2 403.5,281.9 403.9,281.7 404.0,273.8 404.2,284.9 404.7,283.7 405.3,282.9 405.8,282.3 406.3,282.0 406.8,281.8 407.3,281.6 407.5,270.5 407.7,284.8 408.1,283.7 408.5,283.0 408.9,282.6 409.3,282.3 409.7,282.1 410.1,281.9 410.2,270.6 410.4,285.1 410.8,283.7 411.3,282.7 411.7,282.1 412.1,281.7 412.6,281.4 413.0,281.2 413.1,268.9 413.3,284.4 413.9,283.3 414.5,282.5 415.1,282.0 415.7,281.7 416.3,281.4 416.9,281.3 417.0,273.1 417.2,284.5 417.6,283.4 418.0,282.7 418.4,282.2 418.7,281.9 419.1,281.7 419.5,281.5 419.6,266.0 419.9,284.7 420.4,283.6 421.0,282.8 421.6,282.3 422.1,282.0 422.7,281.8 423.2,281.6 423.4,272.5 423.6,284.8 424.4,283.3 425.1,282.2 425.9,281.6 426.7,281.1 427.5,280.8 428.3,280.6 428.4,270.1 428.6,283.8 429.4,282.7 430.2,282.0 431.0,281.5 431.7,281.2 432.5,280.9 433.3,280.8 433.4,264.2 433.6,284.0 434.4,282.6 435.2,281.7 436.1,281.1 436.9,280.6 437.7,280.4 438.5,280.2 438.6,272.5 438.8,283.4 440.0,282.1 441.1,281.3 442.2,280.7 443.4,280.3 444.5,280.1 445.6,279.9 445.8,267.1 446.0,283.1 446.9,281.8 447.9,280.9 448.8,280.3 449.8,279.9 450.7,279.7 451.7,279.5 451.8,272.1 452.0,282.7 453.1,282.4 454.2,282.0 455.3,281.7 456.3,281.3 457.4,281.0 458.5,280.6 459.3,284.1 460.1,286.5 460.8,288.2 461.6,289.4 462.4,290.2 463.2,290.8 464.0,291.2 464.8,291.5 465.5,291.7 466.3,291.9 467.1,292.0 467.9,292.0 468.7,292.1 469.5,292.1 470.2,292.1 471.0,292.2 471.8,292.2 472.6,292.2 473.4,292.2 474.2,292.2 474.9,292.2 475.7,292.2 476.5,292.2"/>
<polyline points="374.7,292.2 388.4,292.2 388.5,288.4 388.6,285.8 388.7,284.1 388.8,283.0 388.9,282.3 389.0,281.8 389.1,261.1 389.4,285.0 389.5,283.9 389.7,283.2 389.9,282.7 390.1,282.4 390.3,282.1 390.5,282.0 390.6,266.4 390.8,285.2 390.9,284.2 391.0,283.6 391.1,283.1 391.2,282.8 391.3,282.7 391.4,282.5 391.5,264.1 391.7,285.7 391.9,284.6 392.1,283.8 392.3,283.3 392.5,283.0 392.7,282.8 392.9,282.6 393.0,273.5 393.3,285.8 393.5,284.2 393.7,283.2 394.0,282.5 394.2,282.0 394.4,281.7 394.6,281.5 394.8,265.7 395.0,284.7 395.2,283.8 395.4,283.3 395.6,282.9 395.8,282.6 396.0,282.5 396.2,282.4 396.3,271.8 396.6,285.6 396.8,284.0 397.1,283.0 397.4,282.3 397.6,281.9 397.9,281.6 398.2,281.4 398.3,263.9 398.5,284.6 398.7,283.3 399.0,282.5 399.2,282.0 399.4,281.6 399.6,281.4 399.8,281.2 399.9,272.1 400.1,284.4 400.3,283.3 400.6,282.6 400.8,282.1 401.0,281.7 401.2,281.5 401.4,281.4 401.5,265.3 401.7,284.6 402.0,283.6 402.2,282.9 402.5,282.5 402.7,282.2 403.0,282.0 403.3,281.9 403.4,262.8 403.6,285.1 403.9,283.7 404.1,282.8 404.4,282.1 404.7,281.7 404.9,281.5 405.2,281.3 405.3,270.7 405.5,284.5 405.9,283.2 406.3,282.3 406.7,281.7 407.1,281.3 407.5,281.1 407.9,280.9 408.0,264.7 408.2,284.1 408.6,282.8 409.0,281.9 409.4,281.3 409.7,280.9 410.1,280.7 410.5,280.5 410.6,262.8 410.9,283.7 411.3,282.5 411.8,281.8 412.2,281.2 412.6,280.9 413.1,280.7 413.5,280.5 413.7,264.1 413.9,283.7 414.5,282.7 415.0,282.1 415.6,281.6 416.2,281.3 416.8,281.1 417.4,281.0 417.5,264.3 417.7,284.2 418.3,282.6 418.8,281.5 419.4,280.8 420.0,280.3 420.6,280.0 421.1,279.8 421.3,264.6 421.5,283.0 422.1,282.1 422.7,281.5 423.4,281.0 424.0,280.8 424.6,280.6 425.3,280.5 425.4,267.8 425.6,283.7 426.4,282.2 427.1,281.3 427.9,280.6 428.7,280.2 429.4,279.9 430.2,279.8 430.3,268.9 430.5,283.0 431.3,281.5 432.2,280.6 433.0,280.0 433.8,279.6 434.6,279.3 435.4,279.1 435.5,270.5 435.8,282.3 436.6,280.9 437.4,279.9 438.2,279.3 439.0,278.8 439.8,278.6 440.6,278.4 440.8,266.1 441.0,281.6 441.7,280.4 442.4,279.6 443.1,279.1 443.7,278.8 444.4,278.6 445.1,278.4 445.2,263.4 445.5,281.6 446.3,280.5 447.1,279.7 447.9,279.2 448.8,278.9 449.6,278.7 450.4,278.5 450.5,263.2 450.8,281.7 451.8,280.1 452.8,279.0 453.8,278.3 454.9,277.9 455.9,277.6 456.9,277.4 457.0,266.1 457.3,280.6 457.5,280.3 457.7,280.1 457.9,279.9 458.1,279.7 458.3,279.5 458.5,279.3 459.3,283.1 460.1,285.9 460.8,287.8 461.6,289.1 462.4,290.0 463.2,290.7 464.0,291.1 464.8,291.4 465.5,291.7 466.3,291.8 467.1,291.9 467.9,292.0 468.7,292.1 469.5,292.1 470.2,292.1 471.0,292.2 471.8,292.2 472.6,292.2 473.4,292.2 474.2,292.2 474.9,292.2 475.7,292.2 476.5,292.2"/>
<polyline points="374.7,292.2 388.4,292.2 388.6,288.3 388.8,285.8 389.0,284.1 389.2,283.0 389.3,282.3 389.5,281.8 389.7,260.6 389.9,285.0 390.0,283.8 390.2,283.0 390.4,282.4 390.5,282.1 390.7,281.8 390.8,281.7 391.0,264.6 391.2,284.9 391.3,283.5 391.4,282.7 391.6,282.1 391.7,281.7 391.8,281.4 391.9,281.3 392.0,265.4 392.3,284.5 392.4,283.1 392.5,282.2 392.6,281.6 392.7,281.2 392.8,280.9 392.9,280.7 393.0,271.7 393.3,283.9 393.4,283.1 393.5,282.5 393.6,282.1 393.8,281.9 393.9,281.7 394.0,281.6 394.1,271.3 394.4,284.8 394.5,283.2 394.7,282.2 394.8,281.5 395.0,281.1 395.2,280.8 395.3,280.6 395.5,273.5 395.7,283.8 395.9,282.6 396.0,281.9 396.2,281.4 396.3,281.1 396.5,280.9 396.7,280.8 396.8,266.7 397.0,284.0 397.2,282.8 397.3,282.0 397.4,281.5 397.5,281.2 397.7,281.0 397.8,280.8 397.9,269.8 398.1,284.0 398.4,282.8 398.7,281.9 398.9,281.4 399.2,281.0 399.5,280.8 399.7,280.6 399.8,264.3 400.1,283.8 400.3,282.5 400.6,281.6 400.8,281.0 401.1,280.6 401.3,280.3 401.6,280.2 401.7,268.5 401.9,283.4 402.2,282.5 402.5,281.9 402.8,281.5 403.2,281.2 403.5,281.1 403.8,281.0 403.9,265.7 404.1,284.2 404.5,282.9 404.8,282.1 405.1,281.5 405.5,281.2 405.8,280.9 406.1,280.8 406.3,267.5 406.5,284.0 406.8,282.7 407.2,281.9 407.5,281.3 407.9,281.0 408.2,280.7 408.5,280.6 408.7,268.4 408.9,283.8 409.3,282.4 409.7,281.5 410.1,281.0 410.4,280.6 410.8,280.3 411.2,280.2 411.3,271.9 411.6,283.4 412.0,281.9 412.4,280.9 412.8,280.3 413.2,279.8 413.6,279.5 413.9,279.4 414.1,264.3 414.3,282.6 414.7,281.3 415.0,280.4 415.4,279.9 415.7,279.5 416.1,279.3 416.4,279.1 416.5,269.0 416.8,282.3 417.3,281.3 417.8,280.6 418.2,280.2 418.7,279.9 419.2,279.7 419.7,279.5 419.8,272.9 420.0,282.7 420.6,281.6 421.2,280.8 421.7,280.3 422.3,279.9 422.8,279.7 423.4,279.6 423.5,266.8 423.7,282.8 424.1,281.3 424.4,280.3 424.8,279.6 425.1,279.2 425.5,278.9 425.8,278.7 425.9,264.0 426.2,281.9 426.6,280.7 426.9,279.9 427.3,279.3 427.7,279.0 428.1,278.8 428.4,278.6 428.6,272.6 428.8,281.8 429.2,280.6 429.6,279.8 430.0,279.3 430.4,279.0 430.8,278.7 431.3,278.6 431.4,270.5 431.6,281.8 432.1,280.6 432.7,279.8 433.2,279.2 433.8,278.9 434.3,278.6 434.8,278.5 434.9,273.7 435.2,281.7 435.9,280.0 436.6,278.9 437.4,278.2 438.1,277.7 438.8,277.4 439.6,277.2 439.7,264.0 439.9,280.4 440.6,279.2 441.2,278.4 441.9,277.9 442.5,277.5 443.2,277.3 443.8,277.1 444.0,266.0 444.2,280.3 445.0,279.3 445.9,278.7 446.7,278.2 447.6,277.9 448.4,277.7 449.3,277.6 449.4,264.5 449.6,280.8 450.3,279.2 451.0,278.1 451.6,277.4 452.3,276.9 453.0,276.6 453.7,276.4 453.8,267.6 454.0,279.6 454.8,279.4 455.5,279.1 456.3,278.8 457.0,278.5 457.8,278.2 458.5,277.9 459.3,282.2 460.1,285.2 460.8,287.3 461.6,288.8 462.4,289.8 463.2,290.5 464.0,291.0 464.8,291.4 465.5,291.6 466.3,291.8 467.1,291.9 467.9,292.0 468.7,292.1 469.5,292.1 470.2,292.1 471.0,292.2 471.8,292.2 472.6,292.2 473.4,292.2 474.2,292.2 474.9,292.2 475.7,292.2 476.5,292.2"/>
</g>
<line x1="374.70" y1="292.20" x2="388.40" y2="292.20" stroke="#c0587e" stroke-width="1.0"/>
<line x1="464.50" y1="292.20" x2="476.50" y2="292.20" stroke="#c0587e" stroke-width="1.0"/>
<text x="358.50" y="235.00" font-size="8.6" text-anchor="start" fill="#231f20">ACSF</text>
<text x="357.00" y="282.70" font-size="8.6" text-anchor="start" fill="#231f20">L-LEN</text>
<line x1="519.50" y1="208.90" x2="519.50" y2="278.50" stroke="#6d6e71" stroke-width="0.7"/>
<line x1="493.00" y1="278.50" x2="598.60" y2="278.50" stroke="#6d6e71" stroke-width="0.7"/>
<line x1="516.50" y1="255.30" x2="519.50" y2="255.30" stroke="#6d6e71" stroke-width="0.7"/>
<text x="515.50" y="258.10" font-size="8.6" text-anchor="end" fill="#231f20">10</text>
<line x1="516.50" y1="232.10" x2="519.50" y2="232.10" stroke="#6d6e71" stroke-width="0.7"/>
<text x="515.50" y="234.90" font-size="8.6" text-anchor="end" fill="#231f20">20</text>
<line x1="516.50" y1="208.90" x2="519.50" y2="208.90" stroke="#6d6e71" stroke-width="0.7"/>
<text x="515.50" y="211.70" font-size="8.6" text-anchor="end" fill="#231f20">30</text>
<line x1="493.20" y1="278.50" x2="493.20" y2="280.50" stroke="#6d6e71" stroke-width="0.7"/>
<text x="493.20" y="287.70" font-size="7.8" text-anchor="middle" fill="#231f20">–30</text>
<line x1="519.50" y1="278.50" x2="519.50" y2="280.50" stroke="#6d6e71" stroke-width="0.7"/>
<text x="519.50" y="287.70" font-size="7.8" text-anchor="middle" fill="#231f20">0</text>
<line x1="545.80" y1="278.50" x2="545.80" y2="280.50" stroke="#6d6e71" stroke-width="0.7"/>
<text x="545.80" y="287.70" font-size="7.8" text-anchor="middle" fill="#231f20">30</text>
<line x1="572.10" y1="278.50" x2="572.10" y2="280.50" stroke="#6d6e71" stroke-width="0.7"/>
<text x="572.10" y="287.70" font-size="7.8" text-anchor="middle" fill="#231f20">60</text>
<line x1="598.40" y1="278.50" x2="598.40" y2="280.50" stroke="#6d6e71" stroke-width="0.7"/>
<text x="598.40" y="287.70" font-size="7.8" text-anchor="middle" fill="#231f20">90</text>
<text x="503.00" y="302.50" font-size="9.1" text-anchor="start" fill="#231f20">Current injection (pA)</text>
<text transform="translate(500.2,265.7) rotate(-90)" font-size="8.8" fill="#231f20">AP number</text>
<polyline points="493.20,278.50 501.97,278.50 510.73,278.50 519.50,277.34 528.27,271.54 537.03,264.58 545.80,255.76 554.57,248.34 563.33,242.08 572.10,237.90 580.87,232.56 589.63,231.40" fill="none" stroke="#d07890" stroke-width="0.7" stroke-linejoin="round"/>
<circle cx="493.20" cy="278.50" r="1.60" fill="#fff" stroke="#d07890" stroke-width="0.6"/>
<circle cx="501.97" cy="278.50" r="1.60" fill="#fff" stroke="#d07890" stroke-width="0.6"/>
<circle cx="510.73" cy="278.50" r="1.60" fill="#fff" stroke="#d07890" stroke-width="0.6"/>
<circle cx="519.50" cy="277.34" r="1.60" fill="#fff" stroke="#d07890" stroke-width="0.6"/>
<line x1="528.27" y1="267.87" x2="528.27" y2="275.21" stroke="#d07890" stroke-width="0.6"/>
<line x1="527.27" y1="267.87" x2="529.27" y2="267.87" stroke="#d07890" stroke-width="0.5"/>
<circle cx="528.27" cy="271.54" r="1.60" fill="#fff" stroke="#d07890" stroke-width="0.6"/>
<line x1="537.03" y1="260.29" x2="537.03" y2="268.87" stroke="#d07890" stroke-width="0.6"/>
<line x1="536.03" y1="260.29" x2="538.03" y2="260.29" stroke="#d07890" stroke-width="0.5"/>
<circle cx="537.03" cy="264.58" r="1.60" fill="#fff" stroke="#d07890" stroke-width="0.6"/>
<line x1="545.80" y1="250.70" x2="545.80" y2="260.83" stroke="#d07890" stroke-width="0.6"/>
<line x1="544.80" y1="250.70" x2="546.80" y2="250.70" stroke="#d07890" stroke-width="0.5"/>
<circle cx="545.80" cy="255.76" r="1.60" fill="#fff" stroke="#d07890" stroke-width="0.6"/>
<line x1="554.57" y1="242.62" x2="554.57" y2="254.06" stroke="#d07890" stroke-width="0.6"/>
<line x1="553.57" y1="242.62" x2="555.57" y2="242.62" stroke="#d07890" stroke-width="0.5"/>
<circle cx="554.57" cy="248.34" r="1.60" fill="#fff" stroke="#d07890" stroke-width="0.6"/>
<line x1="563.33" y1="235.81" x2="563.33" y2="248.34" stroke="#d07890" stroke-width="0.6"/>
<line x1="562.33" y1="235.81" x2="564.33" y2="235.81" stroke="#d07890" stroke-width="0.5"/>
<circle cx="563.33" cy="242.08" r="1.60" fill="#fff" stroke="#d07890" stroke-width="0.6"/>
<line x1="572.10" y1="231.26" x2="572.10" y2="244.54" stroke="#d07890" stroke-width="0.6"/>
<line x1="571.10" y1="231.26" x2="573.10" y2="231.26" stroke="#d07890" stroke-width="0.5"/>
<circle cx="572.10" cy="237.90" r="1.60" fill="#fff" stroke="#d07890" stroke-width="0.6"/>
<line x1="580.87" y1="225.46" x2="580.87" y2="239.67" stroke="#d07890" stroke-width="0.6"/>
<line x1="579.87" y1="225.46" x2="581.87" y2="225.46" stroke="#d07890" stroke-width="0.5"/>
<circle cx="580.87" cy="232.56" r="1.60" fill="#fff" stroke="#d07890" stroke-width="0.6"/>
<line x1="589.63" y1="224.20" x2="589.63" y2="238.61" stroke="#d07890" stroke-width="0.6"/>
<line x1="588.63" y1="224.20" x2="590.63" y2="224.20" stroke="#d07890" stroke-width="0.5"/>
<circle cx="589.63" cy="231.40" r="1.60" fill="#fff" stroke="#d07890" stroke-width="0.6"/>
<polyline points="493.20,278.50 501.97,278.50 510.73,278.50 519.50,277.80 528.27,273.16 537.03,268.06 545.80,257.16 554.57,249.96 563.33,242.54 572.10,239.06 580.87,233.03 589.63,233.03" fill="none" stroke="#6a74b8" stroke-width="0.7" stroke-linejoin="round"/>
<circle cx="493.20" cy="278.50" r="1.60" fill="#fff" stroke="#6a74b8" stroke-width="0.6"/>
<circle cx="501.97" cy="278.50" r="1.60" fill="#fff" stroke="#6a74b8" stroke-width="0.6"/>
<circle cx="510.73" cy="278.50" r="1.60" fill="#fff" stroke="#6a74b8" stroke-width="0.6"/>
<circle cx="519.50" cy="277.80" r="1.60" fill="#fff" stroke="#6a74b8" stroke-width="0.6"/>
<line x1="528.27" y1="269.63" x2="528.27" y2="276.70" stroke="#6a74b8" stroke-width="0.6"/>
<line x1="527.27" y1="269.63" x2="529.27" y2="269.63" stroke="#6a74b8" stroke-width="0.5"/>
<circle cx="528.27" cy="273.16" r="1.60" fill="#fff" stroke="#6a74b8" stroke-width="0.6"/>
<line x1="537.03" y1="264.08" x2="537.03" y2="272.04" stroke="#6a74b8" stroke-width="0.6"/>
<line x1="536.03" y1="264.08" x2="538.03" y2="264.08" stroke="#6a74b8" stroke-width="0.5"/>
<circle cx="537.03" cy="268.06" r="1.60" fill="#fff" stroke="#6a74b8" stroke-width="0.6"/>
<line x1="545.80" y1="252.22" x2="545.80" y2="262.10" stroke="#6a74b8" stroke-width="0.6"/>
<line x1="544.80" y1="252.22" x2="546.80" y2="252.22" stroke="#6a74b8" stroke-width="0.5"/>
<circle cx="545.80" cy="257.16" r="1.60" fill="#fff" stroke="#6a74b8" stroke-width="0.6"/>
<line x1="554.57" y1="244.39" x2="554.57" y2="255.54" stroke="#6a74b8" stroke-width="0.6"/>
<line x1="553.57" y1="244.39" x2="555.57" y2="244.39" stroke="#6a74b8" stroke-width="0.5"/>
<circle cx="554.57" cy="249.96" r="1.60" fill="#fff" stroke="#6a74b8" stroke-width="0.6"/>
<line x1="563.33" y1="236.31" x2="563.33" y2="248.77" stroke="#6a74b8" stroke-width="0.6"/>
<line x1="562.33" y1="236.31" x2="564.33" y2="236.31" stroke="#6a74b8" stroke-width="0.5"/>
<circle cx="563.33" cy="242.54" r="1.60" fill="#fff" stroke="#6a74b8" stroke-width="0.6"/>
<line x1="572.10" y1="232.53" x2="572.10" y2="245.59" stroke="#6a74b8" stroke-width="0.6"/>
<line x1="571.10" y1="232.53" x2="573.10" y2="232.53" stroke="#6a74b8" stroke-width="0.5"/>
<circle cx="572.10" cy="239.06" r="1.60" fill="#fff" stroke="#6a74b8" stroke-width="0.6"/>
<line x1="580.87" y1="225.96" x2="580.87" y2="240.09" stroke="#6a74b8" stroke-width="0.6"/>
<line x1="579.87" y1="225.96" x2="581.87" y2="225.96" stroke="#6a74b8" stroke-width="0.5"/>
<circle cx="580.87" cy="233.03" r="1.60" fill="#fff" stroke="#6a74b8" stroke-width="0.6"/>
<line x1="589.63" y1="225.96" x2="589.63" y2="240.09" stroke="#6a74b8" stroke-width="0.6"/>
<line x1="588.63" y1="225.96" x2="590.63" y2="225.96" stroke="#6a74b8" stroke-width="0.5"/>
<circle cx="589.63" cy="233.03" r="1.60" fill="#fff" stroke="#6a74b8" stroke-width="0.6"/>
<line x1="524.00" y1="209.90" x2="531.70" y2="209.90" stroke="#6a74b8" stroke-width="0.7"/>
<circle cx="527.90" cy="209.90" r="1.70" fill="#fff" stroke="#6a74b8" stroke-width="0.6"/>
<text x="536.30" y="212.80" font-size="8.4" text-anchor="start" fill="#231f20">ACSF</text>
<line x1="524.00" y1="221.30" x2="531.70" y2="221.30" stroke="#d07890" stroke-width="0.7"/>
<circle cx="527.90" cy="221.30" r="1.70" fill="#fff" stroke="#d07890" stroke-width="0.6"/>
<text x="536.30" y="224.20" font-size="8.4" text-anchor="start" fill="#231f20">L-LEN</text>
<line x1="628.00" y1="205.20" x2="628.00" y2="275.20" stroke="#6d6e71" stroke-width="0.7"/>
<line x1="628.00" y1="275.20" x2="675.30" y2="275.20" stroke="#6d6e71" stroke-width="0.7"/>
<line x1="625.00" y1="275.20" x2="628.00" y2="275.20" stroke="#6d6e71" stroke-width="0.7"/>
<text x="622.20" y="278.00" font-size="8.6" text-anchor="end" fill="#231f20">0</text>
<line x1="625.00" y1="255.20" x2="628.00" y2="255.20" stroke="#6d6e71" stroke-width="0.7"/>
<text x="622.20" y="258.00" font-size="8.6" text-anchor="end" fill="#231f20">20</text>
<line x1="625.00" y1="235.20" x2="628.00" y2="235.20" stroke="#6d6e71" stroke-width="0.7"/>
<text x="622.20" y="238.00" font-size="8.6" text-anchor="end" fill="#231f20">40</text>
<line x1="625.00" y1="215.20" x2="628.00" y2="215.20" stroke="#6d6e71" stroke-width="0.7"/>
<text x="622.20" y="218.00" font-size="8.6" text-anchor="end" fill="#231f20">60</text>
<rect x="634.10" y="255.20" width="13.70" height="20.00" fill="#7080c0" stroke="#2e3a80" stroke-width="0.6"/>
<rect x="654.10" y="258.20" width="13.70" height="17.00" fill="#c07090" stroke="#6a2a44" stroke-width="0.6"/>
<circle cx="640.95" cy="235.20" r="1.75" fill="none" stroke="#333" stroke-width="0.55"/>
<circle cx="637.65" cy="245.20" r="1.75" fill="none" stroke="#333" stroke-width="0.55"/>
<circle cx="640.95" cy="245.20" r="1.75" fill="none" stroke="#333" stroke-width="0.55"/>
<circle cx="644.25" cy="245.20" r="1.75" fill="none" stroke="#333" stroke-width="0.55"/>
<circle cx="634.35" cy="255.20" r="1.75" fill="none" stroke="#333" stroke-width="0.55"/>
<circle cx="637.65" cy="255.20" r="1.75" fill="none" stroke="#333" stroke-width="0.55"/>
<circle cx="640.95" cy="255.20" r="1.75" fill="none" stroke="#333" stroke-width="0.55"/>
<circle cx="644.25" cy="255.20" r="1.75" fill="none" stroke="#333" stroke-width="0.55"/>
<circle cx="647.55" cy="255.20" r="1.75" fill="none" stroke="#333" stroke-width="0.55"/>
<circle cx="636.00" cy="265.20" r="1.75" fill="none" stroke="#333" stroke-width="0.55"/>
<circle cx="639.30" cy="265.20" r="1.75" fill="none" stroke="#333" stroke-width="0.55"/>
<circle cx="642.60" cy="265.20" r="1.75" fill="none" stroke="#333" stroke-width="0.55"/>
<circle cx="645.90" cy="265.20" r="1.75" fill="none" stroke="#333" stroke-width="0.55"/>
<circle cx="640.95" cy="275.20" r="1.75" fill="none" stroke="#333" stroke-width="0.55"/>
<line x1="640.95" y1="252.20" x2="640.95" y2="258.20" stroke="#222" stroke-width="0.6"/>
<line x1="638.45" y1="252.20" x2="643.45" y2="252.20" stroke="#222" stroke-width="0.6"/>
<line x1="638.45" y1="258.20" x2="643.45" y2="258.20" stroke="#222" stroke-width="0.6"/>
<circle cx="660.95" cy="235.20" r="1.75" fill="none" stroke="#333" stroke-width="0.55"/>
<circle cx="660.95" cy="245.20" r="1.75" fill="none" stroke="#333" stroke-width="0.55"/>
<circle cx="654.35" cy="255.20" r="1.75" fill="none" stroke="#333" stroke-width="0.55"/>
<circle cx="657.65" cy="255.20" r="1.75" fill="none" stroke="#333" stroke-width="0.55"/>
<circle cx="660.95" cy="255.20" r="1.75" fill="none" stroke="#333" stroke-width="0.55"/>
<circle cx="664.25" cy="255.20" r="1.75" fill="none" stroke="#333" stroke-width="0.55"/>
<circle cx="667.55" cy="255.20" r="1.75" fill="none" stroke="#333" stroke-width="0.55"/>
<circle cx="656.00" cy="265.20" r="1.75" fill="none" stroke="#333" stroke-width="0.55"/>
<circle cx="659.30" cy="265.20" r="1.75" fill="none" stroke="#333" stroke-width="0.55"/>
<circle cx="662.60" cy="265.20" r="1.75" fill="none" stroke="#333" stroke-width="0.55"/>
<circle cx="665.90" cy="265.20" r="1.75" fill="none" stroke="#333" stroke-width="0.55"/>
<circle cx="659.30" cy="275.20" r="1.75" fill="none" stroke="#333" stroke-width="0.55"/>
<circle cx="662.60" cy="275.20" r="1.75" fill="none" stroke="#333" stroke-width="0.55"/>
<line x1="660.95" y1="255.20" x2="660.95" y2="261.20" stroke="#222" stroke-width="0.6"/>
<line x1="658.45" y1="255.20" x2="663.45" y2="255.20" stroke="#222" stroke-width="0.6"/>
<line x1="658.45" y1="261.20" x2="663.45" y2="261.20" stroke="#222" stroke-width="0.6"/>
<polyline points="641.00,207.20 641.00,203.50 662.80,203.50 662.80,207.20" fill="none" stroke="#333" stroke-width="0.6" stroke-linejoin="round"/>
<text x="651.90" y="200.90" font-size="8.6" text-anchor="middle" fill="#231f20">NS</text>
<text transform="translate(608.6,273.4) rotate(-90)" font-size="8.7" fill="#231f20">Rheobase (pA)</text>
<text transform="translate(646,282) rotate(-45)" font-size="8.4" text-anchor="end" fill="#231f20">ACSF</text>
<text transform="translate(666,282) rotate(-45)" font-size="8.4" text-anchor="end" fill="#231f20">L-LEN</text>
<text x="0.00" y="331.00" font-size="12.5" text-anchor="start" fill="#000" font-weight="bold">f</text>
<rect x="7.00" y="340.30" width="102.60" height="74.90" fill="#efefef" stroke="none" stroke-width="0.8"/>
<path d="M15.5,360.5 C18,355.5 21,352.0 25,352.0 C29,352.0 32,355.5 34.5,360.5 Z" fill="#8a6038" stroke="none" stroke-width="0.8"/>
<circle cx="22.86" cy="352.93" r="1.10" fill="#6e4422" stroke="none" stroke-width="0.6"/>
<circle cx="28.86" cy="356.45" r="1.10" fill="#a0703a" stroke="none" stroke-width="0.6"/>
<circle cx="33.11" cy="357.85" r="1.10" fill="#7a4e28" stroke="none" stroke-width="0.6"/>
<circle cx="33.53" cy="359.43" r="1.10" fill="#7a4e28" stroke="none" stroke-width="0.6"/>
<circle cx="27.70" cy="355.96" r="1.10" fill="#a0703a" stroke="none" stroke-width="0.6"/>
<circle cx="28.37" cy="359.19" r="1.10" fill="#a0703a" stroke="none" stroke-width="0.6"/>
<circle cx="33.14" cy="359.71" r="1.10" fill="#8c5c30" stroke="none" stroke-width="0.6"/>
<circle cx="33.80" cy="359.08" r="1.10" fill="#a0703a" stroke="none" stroke-width="0.6"/>
<circle cx="22.82" cy="355.81" r="1.10" fill="#7a4e28" stroke="none" stroke-width="0.6"/>
<circle cx="27.16" cy="358.92" r="1.10" fill="#7a4e28" stroke="none" stroke-width="0.6"/>
<circle cx="24.21" cy="352.73" r="1.10" fill="#7a4e28" stroke="none" stroke-width="0.6"/>
<circle cx="31.05" cy="359.36" r="1.10" fill="#6e4422" stroke="none" stroke-width="0.6"/>
<circle cx="31.19" cy="356.04" r="1.10" fill="#6e4422" stroke="none" stroke-width="0.6"/>
<circle cx="25.23" cy="353.21" r="1.10" fill="#a0703a" stroke="none" stroke-width="0.6"/>
<circle cx="24.79" cy="357.88" r="1.10" fill="#a0703a" stroke="none" stroke-width="0.6"/>
<circle cx="20.57" cy="356.95" r="1.10" fill="#a0703a" stroke="none" stroke-width="0.6"/>
<circle cx="29.51" cy="354.17" r="1.10" fill="#6e4422" stroke="none" stroke-width="0.6"/>
<circle cx="22.62" cy="354.43" r="1.10" fill="#a0703a" stroke="none" stroke-width="0.6"/>
<circle cx="28.14" cy="356.45" r="1.10" fill="#6e4422" stroke="none" stroke-width="0.6"/>
<circle cx="28.73" cy="358.58" r="1.10" fill="#a0703a" stroke="none" stroke-width="0.6"/>
<circle cx="29.41" cy="353.71" r="1.10" fill="#6e4422" stroke="none" stroke-width="0.6"/>
<circle cx="21.98" cy="355.57" r="1.10" fill="#6e4422" stroke="none" stroke-width="0.6"/>
<circle cx="19.12" cy="355.45" r="1.10" fill="#6e4422" stroke="none" stroke-width="0.6"/>
<circle cx="22.33" cy="355.45" r="1.10" fill="#7a4e28" stroke="none" stroke-width="0.6"/>
<circle cx="25.93" cy="356.68" r="1.10" fill="#a0703a" stroke="none" stroke-width="0.6"/>
<circle cx="18.06" cy="356.97" r="1.10" fill="#a0703a" stroke="none" stroke-width="0.6"/>
<circle cx="22.82" cy="355.35" r="1.10" fill="#a0703a" stroke="none" stroke-width="0.6"/>
<circle cx="16.25" cy="359.78" r="1.10" fill="#6e4422" stroke="none" stroke-width="0.6"/>
<circle cx="34.17" cy="360.40" r="1.10" fill="#6e4422" stroke="none" stroke-width="0.6"/>
<circle cx="20.97" cy="360.40" r="1.10" fill="#7a4e28" stroke="none" stroke-width="0.6"/>
<circle cx="30.49" cy="358.91" r="1.10" fill="#6e4422" stroke="none" stroke-width="0.6"/>
<circle cx="31.26" cy="356.16" r="1.10" fill="#8c5c30" stroke="none" stroke-width="0.6"/>
<circle cx="29.73" cy="360.12" r="1.10" fill="#8c5c30" stroke="none" stroke-width="0.6"/>
<circle cx="15.93" cy="359.84" r="1.10" fill="#7a4e28" stroke="none" stroke-width="0.6"/>
<circle cx="27.78" cy="357.07" r="1.10" fill="#8c5c30" stroke="none" stroke-width="0.6"/>
<circle cx="17.13" cy="358.98" r="1.10" fill="#a0703a" stroke="none" stroke-width="0.6"/>
<circle cx="32.08" cy="359.73" r="1.10" fill="#6e4422" stroke="none" stroke-width="0.6"/>
<circle cx="24.54" cy="357.32" r="1.10" fill="#7a4e28" stroke="none" stroke-width="0.6"/>
<circle cx="29.56" cy="357.28" r="1.10" fill="#6e4422" stroke="none" stroke-width="0.6"/>
<circle cx="33.08" cy="360.08" r="1.10" fill="#6e4422" stroke="none" stroke-width="0.6"/>
<line x1="18.50" y1="353.50" x2="31.50" y2="360.00" stroke="#e83030" stroke-width="1.1"/>
<line x1="18.50" y1="360.00" x2="31.50" y2="353.50" stroke="#e83030" stroke-width="1.1"/>
<path d="M50.7,360.5 C53.2,355.5 56.2,352.0 60.2,352.0 C64.2,352.0 67.2,355.5 69.7,360.5 Z" fill="#8a6038" stroke="none" stroke-width="0.8"/>
<circle cx="58.32" cy="357.75" r="1.10" fill="#7a4e28" stroke="none" stroke-width="0.6"/>
<circle cx="59.48" cy="355.41" r="1.10" fill="#8c5c30" stroke="none" stroke-width="0.6"/>
<circle cx="69.59" cy="360.40" r="1.10" fill="#6e4422" stroke="none" stroke-width="0.6"/>
<circle cx="57.41" cy="356.95" r="1.10" fill="#8c5c30" stroke="none" stroke-width="0.6"/>
<circle cx="54.71" cy="356.66" r="1.10" fill="#a0703a" stroke="none" stroke-width="0.6"/>
<circle cx="60.32" cy="359.41" r="1.10" fill="#6e4422" stroke="none" stroke-width="0.6"/>
<circle cx="59.96" cy="355.02" r="1.10" fill="#8c5c30" stroke="none" stroke-width="0.6"/>
<circle cx="64.13" cy="359.88" r="1.10" fill="#a0703a" stroke="none" stroke-width="0.6"/>
<circle cx="53.46" cy="358.84" r="1.10" fill="#6e4422" stroke="none" stroke-width="0.6"/>
<circle cx="54.30" cy="356.27" r="1.10" fill="#6e4422" stroke="none" stroke-width="0.6"/>
<circle cx="57.84" cy="359.96" r="1.10" fill="#8c5c30" stroke="none" stroke-width="0.6"/>
<circle cx="63.19" cy="357.83" r="1.10" fill="#7a4e28" stroke="none" stroke-width="0.6"/>
<circle cx="68.56" cy="359.41" r="1.10" fill="#6e4422" stroke="none" stroke-width="0.6"/>
<circle cx="61.86" cy="352.31" r="1.10" fill="#7a4e28" stroke="none" stroke-width="0.6"/>
<circle cx="66.64" cy="360.45" r="1.10" fill="#8c5c30" stroke="none" stroke-width="0.6"/>
<circle cx="64.37" cy="353.70" r="1.10" fill="#a0703a" stroke="none" stroke-width="0.6"/>
<circle cx="53.01" cy="359.10" r="1.10" fill="#6e4422" stroke="none" stroke-width="0.6"/>
<circle cx="56.96" cy="357.20" r="1.10" fill="#6e4422" stroke="none" stroke-width="0.6"/>
<circle cx="66.56" cy="357.08" r="1.10" fill="#7a4e28" stroke="none" stroke-width="0.6"/>
<circle cx="59.51" cy="353.86" r="1.10" fill="#8c5c30" stroke="none" stroke-width="0.6"/>
<circle cx="66.56" cy="357.23" r="1.10" fill="#8c5c30" stroke="none" stroke-width="0.6"/>
<circle cx="63.19" cy="358.04" r="1.10" fill="#6e4422" stroke="none" stroke-width="0.6"/>
<circle cx="57.98" cy="353.66" r="1.10" fill="#8c5c30" stroke="none" stroke-width="0.6"/>
<circle cx="66.23" cy="358.97" r="1.10" fill="#6e4422" stroke="none" stroke-width="0.6"/>
<circle cx="62.59" cy="358.70" r="1.10" fill="#6e4422" stroke="none" stroke-width="0.6"/>
<circle cx="65.26" cy="358.89" r="1.10" fill="#6e4422" stroke="none" stroke-width="0.6"/>
<circle cx="54.21" cy="359.38" r="1.10" fill="#a0703a" stroke="none" stroke-width="0.6"/>
<circle cx="60.37" cy="357.41" r="1.10" fill="#a0703a" stroke="none" stroke-width="0.6"/>
<circle cx="53.14" cy="359.82" r="1.10" fill="#7a4e28" stroke="none" stroke-width="0.6"/>
<circle cx="66.13" cy="355.75" r="1.10" fill="#6e4422" stroke="none" stroke-width="0.6"/>
<circle cx="68.34" cy="359.00" r="1.10" fill="#6e4422" stroke="none" stroke-width="0.6"/>
<circle cx="68.94" cy="360.26" r="1.10" fill="#a0703a" stroke="none" stroke-width="0.6"/>
<circle cx="58.65" cy="358.00" r="1.10" fill="#6e4422" stroke="none" stroke-width="0.6"/>
<circle cx="52.07" cy="360.13" r="1.10" fill="#6e4422" stroke="none" stroke-width="0.6"/>
<circle cx="68.88" cy="359.60" r="1.10" fill="#a0703a" stroke="none" stroke-width="0.6"/>
<circle cx="65.01" cy="355.47" r="1.10" fill="#a0703a" stroke="none" stroke-width="0.6"/>
<circle cx="64.09" cy="358.12" r="1.10" fill="#6e4422" stroke="none" stroke-width="0.6"/>
<circle cx="66.68" cy="357.88" r="1.10" fill="#6e4422" stroke="none" stroke-width="0.6"/>
<circle cx="67.51" cy="359.38" r="1.10" fill="#7a4e28" stroke="none" stroke-width="0.6"/>
<circle cx="69.23" cy="359.92" r="1.10" fill="#7a4e28" stroke="none" stroke-width="0.6"/>
<text x="11.40" y="369.40" font-size="6.94" text-anchor="start" fill="#231f20">1. Fast</text>
<text x="48.70" y="369.40" font-size="7.06" text-anchor="start" fill="#231f20">2. Fed</text>
<line x1="80.20" y1="377.10" x2="90.50" y2="377.10" stroke="#000" stroke-width="0.9"/>
<polygon points="89.50,375.40 93.20,377.10 89.50,378.80" fill="#000"/>
<text x="95.80" y="379.60" font-size="7.47" text-anchor="start" fill="#231f20">MS</text>
<g transform="rotate(-13 30 381.2)">
<line x1="10.50" y1="381.20" x2="19.00" y2="381.20" stroke="#9aa8b0" stroke-width="0.4"/>
<rect x="19.00" y="380.10" width="13.00" height="2.20" fill="#dceaf2" stroke="#8a9aa8" stroke-width="0.4"/>
<rect x="19.50" y="380.50" width="6.00" height="1.40" fill="#4ab0a0" stroke="none" stroke-width="0.8"/>
<rect x="32.00" y="380.60" width="17.00" height="1.20" fill="#e8ecef" stroke="#9aa8b0" stroke-width="0.35"/>
<line x1="49.50" y1="379.30" x2="49.50" y2="383.10" stroke="#9aa8b0" stroke-width="0.7"/>
</g>
<ellipse cx="60.2" cy="387.3" rx="1.0" ry="0.4" fill="#d8a0a0"/>
<ellipse cx="70.0" cy="387.2" rx="1.0" ry="0.4" fill="#d8a0a0"/>
<path d="M54.1,385.1 C53.5,380.9 57.8,376.9 62.6,376.7 C66.9,376.6 70.0,377.8 71.8,379.7 C73.0,380.9 74.8,383.3 76.2,385.4 C75.5,386.7 72.4,387.0 70.0,387.1 L60.2,387.2 C57.1,387.2 54.7,386.4 54.1,385.1 Z" fill="#4e4848" stroke="none" stroke-width="0.8"/>
<circle cx="71.79" cy="378.61" r="0.98" fill="#3e3838" stroke="none" stroke-width="0.6"/>
<ellipse cx="68.9" cy="379.9" rx="1.4" ry="1.6" fill="#c88e8e"/>
<circle cx="73.68" cy="383.43" r="0.37" fill="#111" stroke="none" stroke-width="0.6"/>
<path d="M54.4,384.5 C48,385 42,384.5 38.5,386 C36.5,387 36.3,388.5 36.4,390" fill="none" stroke="#c07070" stroke-width="0.5"/>
<text x="11.40" y="396.40" font-size="7.72" text-anchor="start" fill="#231f20">3. Leptin</text>
<text x="17.00" y="404.10" font-size="8.01" text-anchor="start" fill="#231f20">injection</text>
<text x="49.2" y="396.7" font-size="7.75" fill="#231f20">4. <tspan font-style="italic">ob</tspan>/<tspan font-style="italic">ob</tspan> mice</text>
<line x1="34.20" y1="441.50" x2="34.20" y2="511.00" stroke="#6d6e71" stroke-width="0.7"/>
<line x1="34.20" y1="511.00" x2="103.80" y2="511.00" stroke="#6d6e71" stroke-width="0.7"/>
<line x1="32.20" y1="511.00" x2="34.20" y2="511.00" stroke="#6d6e71" stroke-width="0.7"/>
<text x="29.50" y="513.80" font-size="7.8" text-anchor="end" fill="#231f20">0</text>
<line x1="32.20" y1="493.62" x2="34.20" y2="493.62" stroke="#6d6e71" stroke-width="0.7"/>
<text x="29.50" y="496.43" font-size="7.8" text-anchor="end" fill="#231f20">100</text>
<line x1="32.20" y1="476.25" x2="34.20" y2="476.25" stroke="#6d6e71" stroke-width="0.7"/>
<text x="29.50" y="479.05" font-size="7.8" text-anchor="end" fill="#231f20">200</text>
<line x1="32.20" y1="458.88" x2="34.20" y2="458.88" stroke="#6d6e71" stroke-width="0.7"/>
<text x="29.50" y="461.68" font-size="7.8" text-anchor="end" fill="#231f20">300</text>
<line x1="32.20" y1="441.50" x2="34.20" y2="441.50" stroke="#6d6e71" stroke-width="0.7"/>
<text x="29.50" y="444.30" font-size="7.8" text-anchor="end" fill="#231f20">400</text>
<rect x="40.90" y="500.57" width="11.00" height="10.43" fill="#b0b4f0" stroke="#6a6ec0" stroke-width="0.6"/>
<circle cx="46.11" cy="497.97" r="1.80" fill="none" stroke="#333" stroke-width="0.55"/>
<circle cx="49.05" cy="498.84" r="1.80" fill="none" stroke="#333" stroke-width="0.55"/>
<circle cx="43.12" cy="499.71" r="1.80" fill="none" stroke="#333" stroke-width="0.55"/>
<circle cx="44.88" cy="500.57" r="1.80" fill="none" stroke="#333" stroke-width="0.55"/>
<circle cx="49.63" cy="501.44" r="1.80" fill="none" stroke="#333" stroke-width="0.55"/>
<circle cx="47.55" cy="504.05" r="1.80" fill="none" stroke="#333" stroke-width="0.55"/>
<circle cx="43.80" cy="507.52" r="1.80" fill="none" stroke="#333" stroke-width="0.55"/>
<line x1="46.40" y1="498.49" x2="46.40" y2="502.66" stroke="#222" stroke-width="0.6"/>
<line x1="43.90" y1="498.49" x2="48.90" y2="498.49" stroke="#222" stroke-width="0.6"/>
<rect x="57.00" y="492.24" width="10.40" height="18.76" fill="#f4a0a0" stroke="#b05a5a" stroke-width="0.6"/>
<circle cx="59.00" cy="479.73" r="1.80" fill="none" stroke="#333" stroke-width="0.55"/>
<circle cx="62.83" cy="485.81" r="1.80" fill="none" stroke="#333" stroke-width="0.55"/>
<circle cx="58.84" cy="488.41" r="1.80" fill="none" stroke="#333" stroke-width="0.55"/>
<circle cx="62.30" cy="491.89" r="1.80" fill="none" stroke="#333" stroke-width="0.55"/>
<circle cx="65.54" cy="493.62" r="1.80" fill="none" stroke="#333" stroke-width="0.55"/>
<circle cx="60.73" cy="495.36" r="1.80" fill="none" stroke="#333" stroke-width="0.55"/>
<circle cx="65.52" cy="497.97" r="1.80" fill="none" stroke="#333" stroke-width="0.55"/>
<circle cx="63.15" cy="500.57" r="1.80" fill="none" stroke="#333" stroke-width="0.55"/>
<circle cx="64.89" cy="501.44" r="1.80" fill="none" stroke="#333" stroke-width="0.55"/>
<line x1="62.20" y1="489.45" x2="62.20" y2="495.01" stroke="#222" stroke-width="0.6"/>
<line x1="59.70" y1="489.45" x2="64.70" y2="489.45" stroke="#222" stroke-width="0.6"/>
<rect x="73.60" y="477.99" width="10.30" height="33.01" fill="#e83a3a" stroke="#8a1a1a" stroke-width="0.6"/>
<circle cx="77.21" cy="450.19" r="1.80" fill="none" stroke="#333" stroke-width="0.55"/>
<circle cx="78.76" cy="471.91" r="1.80" fill="none" stroke="#333" stroke-width="0.55"/>
<circle cx="79.20" cy="476.25" r="1.80" fill="none" stroke="#333" stroke-width="0.55"/>
<circle cx="78.48" cy="480.59" r="1.80" fill="none" stroke="#333" stroke-width="0.55"/>
<circle cx="79.36" cy="486.68" r="1.80" fill="none" stroke="#333" stroke-width="0.55"/>
<circle cx="78.66" cy="493.62" r="1.80" fill="none" stroke="#333" stroke-width="0.55"/>
<line x1="78.75" y1="470.17" x2="78.75" y2="485.81" stroke="#222" stroke-width="0.6"/>
<line x1="76.25" y1="470.17" x2="81.25" y2="470.17" stroke="#222" stroke-width="0.6"/>
<rect x="89.00" y="497.10" width="10.40" height="13.90" fill="#6f7de8" stroke="#3a46a0" stroke-width="0.6"/>
<circle cx="91.27" cy="489.28" r="1.80" fill="none" stroke="#333" stroke-width="0.55"/>
<circle cx="94.95" cy="490.15" r="1.80" fill="none" stroke="#333" stroke-width="0.55"/>
<circle cx="97.68" cy="491.89" r="1.80" fill="none" stroke="#333" stroke-width="0.55"/>
<circle cx="91.68" cy="495.36" r="1.80" fill="none" stroke="#333" stroke-width="0.55"/>
<circle cx="96.67" cy="500.57" r="1.80" fill="none" stroke="#333" stroke-width="0.55"/>
<circle cx="91.75" cy="504.05" r="1.80" fill="none" stroke="#333" stroke-width="0.55"/>
<circle cx="93.61" cy="507.52" r="1.80" fill="none" stroke="#333" stroke-width="0.55"/>
<line x1="94.20" y1="492.76" x2="94.20" y2="501.44" stroke="#222" stroke-width="0.6"/>
<line x1="91.70" y1="492.76" x2="96.70" y2="492.76" stroke="#222" stroke-width="0.6"/>
<text transform="translate(8.6,506) rotate(-90)" font-size="8.75" fill="#231f20">L-LEN intensity</text>
<text transform="translate(49,521) rotate(-45)" font-size="8.2" text-anchor="end" fill="#231f20">Fast</text>
<text transform="translate(64.5,521) rotate(-45)" font-size="8.2" text-anchor="end" fill="#231f20">Fed</text>
<text transform="translate(81,521) rotate(-45)" font-size="8.2" text-anchor="end" fill="#231f20">Lep.</text>
<text transform="translate(96.5,521) rotate(-45)" font-size="8.2" text-anchor="end" fill="#231f20">Ob</text>
<line x1="45.70" y1="533.80" x2="45.70" y2="541.30" stroke="#4a88e8" stroke-width="1.0"/>
<polygon points="43.90,540.80 47.50,540.80 45.70,543.80" fill="#4a88e8"/>
<line x1="78.40" y1="543.80" x2="78.40" y2="536.30" stroke="#e84a6a" stroke-width="1.0"/>
<polygon points="76.60,536.80 80.20,536.80 78.40,533.80" fill="#e84a6a"/>
<line x1="94.50" y1="533.80" x2="94.50" y2="541.30" stroke="#4a88e8" stroke-width="1.0"/>
<polygon points="92.70,540.80 96.30,540.80 94.50,543.80" fill="#4a88e8"/>
<line x1="57.50" y1="538.20" x2="68.00" y2="538.20" stroke="#000" stroke-width="0.9"/>
<polygon points="55.20,538.20 58.00,536.50 58.00,539.90" fill="#000"/>
<polygon points="70.20,538.20 67.40,536.50 67.40,539.90" fill="#000"/>
<text x="105.60" y="333.00" font-size="12.5" text-anchor="start" fill="#000" font-weight="bold">g</text>
<rect x="117.00" y="340.20" width="103.70" height="74.70" fill="#efefef" stroke="none" stroke-width="0.8"/>
<text x="120.50" y="354.50" font-size="8.68" text-anchor="start" fill="#231f20">WT</text>
<text x="178.00" y="362.40" font-size="6.57" text-anchor="start" fill="#231f20">PC1/PC3</text>
<text x="123.1" y="372.9" font-size="7.95"><tspan fill="#231f20">KR</tspan><tspan fill="#5a86d0">LENPSPQAPA</tspan><tspan fill="#231f20">RRLLPP</tspan></text>
<text x="123.1" y="403.6" font-size="7.95"><tspan fill="#231f20">KR</tspan><tspan fill="#5a86d0">LENPSPQAPA</tspan><tspan fill="#e82020">AA</tspan><tspan fill="#231f20">LLPP</tspan></text>
<text x="123.7" y="388.7" font-size="8.4" fill="#231f20"><tspan font-style="italic">LL</tspan>-KO <tspan fill="#9a3a3a">(RR→AA)</tspan></text>
<line x1="121.90" y1="374.40" x2="133.60" y2="374.40" stroke="#777" stroke-width="1.1"/>
<line x1="121.90" y1="405.20" x2="133.60" y2="405.20" stroke="#777" stroke-width="1.1"/>
<line x1="188.00" y1="374.40" x2="200.70" y2="374.40" stroke="#777" stroke-width="1.1"/>
<line x1="133.60" y1="361.00" x2="133.60" y2="412.00" stroke="#e88a8a" stroke-width="0.5" stroke-dasharray="1.2 1"/>
<line x1="187.60" y1="361.00" x2="187.60" y2="375.50" stroke="#e88a8a" stroke-width="0.5" stroke-dasharray="1.2 1"/>
<line x1="133.60" y1="395.00" x2="133.60" y2="412.00" stroke="#e88a8a" stroke-width="0.5" stroke-dasharray="1.2 1"/>
<line x1="143.70" y1="440.00" x2="143.70" y2="510.70" stroke="#6d6e71" stroke-width="0.7"/>
<line x1="143.70" y1="510.70" x2="212.60" y2="510.70" stroke="#6d6e71" stroke-width="0.7"/>
<line x1="141.70" y1="502.30" x2="143.70" y2="502.30" stroke="#6d6e71" stroke-width="0.7"/>
<text x="139.50" y="505.10" font-size="7.8" text-anchor="end" fill="#231f20">4</text>
<line x1="151.00" y1="510.70" x2="151.00" y2="512.70" stroke="#6d6e71" stroke-width="0.7"/>
<text x="151.00" y="522.40" font-size="7.8" text-anchor="middle" fill="#231f20">4</text>
<line x1="141.70" y1="484.70" x2="143.70" y2="484.70" stroke="#6d6e71" stroke-width="0.7"/>
<text x="139.50" y="487.50" font-size="7.8" text-anchor="end" fill="#231f20">6</text>
<line x1="168.66" y1="510.70" x2="168.66" y2="512.70" stroke="#6d6e71" stroke-width="0.7"/>
<text x="168.66" y="522.40" font-size="7.8" text-anchor="middle" fill="#231f20">6</text>
<line x1="141.70" y1="467.10" x2="143.70" y2="467.10" stroke="#6d6e71" stroke-width="0.7"/>
<text x="139.50" y="469.90" font-size="7.8" text-anchor="end" fill="#231f20">8</text>
<line x1="186.32" y1="510.70" x2="186.32" y2="512.70" stroke="#6d6e71" stroke-width="0.7"/>
<text x="186.32" y="522.40" font-size="7.8" text-anchor="middle" fill="#231f20">8</text>
<line x1="141.70" y1="449.50" x2="143.70" y2="449.50" stroke="#6d6e71" stroke-width="0.7"/>
<text x="139.50" y="452.30" font-size="7.8" text-anchor="end" fill="#231f20">10</text>
<line x1="203.98" y1="510.70" x2="203.98" y2="512.70" stroke="#6d6e71" stroke-width="0.7"/>
<text x="203.98" y="522.40" font-size="7.8" text-anchor="middle" fill="#231f20">10</text>
<g fill="#c4c4c4">
<rect x="163.5" y="495.9" width="1.1" height="1.1"/>
<rect x="179.0" y="489.7" width="1.1" height="1.1"/>
<rect x="172.2" y="494.7" width="1.1" height="1.1"/>
<rect x="182.6" y="474.8" width="1.1" height="1.1"/>
<rect x="184.8" y="476.6" width="1.1" height="1.1"/>
<rect x="176.7" y="481.7" width="1.1" height="1.1"/>
<rect x="167.2" y="486.8" width="1.1" height="1.1"/>
<rect x="162.9" y="492.5" width="1.1" height="1.1"/>
<rect x="179.3" y="478.1" width="1.1" height="1.1"/>
<rect x="170.0" y="474.8" width="1.1" height="1.1"/>
<rect x="173.9" y="485.3" width="1.1" height="1.1"/>
<rect x="174.7" y="484.3" width="1.1" height="1.1"/>
<rect x="170.2" y="487.0" width="1.1" height="1.1"/>
<rect x="190.4" y="469.8" width="1.1" height="1.1"/>
<rect x="174.9" y="478.5" width="1.1" height="1.1"/>
<rect x="190.3" y="471.1" width="1.1" height="1.1"/>
<rect x="168.2" y="474.8" width="1.1" height="1.1"/>
<rect x="161.2" y="493.9" width="1.1" height="1.1"/>
<rect x="179.0" y="467.5" width="1.1" height="1.1"/>
<rect x="165.4" y="500.6" width="1.1" height="1.1"/>
<rect x="179.0" y="481.1" width="1.1" height="1.1"/>
<rect x="170.2" y="483.1" width="1.1" height="1.1"/>
<rect x="175.3" y="480.0" width="1.1" height="1.1"/>
<rect x="169.8" y="479.3" width="1.1" height="1.1"/>
<rect x="186.0" y="473.1" width="1.1" height="1.1"/>
<rect x="169.6" y="482.2" width="1.1" height="1.1"/>
<rect x="177.4" y="484.8" width="1.1" height="1.1"/>
<rect x="169.5" y="480.7" width="1.1" height="1.1"/>
<rect x="172.6" y="485.0" width="1.1" height="1.1"/>
<rect x="175.2" y="481.6" width="1.1" height="1.1"/>
<rect x="173.4" y="492.2" width="1.1" height="1.1"/>
<rect x="188.1" y="470.7" width="1.1" height="1.1"/>
<rect x="166.1" y="483.7" width="1.1" height="1.1"/>
<rect x="176.0" y="480.8" width="1.1" height="1.1"/>
<rect x="182.2" y="465.2" width="1.1" height="1.1"/>
<rect x="178.1" y="471.6" width="1.1" height="1.1"/>
<rect x="191.5" y="474.1" width="1.1" height="1.1"/>
<rect x="169.0" y="482.4" width="1.1" height="1.1"/>
<rect x="159.1" y="495.0" width="1.1" height="1.1"/>
<rect x="184.3" y="469.6" width="1.1" height="1.1"/>
<rect x="178.3" y="488.3" width="1.1" height="1.1"/>
<rect x="193.1" y="465.2" width="1.1" height="1.1"/>
<rect x="179.8" y="475.6" width="1.1" height="1.1"/>
<rect x="159.0" y="500.7" width="1.1" height="1.1"/>
<rect x="163.2" y="481.3" width="1.1" height="1.1"/>
<rect x="166.4" y="489.3" width="1.1" height="1.1"/>
<rect x="171.3" y="481.7" width="1.1" height="1.1"/>
<rect x="177.6" y="478.4" width="1.1" height="1.1"/>
<rect x="162.8" y="506.0" width="1.1" height="1.1"/>
<rect x="174.8" y="480.5" width="1.1" height="1.1"/>
<rect x="183.7" y="475.5" width="1.1" height="1.1"/>
<rect x="168.3" y="484.7" width="1.1" height="1.1"/>
<rect x="160.4" y="497.8" width="1.1" height="1.1"/>
<rect x="165.0" y="487.8" width="1.1" height="1.1"/>
<rect x="190.9" y="465.8" width="1.1" height="1.1"/>
<rect x="183.0" y="474.4" width="1.1" height="1.1"/>
<rect x="175.7" y="483.2" width="1.1" height="1.1"/>
<rect x="171.0" y="496.4" width="1.1" height="1.1"/>
<rect x="163.3" y="496.7" width="1.1" height="1.1"/>
<rect x="180.4" y="474.3" width="1.1" height="1.1"/>
<rect x="183.0" y="468.0" width="1.1" height="1.1"/>
<rect x="170.8" y="479.7" width="1.1" height="1.1"/>
<rect x="189.8" y="470.4" width="1.1" height="1.1"/>
<rect x="182.5" y="476.7" width="1.1" height="1.1"/>
<rect x="159.9" y="492.5" width="1.1" height="1.1"/>
<rect x="166.5" y="487.5" width="1.1" height="1.1"/>
<rect x="169.5" y="484.2" width="1.1" height="1.1"/>
<rect x="155.5" y="486.3" width="1.1" height="1.1"/>
<rect x="184.8" y="475.9" width="1.1" height="1.1"/>
<rect x="165.8" y="488.6" width="1.1" height="1.1"/>
<rect x="179.1" y="476.5" width="1.1" height="1.1"/>
<rect x="176.8" y="489.8" width="1.1" height="1.1"/>
<rect x="163.9" y="483.5" width="1.1" height="1.1"/>
<rect x="175.4" y="488.7" width="1.1" height="1.1"/>
<rect x="166.1" y="495.4" width="1.1" height="1.1"/>
<rect x="164.8" y="483.6" width="1.1" height="1.1"/>
<rect x="171.5" y="478.8" width="1.1" height="1.1"/>
<rect x="175.0" y="489.0" width="1.1" height="1.1"/>
<rect x="167.9" y="475.8" width="1.1" height="1.1"/>
<rect x="166.9" y="492.9" width="1.1" height="1.1"/>
<rect x="183.9" y="474.4" width="1.1" height="1.1"/>
<rect x="173.4" y="475.6" width="1.1" height="1.1"/>
<rect x="158.4" y="492.2" width="1.1" height="1.1"/>
<rect x="164.4" y="496.6" width="1.1" height="1.1"/>
<rect x="166.5" y="482.4" width="1.1" height="1.1"/>
<rect x="172.2" y="492.8" width="1.1" height="1.1"/>
<rect x="163.9" y="482.5" width="1.1" height="1.1"/>
<rect x="182.2" y="481.6" width="1.1" height="1.1"/>
<rect x="194.2" y="468.9" width="1.1" height="1.1"/>
<rect x="163.2" y="491.3" width="1.1" height="1.1"/>
<rect x="181.4" y="468.8" width="1.1" height="1.1"/>
<rect x="182.2" y="478.3" width="1.1" height="1.1"/>
<rect x="168.6" y="493.7" width="1.1" height="1.1"/>
<rect x="172.8" y="486.3" width="1.1" height="1.1"/>
<rect x="175.5" y="487.5" width="1.1" height="1.1"/>
<rect x="169.0" y="490.6" width="1.1" height="1.1"/>
<rect x="163.1" y="496.5" width="1.1" height="1.1"/>
<rect x="164.7" y="495.3" width="1.1" height="1.1"/>
<rect x="178.3" y="478.6" width="1.1" height="1.1"/>
<rect x="162.1" y="488.9" width="1.1" height="1.1"/>
<rect x="175.9" y="473.7" width="1.1" height="1.1"/>
<rect x="171.7" y="485.1" width="1.1" height="1.1"/>
<rect x="167.5" y="486.7" width="1.1" height="1.1"/>
<rect x="177.6" y="478.8" width="1.1" height="1.1"/>
<rect x="171.2" y="481.7" width="1.1" height="1.1"/>
<rect x="174.2" y="481.0" width="1.1" height="1.1"/>
<rect x="165.4" y="487.9" width="1.1" height="1.1"/>
<rect x="164.9" y="493.5" width="1.1" height="1.1"/>
<rect x="174.8" y="471.4" width="1.1" height="1.1"/>
<rect x="182.0" y="476.3" width="1.1" height="1.1"/>
<rect x="171.9" y="479.1" width="1.1" height="1.1"/>
<rect x="185.3" y="467.8" width="1.1" height="1.1"/>
<rect x="171.8" y="483.1" width="1.1" height="1.1"/>
<rect x="170.6" y="486.4" width="1.1" height="1.1"/>
<rect x="166.1" y="489.6" width="1.1" height="1.1"/>
<rect x="154.9" y="502.8" width="1.1" height="1.1"/>
<rect x="177.1" y="484.6" width="1.1" height="1.1"/>
<rect x="178.0" y="485.7" width="1.1" height="1.1"/>
<rect x="170.2" y="483.3" width="1.1" height="1.1"/>
<rect x="164.5" y="493.1" width="1.1" height="1.1"/>
<rect x="194.6" y="470.1" width="1.1" height="1.1"/>
<rect x="167.4" y="490.3" width="1.1" height="1.1"/>
<rect x="173.7" y="482.7" width="1.1" height="1.1"/>
<rect x="181.8" y="472.5" width="1.1" height="1.1"/>
<rect x="169.9" y="487.2" width="1.1" height="1.1"/>
<rect x="161.3" y="499.4" width="1.1" height="1.1"/>
<rect x="167.1" y="484.0" width="1.1" height="1.1"/>
<rect x="174.4" y="478.1" width="1.1" height="1.1"/>
<rect x="181.5" y="477.5" width="1.1" height="1.1"/>
<rect x="191.4" y="471.8" width="1.1" height="1.1"/>
<rect x="168.0" y="489.0" width="1.1" height="1.1"/>
<rect x="183.2" y="476.1" width="1.1" height="1.1"/>
<rect x="167.1" y="485.5" width="1.1" height="1.1"/>
<rect x="183.1" y="476.0" width="1.1" height="1.1"/>
<rect x="171.2" y="479.1" width="1.1" height="1.1"/>
<rect x="181.8" y="471.8" width="1.1" height="1.1"/>
<rect x="166.9" y="486.4" width="1.1" height="1.1"/>
<rect x="176.5" y="489.4" width="1.1" height="1.1"/>
<rect x="183.7" y="474.5" width="1.1" height="1.1"/>
<rect x="170.5" y="473.8" width="1.1" height="1.1"/>
<rect x="174.7" y="485.4" width="1.1" height="1.1"/>
<rect x="172.9" y="480.4" width="1.1" height="1.1"/>
<rect x="180.4" y="477.8" width="1.1" height="1.1"/>
<rect x="166.0" y="491.9" width="1.1" height="1.1"/>
<rect x="166.4" y="493.3" width="1.1" height="1.1"/>
<rect x="173.2" y="485.4" width="1.1" height="1.1"/>
<rect x="173.9" y="486.6" width="1.1" height="1.1"/>
<rect x="166.0" y="489.4" width="1.1" height="1.1"/>
<rect x="170.4" y="479.4" width="1.1" height="1.1"/>
<rect x="165.7" y="487.7" width="1.1" height="1.1"/>
<rect x="173.1" y="489.6" width="1.1" height="1.1"/>
<rect x="179.6" y="477.3" width="1.1" height="1.1"/>
<rect x="155.4" y="493.5" width="1.1" height="1.1"/>
<rect x="181.4" y="480.7" width="1.1" height="1.1"/>
<rect x="187.9" y="471.1" width="1.1" height="1.1"/>
<rect x="163.5" y="487.5" width="1.1" height="1.1"/>
<rect x="170.3" y="491.8" width="1.1" height="1.1"/>
<rect x="155.0" y="495.5" width="1.1" height="1.1"/>
<rect x="167.1" y="484.4" width="1.1" height="1.1"/>
<rect x="176.7" y="482.9" width="1.1" height="1.1"/>
<rect x="168.9" y="477.5" width="1.1" height="1.1"/>
<rect x="188.0" y="468.0" width="1.1" height="1.1"/>
<rect x="170.4" y="490.0" width="1.1" height="1.1"/>
<rect x="170.1" y="477.1" width="1.1" height="1.1"/>
<rect x="177.3" y="481.3" width="1.1" height="1.1"/>
<rect x="162.9" y="490.0" width="1.1" height="1.1"/>
<rect x="165.9" y="488.5" width="1.1" height="1.1"/>
<rect x="179.8" y="472.7" width="1.1" height="1.1"/>
<rect x="174.6" y="483.6" width="1.1" height="1.1"/>
<rect x="175.4" y="472.5" width="1.1" height="1.1"/>
<rect x="176.6" y="487.3" width="1.1" height="1.1"/>
<rect x="186.7" y="471.5" width="1.1" height="1.1"/>
<rect x="203.1" y="462.6" width="1.1" height="1.1"/>
<rect x="172.6" y="484.9" width="1.1" height="1.1"/>
<rect x="176.6" y="483.2" width="1.1" height="1.1"/>
<rect x="160.8" y="501.9" width="1.1" height="1.1"/>
<rect x="172.4" y="486.2" width="1.1" height="1.1"/>
<rect x="168.5" y="476.1" width="1.1" height="1.1"/>
<rect x="180.2" y="472.3" width="1.1" height="1.1"/>
<rect x="169.1" y="484.6" width="1.1" height="1.1"/>
<rect x="171.6" y="485.2" width="1.1" height="1.1"/>
<rect x="179.8" y="475.0" width="1.1" height="1.1"/>
<rect x="176.0" y="480.1" width="1.1" height="1.1"/>
<rect x="161.1" y="495.8" width="1.1" height="1.1"/>
<rect x="176.7" y="482.2" width="1.1" height="1.1"/>
<rect x="166.8" y="486.1" width="1.1" height="1.1"/>
<rect x="165.5" y="492.1" width="1.1" height="1.1"/>
<rect x="180.9" y="478.9" width="1.1" height="1.1"/>
<rect x="185.6" y="471.0" width="1.1" height="1.1"/>
<rect x="180.3" y="472.0" width="1.1" height="1.1"/>
<rect x="155.0" y="497.2" width="1.1" height="1.1"/>
<rect x="162.4" y="493.4" width="1.1" height="1.1"/>
<rect x="172.5" y="477.4" width="1.1" height="1.1"/>
<rect x="173.0" y="475.0" width="1.1" height="1.1"/>
<rect x="168.9" y="486.5" width="1.1" height="1.1"/>
<rect x="174.2" y="477.6" width="1.1" height="1.1"/>
<rect x="173.0" y="486.2" width="1.1" height="1.1"/>
<rect x="170.6" y="491.8" width="1.1" height="1.1"/>
<rect x="184.1" y="471.0" width="1.1" height="1.1"/>
<rect x="177.0" y="478.7" width="1.1" height="1.1"/>
<rect x="168.3" y="488.7" width="1.1" height="1.1"/>
<rect x="180.3" y="481.5" width="1.1" height="1.1"/>
<rect x="166.8" y="480.1" width="1.1" height="1.1"/>
<rect x="186.7" y="471.4" width="1.1" height="1.1"/>
<rect x="177.9" y="478.5" width="1.1" height="1.1"/>
<rect x="185.5" y="475.8" width="1.1" height="1.1"/>
<rect x="174.1" y="479.9" width="1.1" height="1.1"/>
<rect x="185.6" y="474.8" width="1.1" height="1.1"/>
<rect x="175.4" y="483.7" width="1.1" height="1.1"/>
<rect x="167.9" y="490.2" width="1.1" height="1.1"/>
<rect x="174.1" y="478.0" width="1.1" height="1.1"/>
<rect x="167.5" y="490.2" width="1.1" height="1.1"/>
<rect x="170.0" y="483.7" width="1.1" height="1.1"/>
<rect x="179.3" y="484.5" width="1.1" height="1.1"/>
<rect x="176.4" y="485.4" width="1.1" height="1.1"/>
<rect x="179.4" y="482.9" width="1.1" height="1.1"/>
<rect x="164.3" y="493.2" width="1.1" height="1.1"/>
<rect x="172.9" y="488.1" width="1.1" height="1.1"/>
<rect x="175.2" y="480.8" width="1.1" height="1.1"/>
<rect x="174.1" y="481.0" width="1.1" height="1.1"/>
<rect x="180.8" y="480.8" width="1.1" height="1.1"/>
<rect x="173.4" y="483.0" width="1.1" height="1.1"/>
<rect x="156.1" y="494.1" width="1.1" height="1.1"/>
<rect x="166.9" y="491.2" width="1.1" height="1.1"/>
<rect x="169.7" y="485.2" width="1.1" height="1.1"/>
<rect x="176.2" y="478.4" width="1.1" height="1.1"/>
<rect x="167.6" y="483.9" width="1.1" height="1.1"/>
<rect x="176.9" y="482.1" width="1.1" height="1.1"/>
<rect x="173.2" y="479.1" width="1.1" height="1.1"/>
<rect x="177.0" y="476.7" width="1.1" height="1.1"/>
<rect x="174.3" y="476.6" width="1.1" height="1.1"/>
<rect x="192.1" y="466.5" width="1.1" height="1.1"/>
<rect x="160.0" y="484.7" width="1.1" height="1.1"/>
<rect x="168.6" y="493.2" width="1.1" height="1.1"/>
<rect x="153.5" y="495.9" width="1.1" height="1.1"/>
<rect x="182.6" y="471.0" width="1.1" height="1.1"/>
<rect x="170.2" y="478.3" width="1.1" height="1.1"/>
<rect x="172.8" y="486.2" width="1.1" height="1.1"/>
<rect x="174.0" y="481.4" width="1.1" height="1.1"/>
<rect x="173.8" y="480.6" width="1.1" height="1.1"/>
<rect x="155.0" y="489.2" width="1.1" height="1.1"/>
<rect x="168.6" y="483.3" width="1.1" height="1.1"/>
<rect x="166.7" y="487.1" width="1.1" height="1.1"/>
<rect x="171.9" y="491.6" width="1.1" height="1.1"/>
<rect x="176.6" y="477.3" width="1.1" height="1.1"/>
<rect x="164.0" y="500.1" width="1.1" height="1.1"/>
<rect x="168.0" y="491.0" width="1.1" height="1.1"/>
<rect x="174.3" y="482.2" width="1.1" height="1.1"/>
<rect x="186.9" y="469.4" width="1.1" height="1.1"/>
<rect x="171.3" y="483.7" width="1.1" height="1.1"/>
<rect x="149.2" y="505.5" width="1.1" height="1.1"/>
<rect x="165.7" y="489.2" width="1.1" height="1.1"/>
<rect x="176.1" y="479.8" width="1.1" height="1.1"/>
<rect x="181.3" y="480.2" width="1.1" height="1.1"/>
<rect x="176.0" y="481.5" width="1.1" height="1.1"/>
<rect x="173.5" y="481.2" width="1.1" height="1.1"/>
<rect x="171.0" y="483.6" width="1.1" height="1.1"/>
<rect x="173.1" y="478.1" width="1.1" height="1.1"/>
<rect x="172.5" y="482.1" width="1.1" height="1.1"/>
<rect x="195.2" y="463.3" width="1.1" height="1.1"/>
<rect x="177.7" y="474.4" width="1.1" height="1.1"/>
<rect x="165.0" y="485.8" width="1.1" height="1.1"/>
<rect x="179.7" y="475.9" width="1.1" height="1.1"/>
<rect x="181.6" y="472.8" width="1.1" height="1.1"/>
<rect x="183.4" y="478.4" width="1.1" height="1.1"/>
<rect x="177.0" y="482.7" width="1.1" height="1.1"/>
<rect x="183.8" y="474.3" width="1.1" height="1.1"/>
<rect x="162.5" y="490.5" width="1.1" height="1.1"/>
<rect x="165.0" y="484.4" width="1.1" height="1.1"/>
<rect x="170.6" y="495.5" width="1.1" height="1.1"/>
<rect x="170.2" y="480.3" width="1.1" height="1.1"/>
<rect x="176.2" y="483.8" width="1.1" height="1.1"/>
<rect x="178.8" y="475.9" width="1.1" height="1.1"/>
<rect x="185.7" y="469.2" width="1.1" height="1.1"/>
<rect x="176.5" y="484.3" width="1.1" height="1.1"/>
<rect x="175.8" y="479.6" width="1.1" height="1.1"/>
<rect x="173.5" y="480.7" width="1.1" height="1.1"/>
<rect x="163.5" y="487.6" width="1.1" height="1.1"/>
<rect x="173.5" y="481.0" width="1.1" height="1.1"/>
<rect x="172.6" y="484.9" width="1.1" height="1.1"/>
<rect x="175.5" y="477.4" width="1.1" height="1.1"/>
<rect x="170.7" y="483.3" width="1.1" height="1.1"/>
<rect x="167.0" y="485.7" width="1.1" height="1.1"/>
<rect x="173.6" y="488.9" width="1.1" height="1.1"/>
<rect x="183.1" y="479.8" width="1.1" height="1.1"/>
<rect x="174.1" y="488.6" width="1.1" height="1.1"/>
<rect x="159.0" y="490.6" width="1.1" height="1.1"/>
<rect x="161.7" y="501.7" width="1.1" height="1.1"/>
<rect x="171.6" y="491.6" width="1.1" height="1.1"/>
<rect x="171.7" y="475.3" width="1.1" height="1.1"/>
<rect x="170.1" y="483.6" width="1.1" height="1.1"/>
<rect x="178.1" y="478.1" width="1.1" height="1.1"/>
<rect x="172.4" y="476.3" width="1.1" height="1.1"/>
<rect x="172.7" y="481.6" width="1.1" height="1.1"/>
<rect x="174.3" y="488.3" width="1.1" height="1.1"/>
<rect x="176.1" y="480.5" width="1.1" height="1.1"/>
<rect x="178.8" y="475.4" width="1.1" height="1.1"/>
<rect x="186.4" y="482.1" width="1.1" height="1.1"/>
<rect x="168.8" y="488.6" width="1.1" height="1.1"/>
<rect x="166.2" y="486.3" width="1.1" height="1.1"/>
<rect x="172.8" y="482.6" width="1.1" height="1.1"/>
<rect x="159.9" y="497.7" width="1.1" height="1.1"/>
<rect x="172.9" y="485.4" width="1.1" height="1.1"/>
<rect x="168.4" y="487.2" width="1.1" height="1.1"/>
<rect x="171.1" y="489.7" width="1.1" height="1.1"/>
<rect x="187.2" y="475.6" width="1.1" height="1.1"/>
<rect x="178.8" y="475.9" width="1.1" height="1.1"/>
<rect x="181.4" y="479.5" width="1.1" height="1.1"/>
<rect x="165.1" y="487.0" width="1.1" height="1.1"/>
<rect x="175.6" y="492.5" width="1.1" height="1.1"/>
<rect x="151.7" y="501.9" width="1.1" height="1.1"/>
<rect x="170.2" y="486.6" width="1.1" height="1.1"/>
<rect x="176.8" y="484.9" width="1.1" height="1.1"/>
<rect x="195.3" y="461.9" width="1.1" height="1.1"/>
<rect x="184.2" y="473.4" width="1.1" height="1.1"/>
<rect x="156.2" y="494.8" width="1.1" height="1.1"/>
<rect x="168.8" y="484.2" width="1.1" height="1.1"/>
<rect x="172.5" y="480.4" width="1.1" height="1.1"/>
<rect x="166.1" y="490.1" width="1.1" height="1.1"/>
<rect x="173.5" y="486.4" width="1.1" height="1.1"/>
<rect x="169.6" y="482.8" width="1.1" height="1.1"/>
<rect x="189.4" y="471.7" width="1.1" height="1.1"/>
<rect x="180.2" y="483.1" width="1.1" height="1.1"/>
<rect x="169.6" y="484.1" width="1.1" height="1.1"/>
<rect x="178.2" y="484.1" width="1.1" height="1.1"/>
<rect x="178.4" y="478.4" width="1.1" height="1.1"/>
<rect x="184.3" y="470.1" width="1.1" height="1.1"/>
<rect x="177.9" y="481.3" width="1.1" height="1.1"/>
<rect x="175.6" y="485.3" width="1.1" height="1.1"/>
<rect x="166.6" y="496.8" width="1.1" height="1.1"/>
<rect x="162.6" y="497.1" width="1.1" height="1.1"/>
<rect x="172.6" y="483.0" width="1.1" height="1.1"/>
<rect x="162.3" y="491.7" width="1.1" height="1.1"/>
<rect x="176.7" y="475.9" width="1.1" height="1.1"/>
<rect x="172.6" y="482.4" width="1.1" height="1.1"/>
<rect x="170.3" y="480.8" width="1.1" height="1.1"/>
<rect x="160.5" y="491.5" width="1.1" height="1.1"/>
<rect x="154.2" y="489.2" width="1.1" height="1.1"/>
<rect x="181.0" y="487.1" width="1.1" height="1.1"/>
<rect x="169.0" y="492.9" width="1.1" height="1.1"/>
<rect x="158.8" y="495.9" width="1.1" height="1.1"/>
<rect x="166.1" y="483.5" width="1.1" height="1.1"/>
<rect x="169.0" y="491.5" width="1.1" height="1.1"/>
<rect x="172.7" y="481.5" width="1.1" height="1.1"/>
<rect x="180.1" y="475.4" width="1.1" height="1.1"/>
<rect x="161.0" y="496.2" width="1.1" height="1.1"/>
<rect x="171.8" y="488.1" width="1.1" height="1.1"/>
<rect x="179.5" y="479.9" width="1.1" height="1.1"/>
<rect x="172.7" y="485.2" width="1.1" height="1.1"/>
<rect x="173.7" y="489.8" width="1.1" height="1.1"/>
<rect x="190.6" y="472.5" width="1.1" height="1.1"/>
<rect x="167.3" y="496.0" width="1.1" height="1.1"/>
<rect x="172.6" y="490.1" width="1.1" height="1.1"/>
<rect x="176.0" y="475.2" width="1.1" height="1.1"/>
<rect x="178.3" y="481.3" width="1.1" height="1.1"/>
<rect x="183.8" y="475.9" width="1.1" height="1.1"/>
<rect x="172.9" y="483.0" width="1.1" height="1.1"/>
<rect x="169.4" y="484.0" width="1.1" height="1.1"/>
<rect x="163.1" y="499.1" width="1.1" height="1.1"/>
<rect x="183.2" y="479.0" width="1.1" height="1.1"/>
<rect x="170.4" y="483.6" width="1.1" height="1.1"/>
<rect x="169.4" y="491.6" width="1.1" height="1.1"/>
<rect x="171.6" y="488.7" width="1.1" height="1.1"/>
<rect x="177.8" y="481.7" width="1.1" height="1.1"/>
<rect x="171.1" y="481.0" width="1.1" height="1.1"/>
<rect x="160.5" y="499.8" width="1.1" height="1.1"/>
<rect x="179.3" y="472.4" width="1.1" height="1.1"/>
<rect x="174.0" y="485.8" width="1.1" height="1.1"/>
<rect x="183.4" y="472.8" width="1.1" height="1.1"/>
<rect x="181.7" y="485.2" width="1.1" height="1.1"/>
<rect x="172.2" y="488.7" width="1.1" height="1.1"/>
<rect x="164.2" y="487.1" width="1.1" height="1.1"/>
<rect x="179.3" y="480.7" width="1.1" height="1.1"/>
<rect x="171.2" y="478.0" width="1.1" height="1.1"/>
<rect x="178.7" y="479.5" width="1.1" height="1.1"/>
<rect x="177.5" y="479.3" width="1.1" height="1.1"/>
<rect x="162.9" y="493.3" width="1.1" height="1.1"/>
<rect x="175.6" y="478.3" width="1.1" height="1.1"/>
<rect x="163.4" y="494.3" width="1.1" height="1.1"/>
<rect x="168.4" y="493.9" width="1.1" height="1.1"/>
<rect x="182.4" y="473.9" width="1.1" height="1.1"/>
<rect x="184.1" y="485.2" width="1.1" height="1.1"/>
<rect x="166.6" y="479.4" width="1.1" height="1.1"/>
<rect x="161.7" y="500.5" width="1.1" height="1.1"/>
<rect x="175.1" y="474.1" width="1.1" height="1.1"/>
<rect x="178.6" y="483.6" width="1.1" height="1.1"/>
<rect x="177.8" y="477.6" width="1.1" height="1.1"/>
<rect x="175.5" y="479.5" width="1.1" height="1.1"/>
<rect x="180.1" y="472.3" width="1.1" height="1.1"/>
<rect x="184.6" y="469.4" width="1.1" height="1.1"/>
<rect x="172.1" y="492.7" width="1.1" height="1.1"/>
<rect x="177.8" y="486.7" width="1.1" height="1.1"/>
<rect x="192.1" y="474.2" width="1.1" height="1.1"/>
<rect x="158.1" y="503.3" width="1.1" height="1.1"/>
<rect x="176.5" y="479.1" width="1.1" height="1.1"/>
<rect x="178.7" y="477.6" width="1.1" height="1.1"/>
<rect x="166.9" y="484.0" width="1.1" height="1.1"/>
<rect x="167.6" y="494.5" width="1.1" height="1.1"/>
<rect x="180.8" y="474.8" width="1.1" height="1.1"/>
<rect x="165.6" y="490.0" width="1.1" height="1.1"/>
<rect x="181.8" y="472.1" width="1.1" height="1.1"/>
<rect x="164.4" y="484.4" width="1.1" height="1.1"/>
<rect x="151.9" y="498.8" width="1.1" height="1.1"/>
<rect x="176.5" y="481.1" width="1.1" height="1.1"/>
<rect x="174.2" y="489.9" width="1.1" height="1.1"/>
<rect x="172.2" y="481.4" width="1.1" height="1.1"/>
<rect x="165.6" y="488.1" width="1.1" height="1.1"/>
<rect x="171.9" y="494.8" width="1.1" height="1.1"/>
<rect x="168.3" y="484.0" width="1.1" height="1.1"/>
<rect x="160.4" y="492.6" width="1.1" height="1.1"/>
<rect x="176.1" y="487.0" width="1.1" height="1.1"/>
<rect x="171.2" y="480.3" width="1.1" height="1.1"/>
<rect x="179.3" y="483.2" width="1.1" height="1.1"/>
<rect x="181.7" y="474.9" width="1.1" height="1.1"/>
<rect x="174.4" y="475.0" width="1.1" height="1.1"/>
<rect x="179.4" y="476.6" width="1.1" height="1.1"/>
<rect x="181.3" y="473.7" width="1.1" height="1.1"/>
<rect x="183.8" y="475.5" width="1.1" height="1.1"/>
<rect x="158.6" y="486.6" width="1.1" height="1.1"/>
<rect x="180.0" y="475.4" width="1.1" height="1.1"/>
<rect x="173.7" y="483.0" width="1.1" height="1.1"/>
<rect x="174.2" y="486.8" width="1.1" height="1.1"/>
<rect x="179.7" y="477.6" width="1.1" height="1.1"/>
<rect x="165.4" y="487.6" width="1.1" height="1.1"/>
<rect x="170.7" y="485.1" width="1.1" height="1.1"/>
<rect x="177.9" y="466.6" width="1.1" height="1.1"/>
<rect x="164.5" y="487.6" width="1.1" height="1.1"/>
<rect x="179.2" y="476.4" width="1.1" height="1.1"/>
<rect x="185.7" y="475.6" width="1.1" height="1.1"/>
<rect x="170.6" y="485.0" width="1.1" height="1.1"/>
<rect x="162.0" y="486.2" width="1.1" height="1.1"/>
<rect x="163.1" y="488.1" width="1.1" height="1.1"/>
<rect x="183.3" y="479.4" width="1.1" height="1.1"/>
<rect x="171.9" y="485.0" width="1.1" height="1.1"/>
<rect x="187.6" y="470.8" width="1.1" height="1.1"/>
<rect x="158.8" y="488.8" width="1.1" height="1.1"/>
<rect x="181.9" y="485.9" width="1.1" height="1.1"/>
<rect x="150.8" y="487.5" width="1.1" height="1.1"/>
<rect x="174.1" y="492.5" width="1.1" height="1.1"/>
<rect x="182.1" y="469.5" width="1.1" height="1.1"/>
<rect x="153.6" y="491.8" width="1.1" height="1.1"/>
<rect x="179.3" y="478.5" width="1.1" height="1.1"/>
<rect x="167.5" y="485.5" width="1.1" height="1.1"/>
<rect x="166.6" y="487.2" width="1.1" height="1.1"/>
<rect x="171.3" y="486.6" width="1.1" height="1.1"/>
<rect x="177.9" y="474.7" width="1.1" height="1.1"/>
<rect x="180.8" y="475.1" width="1.1" height="1.1"/>
<rect x="187.4" y="478.3" width="1.1" height="1.1"/>
<rect x="173.9" y="481.5" width="1.1" height="1.1"/>
<rect x="183.5" y="486.0" width="1.1" height="1.1"/>
<rect x="169.7" y="487.2" width="1.1" height="1.1"/>
<rect x="175.0" y="470.8" width="1.1" height="1.1"/>
<rect x="175.4" y="481.8" width="1.1" height="1.1"/>
<rect x="176.9" y="475.4" width="1.1" height="1.1"/>
<rect x="171.9" y="475.9" width="1.1" height="1.1"/>
<rect x="163.3" y="484.5" width="1.1" height="1.1"/>
<rect x="179.3" y="473.6" width="1.1" height="1.1"/>
<rect x="186.3" y="474.2" width="1.1" height="1.1"/>
<rect x="176.8" y="479.0" width="1.1" height="1.1"/>
<rect x="168.4" y="490.3" width="1.1" height="1.1"/>
<rect x="166.9" y="483.7" width="1.1" height="1.1"/>
<rect x="154.4" y="503.4" width="1.1" height="1.1"/>
<rect x="174.0" y="476.1" width="1.1" height="1.1"/>
<rect x="172.5" y="477.4" width="1.1" height="1.1"/>
<rect x="172.9" y="485.8" width="1.1" height="1.1"/>
<rect x="160.4" y="491.8" width="1.1" height="1.1"/>
<rect x="187.8" y="471.5" width="1.1" height="1.1"/>
<rect x="164.7" y="486.6" width="1.1" height="1.1"/>
<rect x="162.0" y="497.0" width="1.1" height="1.1"/>
<rect x="182.7" y="473.8" width="1.1" height="1.1"/>
<rect x="181.4" y="475.6" width="1.1" height="1.1"/>
<rect x="172.4" y="482.7" width="1.1" height="1.1"/>
<rect x="170.7" y="479.8" width="1.1" height="1.1"/>
<rect x="162.7" y="500.1" width="1.1" height="1.1"/>
<rect x="166.3" y="483.9" width="1.1" height="1.1"/>
<rect x="168.9" y="497.3" width="1.1" height="1.1"/>
<rect x="197.1" y="469.3" width="1.1" height="1.1"/>
<rect x="171.8" y="481.3" width="1.1" height="1.1"/>
<rect x="176.5" y="481.3" width="1.1" height="1.1"/>
<rect x="160.4" y="490.2" width="1.1" height="1.1"/>
<rect x="165.2" y="489.9" width="1.1" height="1.1"/>
<rect x="179.7" y="479.9" width="1.1" height="1.1"/>
<rect x="158.5" y="497.1" width="1.1" height="1.1"/>
<rect x="178.5" y="475.6" width="1.1" height="1.1"/>
<rect x="162.6" y="490.8" width="1.1" height="1.1"/>
<rect x="175.9" y="475.8" width="1.1" height="1.1"/>
<rect x="176.8" y="479.5" width="1.1" height="1.1"/>
<rect x="170.9" y="482.5" width="1.1" height="1.1"/>
<rect x="179.8" y="478.7" width="1.1" height="1.1"/>
<rect x="171.0" y="476.3" width="1.1" height="1.1"/>
<rect x="173.0" y="486.9" width="1.1" height="1.1"/>
<rect x="179.0" y="484.5" width="1.1" height="1.1"/>
<rect x="164.4" y="485.3" width="1.1" height="1.1"/>
<rect x="173.6" y="478.9" width="1.1" height="1.1"/>
<rect x="179.8" y="481.6" width="1.1" height="1.1"/>
<rect x="177.6" y="481.5" width="1.1" height="1.1"/>
<rect x="175.2" y="480.3" width="1.1" height="1.1"/>
<rect x="172.7" y="489.6" width="1.1" height="1.1"/>
<rect x="175.9" y="480.9" width="1.1" height="1.1"/>
<rect x="177.8" y="484.6" width="1.1" height="1.1"/>
<rect x="175.1" y="482.6" width="1.1" height="1.1"/>
<rect x="169.9" y="486.8" width="1.1" height="1.1"/>
<rect x="171.3" y="491.0" width="1.1" height="1.1"/>
<rect x="168.9" y="488.5" width="1.1" height="1.1"/>
<rect x="177.3" y="480.6" width="1.1" height="1.1"/>
<rect x="185.1" y="471.1" width="1.1" height="1.1"/>
<rect x="176.0" y="479.9" width="1.1" height="1.1"/>
<rect x="161.6" y="490.0" width="1.1" height="1.1"/>
<rect x="183.8" y="479.8" width="1.1" height="1.1"/>
<rect x="184.3" y="471.6" width="1.1" height="1.1"/>
<rect x="175.8" y="483.1" width="1.1" height="1.1"/>
<rect x="173.6" y="486.4" width="1.1" height="1.1"/>
<rect x="173.3" y="482.7" width="1.1" height="1.1"/>
<rect x="173.9" y="488.3" width="1.1" height="1.1"/>
<rect x="181.1" y="480.2" width="1.1" height="1.1"/>
<rect x="176.7" y="477.5" width="1.1" height="1.1"/>
<rect x="171.7" y="472.4" width="1.1" height="1.1"/>
<rect x="174.4" y="480.1" width="1.1" height="1.1"/>
<rect x="171.4" y="482.8" width="1.1" height="1.1"/>
<rect x="163.0" y="487.7" width="1.1" height="1.1"/>
<rect x="170.4" y="487.6" width="1.1" height="1.1"/>
<rect x="179.7" y="473.8" width="1.1" height="1.1"/>
<rect x="169.9" y="490.4" width="1.1" height="1.1"/>
<rect x="156.8" y="500.1" width="1.1" height="1.1"/>
<rect x="177.5" y="476.7" width="1.1" height="1.1"/>
<rect x="163.0" y="490.5" width="1.1" height="1.1"/>
<rect x="182.1" y="479.9" width="1.1" height="1.1"/>
<rect x="168.8" y="490.6" width="1.1" height="1.1"/>
<rect x="176.8" y="489.2" width="1.1" height="1.1"/>
<rect x="172.3" y="481.4" width="1.1" height="1.1"/>
<rect x="173.0" y="478.6" width="1.1" height="1.1"/>
<rect x="178.5" y="481.4" width="1.1" height="1.1"/>
<rect x="165.2" y="494.1" width="1.1" height="1.1"/>
<rect x="177.4" y="480.4" width="1.1" height="1.1"/>
<rect x="174.4" y="486.5" width="1.1" height="1.1"/>
<rect x="182.9" y="471.5" width="1.1" height="1.1"/>
<rect x="179.6" y="483.4" width="1.1" height="1.1"/>
<rect x="194.8" y="462.7" width="1.1" height="1.1"/>
<rect x="164.5" y="485.0" width="1.1" height="1.1"/>
<rect x="172.3" y="487.3" width="1.1" height="1.1"/>
<rect x="167.1" y="485.2" width="1.1" height="1.1"/>
<rect x="175.9" y="479.9" width="1.1" height="1.1"/>
<rect x="171.6" y="489.1" width="1.1" height="1.1"/>
<rect x="175.5" y="482.5" width="1.1" height="1.1"/>
<rect x="171.7" y="481.2" width="1.1" height="1.1"/>
<rect x="187.3" y="475.3" width="1.1" height="1.1"/>
<rect x="181.3" y="480.3" width="1.1" height="1.1"/>
<rect x="180.3" y="474.5" width="1.1" height="1.1"/>
<rect x="173.7" y="481.5" width="1.1" height="1.1"/>
<rect x="167.0" y="489.2" width="1.1" height="1.1"/>
<rect x="181.2" y="473.3" width="1.1" height="1.1"/>
<rect x="191.9" y="473.6" width="1.1" height="1.1"/>
<rect x="169.6" y="485.2" width="1.1" height="1.1"/>
<rect x="173.9" y="484.8" width="1.1" height="1.1"/>
<rect x="170.0" y="485.9" width="1.1" height="1.1"/>
<rect x="183.9" y="475.4" width="1.1" height="1.1"/>
<rect x="167.2" y="486.0" width="1.1" height="1.1"/>
<rect x="152.0" y="503.1" width="1.1" height="1.1"/>
<rect x="168.2" y="485.3" width="1.1" height="1.1"/>
<rect x="154.7" y="498.0" width="1.1" height="1.1"/>
<rect x="164.6" y="484.8" width="1.1" height="1.1"/>
<rect x="179.9" y="480.0" width="1.1" height="1.1"/>
<rect x="177.3" y="485.4" width="1.1" height="1.1"/>
<rect x="175.2" y="480.2" width="1.1" height="1.1"/>
<rect x="182.1" y="478.3" width="1.1" height="1.1"/>
<rect x="155.8" y="492.4" width="1.1" height="1.1"/>
<rect x="164.6" y="492.1" width="1.1" height="1.1"/>
<rect x="170.5" y="477.3" width="1.1" height="1.1"/>
<rect x="173.0" y="477.7" width="1.1" height="1.1"/>
<rect x="174.0" y="489.0" width="1.1" height="1.1"/>
<rect x="177.2" y="477.6" width="1.1" height="1.1"/>
<rect x="168.8" y="493.7" width="1.1" height="1.1"/>
<rect x="196.6" y="455.2" width="1.1" height="1.1"/>
<rect x="176.8" y="478.1" width="1.1" height="1.1"/>
<rect x="181.1" y="474.2" width="1.1" height="1.1"/>
<rect x="161.3" y="498.5" width="1.1" height="1.1"/>
<rect x="180.2" y="471.3" width="1.1" height="1.1"/>
<rect x="182.1" y="472.3" width="1.1" height="1.1"/>
<rect x="173.3" y="478.4" width="1.1" height="1.1"/>
<rect x="186.1" y="470.7" width="1.1" height="1.1"/>
<rect x="183.7" y="469.3" width="1.1" height="1.1"/>
<rect x="167.6" y="481.7" width="1.1" height="1.1"/>
<rect x="167.2" y="491.9" width="1.1" height="1.1"/>
<rect x="186.6" y="480.6" width="1.1" height="1.1"/>
<rect x="171.9" y="479.7" width="1.1" height="1.1"/>
<rect x="176.6" y="482.2" width="1.1" height="1.1"/>
<rect x="165.8" y="486.2" width="1.1" height="1.1"/>
<rect x="177.8" y="479.9" width="1.1" height="1.1"/>
<rect x="165.5" y="495.6" width="1.1" height="1.1"/>
<rect x="173.4" y="483.1" width="1.1" height="1.1"/>
<rect x="180.2" y="479.1" width="1.1" height="1.1"/>
<rect x="180.9" y="482.9" width="1.1" height="1.1"/>
<rect x="159.4" y="489.1" width="1.1" height="1.1"/>
<rect x="170.0" y="489.4" width="1.1" height="1.1"/>
<rect x="172.3" y="489.4" width="1.1" height="1.1"/>
<rect x="170.6" y="491.4" width="1.1" height="1.1"/>
<rect x="174.8" y="484.5" width="1.1" height="1.1"/>
<rect x="173.0" y="483.1" width="1.1" height="1.1"/>
<rect x="177.1" y="488.1" width="1.1" height="1.1"/>
<rect x="174.7" y="483.1" width="1.1" height="1.1"/>
<rect x="164.1" y="491.1" width="1.1" height="1.1"/>
<rect x="177.5" y="477.5" width="1.1" height="1.1"/>
<rect x="189.6" y="472.1" width="1.1" height="1.1"/>
<rect x="174.6" y="472.9" width="1.1" height="1.1"/>
<rect x="168.6" y="490.4" width="1.1" height="1.1"/>
<rect x="169.7" y="488.4" width="1.1" height="1.1"/>
<rect x="173.2" y="482.3" width="1.1" height="1.1"/>
<rect x="167.3" y="492.8" width="1.1" height="1.1"/>
<rect x="173.0" y="488.9" width="1.1" height="1.1"/>
<rect x="166.8" y="486.2" width="1.1" height="1.1"/>
<rect x="172.7" y="488.1" width="1.1" height="1.1"/>
<rect x="161.8" y="496.3" width="1.1" height="1.1"/>
<rect x="161.4" y="489.4" width="1.1" height="1.1"/>
<rect x="179.4" y="476.8" width="1.1" height="1.1"/>
<rect x="176.0" y="483.2" width="1.1" height="1.1"/>
<rect x="174.8" y="481.5" width="1.1" height="1.1"/>
<rect x="173.8" y="484.8" width="1.1" height="1.1"/>
<rect x="164.7" y="488.1" width="1.1" height="1.1"/>
<rect x="176.5" y="485.7" width="1.1" height="1.1"/>
<rect x="171.5" y="484.4" width="1.1" height="1.1"/>
<rect x="177.4" y="487.7" width="1.1" height="1.1"/>
<rect x="162.0" y="497.9" width="1.1" height="1.1"/>
<rect x="163.4" y="495.5" width="1.1" height="1.1"/>
<rect x="180.3" y="483.0" width="1.1" height="1.1"/>
<rect x="190.7" y="468.4" width="1.1" height="1.1"/>
<rect x="179.0" y="478.8" width="1.1" height="1.1"/>
<rect x="180.4" y="475.7" width="1.1" height="1.1"/>
<rect x="179.9" y="475.2" width="1.1" height="1.1"/>
<rect x="178.4" y="477.2" width="1.1" height="1.1"/>
<rect x="182.3" y="476.0" width="1.1" height="1.1"/>
<rect x="169.2" y="478.6" width="1.1" height="1.1"/>
<rect x="169.5" y="483.9" width="1.1" height="1.1"/>
<rect x="190.4" y="472.9" width="1.1" height="1.1"/>
<rect x="171.2" y="487.6" width="1.1" height="1.1"/>
<rect x="165.9" y="485.5" width="1.1" height="1.1"/>
<rect x="171.8" y="483.5" width="1.1" height="1.1"/>
<rect x="159.6" y="491.0" width="1.1" height="1.1"/>
<rect x="167.6" y="496.2" width="1.1" height="1.1"/>
<rect x="167.6" y="494.7" width="1.1" height="1.1"/>
<rect x="186.3" y="480.9" width="1.1" height="1.1"/>
<rect x="175.7" y="485.9" width="1.1" height="1.1"/>
<rect x="166.8" y="493.8" width="1.1" height="1.1"/>
<rect x="183.2" y="480.5" width="1.1" height="1.1"/>
<rect x="168.3" y="485.6" width="1.1" height="1.1"/>
<rect x="170.4" y="481.8" width="1.1" height="1.1"/>
<rect x="167.4" y="494.9" width="1.1" height="1.1"/>
<rect x="177.1" y="474.5" width="1.1" height="1.1"/>
<rect x="177.7" y="483.5" width="1.1" height="1.1"/>
<rect x="182.9" y="471.9" width="1.1" height="1.1"/>
<rect x="170.4" y="483.1" width="1.1" height="1.1"/>
<rect x="173.2" y="482.5" width="1.1" height="1.1"/>
<rect x="178.6" y="474.8" width="1.1" height="1.1"/>
<rect x="174.1" y="482.0" width="1.1" height="1.1"/>
<rect x="153.3" y="501.8" width="1.1" height="1.1"/>
<rect x="177.2" y="483.7" width="1.1" height="1.1"/>
<rect x="176.5" y="481.4" width="1.1" height="1.1"/>
<rect x="174.0" y="481.9" width="1.1" height="1.1"/>
<rect x="184.0" y="472.4" width="1.1" height="1.1"/>
<rect x="173.8" y="488.0" width="1.1" height="1.1"/>
<rect x="176.4" y="485.5" width="1.1" height="1.1"/>
<rect x="183.4" y="478.5" width="1.1" height="1.1"/>
<rect x="168.4" y="487.3" width="1.1" height="1.1"/>
<rect x="165.3" y="486.6" width="1.1" height="1.1"/>
<rect x="176.1" y="483.9" width="1.1" height="1.1"/>
<rect x="169.1" y="477.5" width="1.1" height="1.1"/>
<rect x="182.8" y="473.1" width="1.1" height="1.1"/>
<rect x="175.8" y="474.0" width="1.1" height="1.1"/>
<rect x="170.3" y="486.4" width="1.1" height="1.1"/>
<rect x="172.3" y="488.5" width="1.1" height="1.1"/>
<rect x="166.3" y="479.6" width="1.1" height="1.1"/>
<rect x="174.7" y="485.9" width="1.1" height="1.1"/>
<rect x="171.5" y="486.5" width="1.1" height="1.1"/>
<rect x="170.0" y="485.7" width="1.1" height="1.1"/>
<rect x="161.6" y="500.1" width="1.1" height="1.1"/>
<rect x="171.8" y="485.1" width="1.1" height="1.1"/>
<rect x="164.0" y="490.4" width="1.1" height="1.1"/>
<rect x="168.9" y="485.3" width="1.1" height="1.1"/>
<rect x="171.8" y="478.8" width="1.1" height="1.1"/>
<rect x="184.7" y="471.1" width="1.1" height="1.1"/>
<rect x="173.7" y="478.6" width="1.1" height="1.1"/>
<rect x="179.4" y="476.1" width="1.1" height="1.1"/>
<rect x="179.7" y="479.7" width="1.1" height="1.1"/>
<rect x="179.8" y="475.5" width="1.1" height="1.1"/>
<rect x="176.8" y="481.0" width="1.1" height="1.1"/>
<rect x="170.3" y="482.4" width="1.1" height="1.1"/>
<rect x="169.5" y="490.7" width="1.1" height="1.1"/>
<rect x="187.0" y="466.9" width="1.1" height="1.1"/>
<rect x="167.4" y="480.9" width="1.1" height="1.1"/>
<rect x="157.1" y="492.3" width="1.1" height="1.1"/>
<rect x="179.0" y="477.3" width="1.1" height="1.1"/>
<rect x="171.9" y="480.2" width="1.1" height="1.1"/>
<rect x="177.7" y="484.7" width="1.1" height="1.1"/>
<rect x="167.7" y="482.4" width="1.1" height="1.1"/>
<rect x="179.6" y="483.3" width="1.1" height="1.1"/>
<rect x="161.7" y="489.6" width="1.1" height="1.1"/>
<rect x="167.0" y="491.0" width="1.1" height="1.1"/>
<rect x="169.4" y="484.7" width="1.1" height="1.1"/>
<rect x="157.4" y="491.2" width="1.1" height="1.1"/>
<rect x="170.7" y="480.6" width="1.1" height="1.1"/>
<rect x="164.5" y="493.5" width="1.1" height="1.1"/>
<rect x="177.5" y="475.0" width="1.1" height="1.1"/>
<rect x="173.2" y="484.4" width="1.1" height="1.1"/>
<rect x="184.3" y="469.4" width="1.1" height="1.1"/>
<rect x="176.0" y="481.9" width="1.1" height="1.1"/>
<rect x="183.7" y="471.7" width="1.1" height="1.1"/>
<rect x="170.8" y="477.9" width="1.1" height="1.1"/>
<rect x="182.5" y="474.8" width="1.1" height="1.1"/>
<rect x="177.4" y="476.1" width="1.1" height="1.1"/>
<rect x="169.9" y="490.9" width="1.1" height="1.1"/>
<rect x="183.2" y="482.8" width="1.1" height="1.1"/>
<rect x="161.5" y="498.3" width="1.1" height="1.1"/>
<rect x="177.6" y="474.7" width="1.1" height="1.1"/>
<rect x="168.4" y="480.5" width="1.1" height="1.1"/>
<rect x="186.8" y="466.2" width="1.1" height="1.1"/>
<rect x="163.3" y="484.3" width="1.1" height="1.1"/>
<rect x="192.0" y="472.7" width="1.1" height="1.1"/>
<rect x="160.6" y="486.4" width="1.1" height="1.1"/>
<rect x="177.8" y="479.5" width="1.1" height="1.1"/>
<rect x="173.2" y="490.8" width="1.1" height="1.1"/>
<rect x="166.9" y="486.8" width="1.1" height="1.1"/>
<rect x="177.4" y="475.4" width="1.1" height="1.1"/>
<rect x="181.1" y="479.0" width="1.1" height="1.1"/>
<rect x="173.0" y="476.4" width="1.1" height="1.1"/>
<rect x="162.7" y="488.4" width="1.1" height="1.1"/>
<rect x="166.8" y="486.7" width="1.1" height="1.1"/>
<rect x="188.5" y="469.4" width="1.1" height="1.1"/>
<rect x="170.0" y="488.4" width="1.1" height="1.1"/>
<rect x="162.3" y="491.2" width="1.1" height="1.1"/>
<rect x="155.4" y="496.7" width="1.1" height="1.1"/>
<rect x="174.7" y="485.9" width="1.1" height="1.1"/>
<rect x="167.3" y="481.8" width="1.1" height="1.1"/>
<rect x="183.6" y="465.4" width="1.1" height="1.1"/>
<rect x="182.9" y="474.0" width="1.1" height="1.1"/>
<rect x="171.9" y="478.1" width="1.1" height="1.1"/>
<rect x="179.1" y="477.5" width="1.1" height="1.1"/>
<rect x="188.1" y="472.2" width="1.1" height="1.1"/>
<rect x="175.1" y="476.3" width="1.1" height="1.1"/>
<rect x="177.6" y="479.2" width="1.1" height="1.1"/>
<rect x="182.0" y="463.3" width="1.1" height="1.1"/>
<rect x="171.0" y="481.3" width="1.1" height="1.1"/>
<rect x="177.1" y="479.1" width="1.1" height="1.1"/>
<rect x="187.2" y="472.6" width="1.1" height="1.1"/>
<rect x="187.4" y="476.6" width="1.1" height="1.1"/>
<rect x="174.7" y="485.5" width="1.1" height="1.1"/>
<rect x="176.6" y="477.0" width="1.1" height="1.1"/>
<rect x="178.2" y="478.0" width="1.1" height="1.1"/>
<rect x="171.6" y="489.7" width="1.1" height="1.1"/>
<rect x="180.5" y="477.1" width="1.1" height="1.1"/>
<rect x="183.0" y="483.2" width="1.1" height="1.1"/>
<rect x="171.7" y="491.9" width="1.1" height="1.1"/>
<rect x="182.5" y="479.2" width="1.1" height="1.1"/>
<rect x="165.3" y="484.8" width="1.1" height="1.1"/>
<rect x="172.9" y="481.9" width="1.1" height="1.1"/>
<rect x="172.8" y="477.9" width="1.1" height="1.1"/>
<rect x="175.9" y="479.6" width="1.1" height="1.1"/>
<rect x="173.5" y="478.1" width="1.1" height="1.1"/>
<rect x="182.7" y="477.2" width="1.1" height="1.1"/>
<rect x="180.6" y="484.2" width="1.1" height="1.1"/>
<rect x="167.2" y="489.9" width="1.1" height="1.1"/>
<rect x="167.7" y="484.5" width="1.1" height="1.1"/>
<rect x="162.5" y="498.2" width="1.1" height="1.1"/>
<rect x="175.2" y="485.4" width="1.1" height="1.1"/>
<rect x="174.1" y="481.8" width="1.1" height="1.1"/>
<rect x="168.2" y="488.5" width="1.1" height="1.1"/>
<rect x="180.5" y="477.3" width="1.1" height="1.1"/>
<rect x="174.2" y="479.0" width="1.1" height="1.1"/>
<rect x="167.7" y="492.7" width="1.1" height="1.1"/>
<rect x="170.7" y="477.2" width="1.1" height="1.1"/>
<rect x="178.5" y="468.5" width="1.1" height="1.1"/>
<rect x="181.7" y="472.2" width="1.1" height="1.1"/>
<rect x="169.6" y="493.3" width="1.1" height="1.1"/>
<rect x="156.5" y="494.9" width="1.1" height="1.1"/>
<rect x="164.6" y="494.9" width="1.1" height="1.1"/>
<rect x="178.1" y="477.8" width="1.1" height="1.1"/>
<rect x="163.1" y="489.3" width="1.1" height="1.1"/>
<rect x="184.8" y="469.7" width="1.1" height="1.1"/>
<rect x="168.0" y="482.4" width="1.1" height="1.1"/>
<rect x="157.5" y="496.1" width="1.1" height="1.1"/>
<rect x="170.0" y="479.6" width="1.1" height="1.1"/>
<rect x="163.8" y="494.5" width="1.1" height="1.1"/>
<rect x="170.8" y="481.2" width="1.1" height="1.1"/>
<rect x="162.2" y="490.1" width="1.1" height="1.1"/>
<rect x="170.6" y="487.0" width="1.1" height="1.1"/>
<rect x="163.3" y="488.5" width="1.1" height="1.1"/>
<rect x="174.7" y="479.7" width="1.1" height="1.1"/>
<rect x="175.0" y="482.1" width="1.1" height="1.1"/>
<rect x="166.4" y="488.1" width="1.1" height="1.1"/>
<rect x="179.9" y="477.1" width="1.1" height="1.1"/>
<rect x="177.9" y="475.3" width="1.1" height="1.1"/>
<rect x="176.3" y="481.7" width="1.1" height="1.1"/>
<rect x="165.7" y="482.7" width="1.1" height="1.1"/>
<rect x="172.2" y="484.5" width="1.1" height="1.1"/>
<rect x="174.3" y="478.2" width="1.1" height="1.1"/>
<rect x="180.6" y="480.6" width="1.1" height="1.1"/>
<rect x="173.0" y="477.6" width="1.1" height="1.1"/>
<rect x="168.7" y="486.2" width="1.1" height="1.1"/>
<rect x="166.7" y="494.6" width="1.1" height="1.1"/>
<rect x="163.1" y="489.8" width="1.1" height="1.1"/>
<rect x="176.1" y="492.8" width="1.1" height="1.1"/>
<rect x="171.5" y="485.2" width="1.1" height="1.1"/>
<rect x="161.1" y="492.4" width="1.1" height="1.1"/>
<rect x="167.2" y="481.1" width="1.1" height="1.1"/>
<rect x="165.6" y="483.8" width="1.1" height="1.1"/>
<rect x="164.0" y="494.7" width="1.1" height="1.1"/>
<rect x="185.1" y="477.4" width="1.1" height="1.1"/>
<rect x="170.1" y="492.6" width="1.1" height="1.1"/>
<rect x="174.8" y="475.1" width="1.1" height="1.1"/>
<rect x="171.2" y="485.6" width="1.1" height="1.1"/>
<rect x="173.6" y="486.2" width="1.1" height="1.1"/>
<rect x="163.2" y="490.3" width="1.1" height="1.1"/>
<rect x="170.9" y="492.8" width="1.1" height="1.1"/>
<rect x="153.9" y="495.3" width="1.1" height="1.1"/>
<rect x="163.3" y="488.3" width="1.1" height="1.1"/>
<rect x="180.8" y="477.4" width="1.1" height="1.1"/>
<rect x="168.7" y="498.2" width="1.1" height="1.1"/>
<rect x="185.9" y="469.1" width="1.1" height="1.1"/>
<rect x="167.4" y="492.3" width="1.1" height="1.1"/>
<rect x="177.5" y="489.0" width="1.1" height="1.1"/>
<rect x="179.3" y="473.9" width="1.1" height="1.1"/>
<rect x="163.7" y="495.2" width="1.1" height="1.1"/>
<rect x="188.0" y="474.0" width="1.1" height="1.1"/>
<rect x="174.9" y="483.3" width="1.1" height="1.1"/>
<rect x="156.8" y="490.6" width="1.1" height="1.1"/>
<rect x="186.7" y="475.5" width="1.1" height="1.1"/>
<rect x="166.2" y="481.1" width="1.1" height="1.1"/>
<rect x="161.2" y="493.5" width="1.1" height="1.1"/>
<rect x="162.5" y="498.5" width="1.1" height="1.1"/>
<rect x="168.4" y="499.1" width="1.1" height="1.1"/>
<rect x="163.6" y="490.0" width="1.1" height="1.1"/>
<rect x="167.5" y="492.5" width="1.1" height="1.1"/>
<rect x="193.6" y="463.8" width="1.1" height="1.1"/>
<rect x="169.3" y="480.8" width="1.1" height="1.1"/>
<rect x="178.7" y="478.0" width="1.1" height="1.1"/>
<rect x="179.5" y="479.9" width="1.1" height="1.1"/>
<rect x="168.8" y="477.9" width="1.1" height="1.1"/>
<rect x="174.1" y="475.1" width="1.1" height="1.1"/>
<rect x="157.2" y="499.4" width="1.1" height="1.1"/>
<rect x="166.0" y="487.8" width="1.1" height="1.1"/>
<rect x="173.0" y="478.6" width="1.1" height="1.1"/>
<rect x="177.6" y="479.6" width="1.1" height="1.1"/>
<rect x="177.7" y="476.2" width="1.1" height="1.1"/>
<rect x="175.7" y="492.6" width="1.1" height="1.1"/>
<rect x="169.5" y="482.9" width="1.1" height="1.1"/>
<rect x="170.2" y="478.7" width="1.1" height="1.1"/>
<rect x="169.3" y="485.7" width="1.1" height="1.1"/>
<rect x="166.8" y="488.4" width="1.1" height="1.1"/>
<rect x="182.5" y="469.3" width="1.1" height="1.1"/>
<rect x="180.5" y="474.2" width="1.1" height="1.1"/>
<rect x="174.5" y="488.1" width="1.1" height="1.1"/>
<rect x="178.5" y="482.0" width="1.1" height="1.1"/>
<rect x="175.8" y="481.5" width="1.1" height="1.1"/>
<rect x="180.4" y="480.7" width="1.1" height="1.1"/>
<rect x="179.9" y="477.8" width="1.1" height="1.1"/>
<rect x="186.7" y="473.3" width="1.1" height="1.1"/>
<rect x="172.2" y="492.6" width="1.1" height="1.1"/>
<rect x="180.6" y="477.2" width="1.1" height="1.1"/>
<rect x="155.5" y="494.2" width="1.1" height="1.1"/>
<rect x="177.4" y="481.3" width="1.1" height="1.1"/>
<rect x="184.0" y="475.3" width="1.1" height="1.1"/>
<rect x="172.2" y="481.8" width="1.1" height="1.1"/>
<rect x="164.3" y="487.1" width="1.1" height="1.1"/>
<rect x="166.5" y="486.9" width="1.1" height="1.1"/>
<rect x="182.4" y="477.8" width="1.1" height="1.1"/>
<rect x="168.3" y="478.9" width="1.1" height="1.1"/>
<rect x="173.7" y="477.5" width="1.1" height="1.1"/>
<rect x="178.3" y="476.9" width="1.1" height="1.1"/>
<rect x="185.1" y="474.1" width="1.1" height="1.1"/>
<rect x="161.0" y="493.3" width="1.1" height="1.1"/>
<rect x="168.6" y="491.6" width="1.1" height="1.1"/>
<rect x="170.2" y="483.2" width="1.1" height="1.1"/>
<rect x="177.6" y="479.2" width="1.1" height="1.1"/>
<rect x="172.4" y="483.2" width="1.1" height="1.1"/>
<rect x="169.9" y="489.4" width="1.1" height="1.1"/>
<rect x="174.2" y="478.1" width="1.1" height="1.1"/>
<rect x="167.7" y="487.0" width="1.1" height="1.1"/>
<rect x="179.2" y="482.9" width="1.1" height="1.1"/>
<rect x="176.6" y="479.5" width="1.1" height="1.1"/>
<rect x="181.9" y="480.4" width="1.1" height="1.1"/>
<rect x="170.0" y="478.0" width="1.1" height="1.1"/>
<rect x="190.3" y="467.2" width="1.1" height="1.1"/>
<rect x="184.8" y="477.0" width="1.1" height="1.1"/>
<rect x="181.8" y="474.9" width="1.1" height="1.1"/>
<rect x="179.2" y="484.0" width="1.1" height="1.1"/>
<rect x="175.0" y="478.2" width="1.1" height="1.1"/>
<rect x="182.8" y="473.4" width="1.1" height="1.1"/>
<rect x="177.2" y="475.2" width="1.1" height="1.1"/>
<rect x="187.7" y="478.3" width="1.1" height="1.1"/>
<rect x="158.7" y="493.5" width="1.1" height="1.1"/>
<rect x="187.0" y="463.8" width="1.1" height="1.1"/>
<rect x="179.8" y="482.1" width="1.1" height="1.1"/>
<rect x="178.7" y="481.5" width="1.1" height="1.1"/>
<rect x="180.8" y="477.8" width="1.1" height="1.1"/>
<rect x="187.6" y="476.3" width="1.1" height="1.1"/>
<rect x="185.8" y="476.6" width="1.1" height="1.1"/>
<rect x="179.5" y="476.5" width="1.1" height="1.1"/>
<rect x="163.2" y="499.4" width="1.1" height="1.1"/>
<rect x="172.4" y="484.8" width="1.1" height="1.1"/>
<rect x="169.0" y="482.6" width="1.1" height="1.1"/>
<rect x="176.3" y="477.6" width="1.1" height="1.1"/>
<rect x="165.3" y="489.4" width="1.1" height="1.1"/>
</g>
<line x1="150.30" y1="501.20" x2="203.30" y2="464.30" stroke="#e82a2a" stroke-width="1.1"/>
<circle cx="200.50" cy="461.00" r="1.30" fill="#000" stroke="none" stroke-width="0.6"/>
<circle cx="195.60" cy="487.90" r="1.20" fill="#e82020" stroke="none" stroke-width="0.6"/>
<text x="149.2" y="445.5" font-size="8.6" fill="#231f20"><tspan font-style="italic">R</tspan><tspan font-size="5.5" dy="-3.5">2</tspan><tspan dy="3.5"> = 0.55</tspan></text>
<text x="179.70" y="458.00" font-size="8.01" text-anchor="start" fill="#231f20">BL (91%)</text>
<text x="182.30" y="497.80" font-size="8.53" text-anchor="start" fill="#e02828">LL (63%)</text>
<text x="146" y="535" font-size="9.2" fill="#231f20">log<tspan font-size="6" dy="2">10</tspan><tspan dy="-2"> (intensity)</tspan></text>
<text x="178.00" y="545.00" font-size="8.6" text-anchor="middle" fill="#231f20">(WT)</text>
<text transform="translate(114,506.2) rotate(-90)" font-size="9.2" fill="#231f20">log<tspan font-size="6" dy="2">10</tspan><tspan dy="-2"> (intensity)</tspan></text>
<text transform="translate(124.4,496.3) rotate(-90)" font-size="9.2" fill="#231f20">(<tspan font-style="italic">LL</tspan>-KO)</text>
<text x="232.60" y="331.00" font-size="12.5" text-anchor="start" fill="#000" font-weight="bold">h</text>
<text x="238.6" y="343.9" font-size="8.6" fill="#231f20">WT/<tspan font-style="italic">Gpr50</tspan>-KO/<tspan font-style="italic">LL</tspan>-KO</text>
<path d="M275.5,360.5 C269.0,361.0 263.0,360.0 256.5,360.3 C252.0,360.6 249.0,362.0 247.7,369.0" fill="none" stroke="#c88c8c" stroke-width="1.0"/>
<ellipse cx="285.0" cy="364.5" rx="1.6" ry="0.7" fill="#d8a0a0"/>
<ellipse cx="301.0" cy="364.4" rx="1.6" ry="0.7" fill="#d8a0a0"/>
<path d="M275.0,361.0 C274.0,354.0 281.0,347.5 289.0,347.2 C296.0,347.0 301.0,349.0 304.0,352.0 C306.0,354.0 309.0,358.0 311.3,361.5 C310.0,363.5 305.0,364.0 301.0,364.2 L285.0,364.3 C280.0,364.3 276.0,363.0 275.0,361.0 Z" fill="#4e4848" stroke="none" stroke-width="0.8"/>
<circle cx="304.00" cy="350.30" r="1.60" fill="#3e3838" stroke="none" stroke-width="0.6"/>
<ellipse cx="299.2" cy="352.4" rx="2.3" ry="2.7" fill="#c88e8e"/>
<circle cx="307.10" cy="358.20" r="0.60" fill="#111" stroke="none" stroke-width="0.6"/>
<line x1="283.40" y1="369.80" x2="283.40" y2="389.00" stroke="#000" stroke-width="1.0"/>
<polygon points="281.30,388.00 285.50,388.00 283.40,392.00" fill="#000"/>
<text x="290.80" y="375.80" font-size="8.33" text-anchor="start" fill="#231f20">Fast</text>
<text x="290.80" y="384.70" font-size="8.32" text-anchor="start" fill="#231f20">36 h</text>
<g transform="rotate(-19.8 285 400)">
<rect x="257.00" y="397.50" width="50.00" height="6.50" fill="#f4f4f4" stroke="#888" stroke-width="0.5" rx="3"/>
<rect x="257.00" y="397.80" width="13.00" height="6.00" fill="#6a0a12" stroke="none" stroke-width="0.8" rx="2.8"/>
<rect x="270.00" y="397.80" width="18.00" height="6.00" fill="#e8c030" stroke="none" stroke-width="0.8"/>
<rect x="306.00" y="396.80" width="7.00" height="8.00" fill="#f08a20" stroke="none" stroke-width="0.8" rx="1.5"/>
</g>
<text x="233.00" y="419.00" font-size="9.15" text-anchor="start" fill="#231f20">Detect blood hormones</text>
<text x="231.60" y="442.00" font-size="12.5" text-anchor="start" fill="#000" font-weight="bold">j</text>
<rect x="229.40" y="448.10" width="105.60" height="98.70" fill="#efefef" stroke="none" stroke-width="0.8"/>
<path d="M264.2,464.6 C258.1,465.0 252.5,464.1 246.5,464.4 C242.3,464.6 239.5,465.9 238.3,472.5" fill="none" stroke="#c88c8c" stroke-width="0.93"/>
<ellipse cx="273.0" cy="468.3" rx="1.5" ry="0.7" fill="#d8a0a0"/>
<ellipse cx="287.9" cy="468.2" rx="1.5" ry="0.7" fill="#d8a0a0"/>
<path d="M263.7,465.0 C262.8,458.5 269.3,452.5 276.7,452.2 C283.2,452.0 287.9,453.9 290.7,456.6 C292.5,458.5 295.3,462.2 297.5,465.5 C296.2,467.3 291.6,467.8 287.9,468.0 L273.0,468.1 C268.3,468.1 264.6,466.9 263.7,465.0 Z" fill="#4e4848" stroke="none" stroke-width="0.8"/>
<circle cx="290.67" cy="455.07" r="1.49" fill="#3e3838" stroke="none" stroke-width="0.6"/>
<ellipse cx="286.2" cy="457.0" rx="2.1" ry="2.5" fill="#c88e8e"/>
<circle cx="293.55" cy="462.42" r="0.56" fill="#111" stroke="none" stroke-width="0.6"/>
<rect x="270.21" y="456.19" width="10.23" height="3.35" fill="#a01010" stroke="none" stroke-width="0.8" rx="1.4"/>
<text x="240.00" y="476.50" font-size="9.19" text-anchor="start" fill="#231f20">Implant probe</text>
<line x1="275.40" y1="479.00" x2="275.40" y2="497.50" stroke="#000" stroke-width="1.0"/>
<polygon points="273.30,497.00 277.50,497.00 275.40,500.80" fill="#000"/>
<text x="277.70" y="492.40" font-size="8.25" text-anchor="start" fill="#231f20">Recover 7 days</text>
<path d="M264.2,515.6 C258.1,516.0 252.5,515.1 246.5,515.4 C242.3,515.6 239.5,517.0 238.3,523.5" fill="none" stroke="#c88c8c" stroke-width="0.93"/>
<ellipse cx="273.0" cy="519.3" rx="1.5" ry="0.7" fill="#d8a0a0"/>
<ellipse cx="287.9" cy="519.2" rx="1.5" ry="0.7" fill="#d8a0a0"/>
<path d="M263.7,516.0 C262.8,509.5 269.3,503.5 276.7,503.2 C283.2,503.0 287.9,504.9 290.7,507.6 C292.5,509.5 295.3,513.2 297.5,516.5 C296.2,518.3 291.6,518.8 287.9,519.0 L273.0,519.1 C268.3,519.1 264.6,517.9 263.7,516.0 Z" fill="#4e4848" stroke="none" stroke-width="0.8"/>
<circle cx="290.67" cy="506.07" r="1.49" fill="#3e3838" stroke="none" stroke-width="0.6"/>
<ellipse cx="286.2" cy="508.0" rx="2.1" ry="2.5" fill="#c88e8e"/>
<circle cx="293.55" cy="513.42" r="0.56" fill="#111" stroke="none" stroke-width="0.6"/>
<rect x="270.21" y="507.19" width="10.23" height="3.35" fill="#a01010" stroke="none" stroke-width="0.8" rx="1.4"/>
<path d="M270,514 q4,-2 8,0 M271,516.5 q3,-1.5 6,0" stroke="#3a6ab0" stroke-width="1" fill="none"/>
<rect x="257.00" y="498.60" width="2.40" height="12.00" fill="#fff" stroke="#c03030" stroke-width="0.5" rx="1.2"/>
<circle cx="258.20" cy="512.00" r="2.00" fill="#e83030" stroke="#c03030" stroke-width="0.4"/>
<line x1="258.20" y1="504.00" x2="258.20" y2="511.00" stroke="#e83030" stroke-width="0.9"/>
<text x="300.70" y="516.30" font-size="8.23" text-anchor="start" fill="#231f20">Fast 48 h</text>
<rect x="233.40" y="525.10" width="96.70" height="8.90" fill="#c8c8c8" stroke="#777" stroke-width="0.5" rx="1"/>
<rect x="268.00" y="525.10" width="12.00" height="1.00" fill="#555" stroke="none" stroke-width="0.8"/>
<path d="M270.5,530 q3.5,-2 7,0 M271.5,531.8 q2.5,-1.3 5,0 M269.5,528.2 q4.5,-2.6 9,0" stroke="#3a6ab0" stroke-width="0.8" fill="none"/>
<text x="295.40" y="532.20" font-size="8.52" text-anchor="start" fill="#231f20">Receiver</text>
<text x="235.60" y="542.80" font-size="9.18" text-anchor="start" fill="#231f20">Temperature recording</text>
<text x="343.60" y="330.60" font-size="12.5" text-anchor="start" fill="#000" font-weight="bold">i</text>
<circle cx="443.75" cy="325.00" r="1.50" fill="#3d5ba8" stroke="none" stroke-width="0.6"/>
<text x="450.40" y="327.50" font-size="8.4" text-anchor="start" fill="#231f20">WT</text>
<circle cx="477.90" cy="325.00" r="1.50" fill="#b865b4" stroke="none" stroke-width="0.6"/>
<text x="485.4" y="327.5" font-size="8.75" fill="#231f20"><tspan font-style="italic">Gpr50</tspan>-KO</text>
<circle cx="541.70" cy="325.00" r="1.50" fill="#d4983f" stroke="none" stroke-width="0.6"/>
<text x="546.7" y="327.5" font-size="8.75" fill="#231f20"><tspan font-style="italic">LL</tspan>-KO</text>
<line x1="382.70" y1="347.40" x2="382.70" y2="419.20" stroke="#6d6e71" stroke-width="0.7"/>
<line x1="382.70" y1="419.20" x2="452.50" y2="419.20" stroke="#6d6e71" stroke-width="0.7"/>
<line x1="380.70" y1="419.20" x2="382.70" y2="419.20" stroke="#6d6e71" stroke-width="0.7"/>
<text x="378.20" y="422.00" font-size="7.8" text-anchor="end" fill="#231f20">0</text>
<line x1="380.70" y1="395.93" x2="382.70" y2="395.93" stroke="#6d6e71" stroke-width="0.7"/>
<text x="378.20" y="398.73" font-size="7.8" text-anchor="end" fill="#231f20">1</text>
<line x1="380.70" y1="372.67" x2="382.70" y2="372.67" stroke="#6d6e71" stroke-width="0.7"/>
<text x="378.20" y="375.47" font-size="7.8" text-anchor="end" fill="#231f20">2</text>
<line x1="380.70" y1="349.40" x2="382.70" y2="349.40" stroke="#6d6e71" stroke-width="0.7"/>
<text x="378.20" y="352.20" font-size="7.8" text-anchor="end" fill="#231f20">3</text>
<line x1="382.70" y1="378.02" x2="452.50" y2="378.02" stroke="#777" stroke-width="0.7" stroke-dasharray="0.9 0.9"/>
<line x1="389.10" y1="378.02" x2="400.10" y2="378.02" stroke="#231f20" stroke-width="0.8" stroke-dasharray="2 1.2"/>
<line x1="394.60" y1="382.21" x2="394.60" y2="373.83" stroke="#3d5ba8" stroke-width="0.6"/>
<line x1="392.60" y1="373.83" x2="396.60" y2="373.83" stroke="#3d5ba8" stroke-width="0.6"/>
<line x1="392.60" y1="382.21" x2="396.60" y2="382.21" stroke="#3d5ba8" stroke-width="0.6"/>
<circle cx="394.60" cy="353.59" r="1.85" fill="#3d5ba8" stroke="none" stroke-width="0.6"/>
<circle cx="394.60" cy="367.55" r="1.85" fill="#3d5ba8" stroke="none" stroke-width="0.6"/>
<circle cx="394.60" cy="373.83" r="1.85" fill="#3d5ba8" stroke="none" stroke-width="0.6"/>
<circle cx="392.10" cy="381.51" r="1.85" fill="#3d5ba8" stroke="none" stroke-width="0.6"/>
<circle cx="397.10" cy="381.97" r="1.85" fill="#3d5ba8" stroke="none" stroke-width="0.6"/>
<circle cx="390.60" cy="390.12" r="1.85" fill="#3d5ba8" stroke="none" stroke-width="0.6"/>
<circle cx="394.60" cy="387.09" r="1.85" fill="#3d5ba8" stroke="none" stroke-width="0.6"/>
<circle cx="398.60" cy="387.79" r="1.85" fill="#3d5ba8" stroke="none" stroke-width="0.6"/>
<line x1="412.00" y1="393.14" x2="423.00" y2="393.14" stroke="#231f20" stroke-width="0.8" stroke-dasharray="2 1.2"/>
<line x1="417.50" y1="395.00" x2="417.50" y2="391.28" stroke="#b865b4" stroke-width="0.6"/>
<line x1="415.50" y1="391.28" x2="419.50" y2="391.28" stroke="#b865b4" stroke-width="0.6"/>
<line x1="415.50" y1="395.00" x2="419.50" y2="395.00" stroke="#b865b4" stroke-width="0.6"/>
<circle cx="417.50" cy="387.09" r="1.85" fill="#b865b4" stroke="none" stroke-width="0.6"/>
<circle cx="417.50" cy="391.75" r="1.85" fill="#b865b4" stroke="none" stroke-width="0.6"/>
<circle cx="413.50" cy="397.79" r="1.85" fill="#b865b4" stroke="none" stroke-width="0.6"/>
<circle cx="421.50" cy="394.77" r="1.85" fill="#b865b4" stroke="none" stroke-width="0.6"/>
<circle cx="418.50" cy="394.77" r="1.85" fill="#b865b4" stroke="none" stroke-width="0.6"/>
<line x1="436.20" y1="385.46" x2="447.20" y2="385.46" stroke="#231f20" stroke-width="0.8" stroke-dasharray="2 1.2"/>
<line x1="441.70" y1="388.95" x2="441.70" y2="381.97" stroke="#d4983f" stroke-width="0.6"/>
<line x1="439.70" y1="381.97" x2="443.70" y2="381.97" stroke="#d4983f" stroke-width="0.6"/>
<line x1="439.70" y1="388.95" x2="443.70" y2="388.95" stroke="#d4983f" stroke-width="0.6"/>
<circle cx="441.70" cy="362.20" r="1.85" fill="#d4983f" stroke="none" stroke-width="0.6"/>
<circle cx="439.20" cy="386.16" r="1.85" fill="#d4983f" stroke="none" stroke-width="0.6"/>
<circle cx="444.20" cy="386.16" r="1.85" fill="#d4983f" stroke="none" stroke-width="0.6"/>
<circle cx="437.20" cy="388.95" r="1.85" fill="#d4983f" stroke="none" stroke-width="0.6"/>
<circle cx="446.20" cy="388.95" r="1.85" fill="#d4983f" stroke="none" stroke-width="0.6"/>
<circle cx="441.70" cy="388.95" r="1.85" fill="#d4983f" stroke="none" stroke-width="0.6"/>
<circle cx="439.20" cy="393.61" r="1.85" fill="#d4983f" stroke="none" stroke-width="0.6"/>
<circle cx="444.20" cy="392.44" r="1.85" fill="#d4983f" stroke="none" stroke-width="0.6"/>
<polyline points="394.60,348.30 394.60,343.10 417.50,343.10 417.50,348.30" fill="none" stroke="#333" stroke-width="0.6" stroke-linejoin="round"/>
<text x="406.05" y="344.50" font-size="8" text-anchor="middle" fill="#231f20">*</text>
<polyline points="417.50,348.30 417.50,343.10 441.70,343.10 441.70,348.30" fill="none" stroke="#333" stroke-width="0.6" stroke-linejoin="round"/>
<text x="431.40" y="341.00" font-size="8.0" text-anchor="middle" fill="#231f20">NS</text>
<text transform="translate(365.5,384.3) rotate(-90)" font-size="8.6" text-anchor="middle" fill="#231f20">TSH (ng ml<tspan font-size="5.5" dy="-3.2">−1</tspan><tspan dy="3.2">)</tspan></text>
<line x1="494.60" y1="348.00" x2="494.60" y2="419.20" stroke="#6d6e71" stroke-width="0.7"/>
<line x1="494.60" y1="419.20" x2="564.60" y2="419.20" stroke="#6d6e71" stroke-width="0.7"/>
<line x1="492.60" y1="419.20" x2="494.60" y2="419.20" stroke="#6d6e71" stroke-width="0.7"/>
<text x="490.10" y="422.00" font-size="7.8" text-anchor="end" fill="#231f20">0</text>
<line x1="492.60" y1="396.13" x2="494.60" y2="396.13" stroke="#6d6e71" stroke-width="0.7"/>
<text x="490.10" y="398.93" font-size="7.8" text-anchor="end" fill="#231f20">5</text>
<line x1="492.60" y1="373.07" x2="494.60" y2="373.07" stroke="#6d6e71" stroke-width="0.7"/>
<text x="490.10" y="375.87" font-size="7.8" text-anchor="end" fill="#231f20">10</text>
<line x1="492.60" y1="350.00" x2="494.60" y2="350.00" stroke="#6d6e71" stroke-width="0.7"/>
<text x="490.10" y="352.80" font-size="7.8" text-anchor="end" fill="#231f20">15</text>
<line x1="494.60" y1="395.67" x2="564.60" y2="395.67" stroke="#777" stroke-width="0.7" stroke-dasharray="0.9 0.9"/>
<line x1="501.50" y1="397.06" x2="512.50" y2="397.06" stroke="#231f20" stroke-width="0.8" stroke-dasharray="2 1.2"/>
<line x1="507.00" y1="401.67" x2="507.00" y2="392.44" stroke="#3d5ba8" stroke-width="0.6"/>
<line x1="505.00" y1="392.44" x2="509.00" y2="392.44" stroke="#3d5ba8" stroke-width="0.6"/>
<line x1="505.00" y1="401.67" x2="509.00" y2="401.67" stroke="#3d5ba8" stroke-width="0.6"/>
<circle cx="507.00" cy="367.07" r="1.85" fill="#3d5ba8" stroke="none" stroke-width="0.6"/>
<circle cx="509.00" cy="366.15" r="1.85" fill="#3d5ba8" stroke="none" stroke-width="0.6"/>
<circle cx="505.00" cy="368.45" r="1.85" fill="#3d5ba8" stroke="none" stroke-width="0.6"/>
<circle cx="507.00" cy="396.13" r="1.85" fill="#3d5ba8" stroke="none" stroke-width="0.6"/>
<circle cx="504.00" cy="398.44" r="1.85" fill="#3d5ba8" stroke="none" stroke-width="0.6"/>
<circle cx="510.00" cy="397.98" r="1.85" fill="#3d5ba8" stroke="none" stroke-width="0.6"/>
<circle cx="502.50" cy="399.82" r="1.85" fill="#3d5ba8" stroke="none" stroke-width="0.6"/>
<circle cx="511.50" cy="399.36" r="1.85" fill="#3d5ba8" stroke="none" stroke-width="0.6"/>
<circle cx="505.50" cy="401.67" r="1.85" fill="#3d5ba8" stroke="none" stroke-width="0.6"/>
<circle cx="508.50" cy="402.59" r="1.85" fill="#3d5ba8" stroke="none" stroke-width="0.6"/>
<circle cx="507.00" cy="404.44" r="1.85" fill="#3d5ba8" stroke="none" stroke-width="0.6"/>
<circle cx="504.00" cy="406.28" r="1.85" fill="#3d5ba8" stroke="none" stroke-width="0.6"/>
<circle cx="510.00" cy="407.21" r="1.85" fill="#3d5ba8" stroke="none" stroke-width="0.6"/>
<circle cx="502.50" cy="409.97" r="1.85" fill="#3d5ba8" stroke="none" stroke-width="0.6"/>
<line x1="523.70" y1="406.28" x2="534.70" y2="406.28" stroke="#231f20" stroke-width="0.8" stroke-dasharray="2 1.2"/>
<line x1="529.20" y1="407.67" x2="529.20" y2="404.90" stroke="#b865b4" stroke-width="0.6"/>
<line x1="527.20" y1="404.90" x2="531.20" y2="404.90" stroke="#b865b4" stroke-width="0.6"/>
<line x1="527.20" y1="407.67" x2="531.20" y2="407.67" stroke="#b865b4" stroke-width="0.6"/>
<circle cx="525.20" cy="401.21" r="1.85" fill="#b865b4" stroke="none" stroke-width="0.6"/>
<circle cx="533.20" cy="401.21" r="1.85" fill="#b865b4" stroke="none" stroke-width="0.6"/>
<circle cx="529.20" cy="403.98" r="1.85" fill="#b865b4" stroke="none" stroke-width="0.6"/>
<circle cx="525.20" cy="409.97" r="1.85" fill="#b865b4" stroke="none" stroke-width="0.6"/>
<circle cx="533.20" cy="409.97" r="1.85" fill="#b865b4" stroke="none" stroke-width="0.6"/>
<circle cx="529.20" cy="410.90" r="1.85" fill="#b865b4" stroke="none" stroke-width="0.6"/>
<line x1="547.00" y1="405.36" x2="558.00" y2="405.36" stroke="#231f20" stroke-width="0.8" stroke-dasharray="2 1.2"/>
<line x1="552.50" y1="406.74" x2="552.50" y2="403.98" stroke="#d4983f" stroke-width="0.6"/>
<line x1="550.50" y1="403.98" x2="554.50" y2="403.98" stroke="#d4983f" stroke-width="0.6"/>
<line x1="550.50" y1="406.74" x2="554.50" y2="406.74" stroke="#d4983f" stroke-width="0.6"/>
<circle cx="552.50" cy="394.75" r="1.85" fill="#d4983f" stroke="none" stroke-width="0.6"/>
<circle cx="552.50" cy="397.06" r="1.85" fill="#d4983f" stroke="none" stroke-width="0.6"/>
<circle cx="550.50" cy="399.82" r="1.85" fill="#d4983f" stroke="none" stroke-width="0.6"/>
<circle cx="554.50" cy="401.67" r="1.85" fill="#d4983f" stroke="none" stroke-width="0.6"/>
<circle cx="548.50" cy="404.44" r="1.85" fill="#d4983f" stroke="none" stroke-width="0.6"/>
<circle cx="556.50" cy="405.36" r="1.85" fill="#d4983f" stroke="none" stroke-width="0.6"/>
<circle cx="550.00" cy="406.28" r="1.85" fill="#d4983f" stroke="none" stroke-width="0.6"/>
<circle cx="555.00" cy="407.21" r="1.85" fill="#d4983f" stroke="none" stroke-width="0.6"/>
<circle cx="552.50" cy="408.13" r="1.85" fill="#d4983f" stroke="none" stroke-width="0.6"/>
<circle cx="548.50" cy="409.05" r="1.85" fill="#d4983f" stroke="none" stroke-width="0.6"/>
<circle cx="556.50" cy="409.05" r="1.85" fill="#d4983f" stroke="none" stroke-width="0.6"/>
<circle cx="552.50" cy="411.82" r="1.85" fill="#d4983f" stroke="none" stroke-width="0.6"/>
<polyline points="507.00,348.30 507.00,343.10 529.20,343.10 529.20,348.30" fill="none" stroke="#333" stroke-width="0.6" stroke-linejoin="round"/>
<text x="518.10" y="344.50" font-size="8" text-anchor="middle" fill="#231f20">*</text>
<polyline points="529.20,348.30 529.20,343.10 552.50,343.10 552.50,348.30" fill="none" stroke="#333" stroke-width="0.6" stroke-linejoin="round"/>
<text x="542.65" y="341.00" font-size="8.0" text-anchor="middle" fill="#231f20">NS</text>
<text transform="translate(474.3,384.6) rotate(-90)" font-size="8.6" text-anchor="middle" fill="#231f20">fT4 (pg ml<tspan font-size="5.5" dy="-3.2">−1</tspan><tspan dy="3.2">)</tspan></text>
<line x1="603.30" y1="347.40" x2="603.30" y2="419.20" stroke="#6d6e71" stroke-width="0.7"/>
<line x1="603.30" y1="419.20" x2="674.20" y2="419.20" stroke="#6d6e71" stroke-width="0.7"/>
<line x1="601.30" y1="419.20" x2="603.30" y2="419.20" stroke="#6d6e71" stroke-width="0.7"/>
<text x="598.80" y="422.00" font-size="7.8" text-anchor="end" fill="#231f20">0</text>
<line x1="601.30" y1="401.75" x2="603.30" y2="401.75" stroke="#6d6e71" stroke-width="0.7"/>
<text x="598.80" y="404.55" font-size="7.8" text-anchor="end" fill="#231f20">10</text>
<line x1="601.30" y1="384.30" x2="603.30" y2="384.30" stroke="#6d6e71" stroke-width="0.7"/>
<text x="598.80" y="387.10" font-size="7.8" text-anchor="end" fill="#231f20">20</text>
<line x1="601.30" y1="366.85" x2="603.30" y2="366.85" stroke="#6d6e71" stroke-width="0.7"/>
<text x="598.80" y="369.65" font-size="7.8" text-anchor="end" fill="#231f20">30</text>
<line x1="601.30" y1="349.40" x2="603.30" y2="349.40" stroke="#6d6e71" stroke-width="0.7"/>
<text x="598.80" y="352.20" font-size="7.8" text-anchor="end" fill="#231f20">40</text>
<line x1="603.30" y1="387.79" x2="674.20" y2="387.79" stroke="#777" stroke-width="0.7" stroke-dasharray="0.9 0.9"/>
<line x1="609.30" y1="386.92" x2="620.30" y2="386.92" stroke="#231f20" stroke-width="0.8" stroke-dasharray="2 1.2"/>
<line x1="614.80" y1="390.06" x2="614.80" y2="383.78" stroke="#3d5ba8" stroke-width="0.6"/>
<line x1="612.80" y1="383.78" x2="616.80" y2="383.78" stroke="#3d5ba8" stroke-width="0.6"/>
<line x1="612.80" y1="390.06" x2="616.80" y2="390.06" stroke="#3d5ba8" stroke-width="0.6"/>
<circle cx="614.80" cy="356.38" r="1.85" fill="#3d5ba8" stroke="none" stroke-width="0.6"/>
<circle cx="611.80" cy="378.19" r="1.85" fill="#3d5ba8" stroke="none" stroke-width="0.6"/>
<circle cx="617.80" cy="380.81" r="1.85" fill="#3d5ba8" stroke="none" stroke-width="0.6"/>
<circle cx="610.30" cy="386.92" r="1.85" fill="#3d5ba8" stroke="none" stroke-width="0.6"/>
<circle cx="614.80" cy="386.92" r="1.85" fill="#3d5ba8" stroke="none" stroke-width="0.6"/>
<circle cx="619.30" cy="387.44" r="1.85" fill="#3d5ba8" stroke="none" stroke-width="0.6"/>
<circle cx="612.30" cy="391.28" r="1.85" fill="#3d5ba8" stroke="none" stroke-width="0.6"/>
<circle cx="617.30" cy="391.28" r="1.85" fill="#3d5ba8" stroke="none" stroke-width="0.6"/>
<circle cx="611.80" cy="396.86" r="1.85" fill="#3d5ba8" stroke="none" stroke-width="0.6"/>
<circle cx="617.80" cy="397.39" r="1.85" fill="#3d5ba8" stroke="none" stroke-width="0.6"/>
<circle cx="614.80" cy="400.00" r="1.85" fill="#3d5ba8" stroke="none" stroke-width="0.6"/>
<circle cx="614.80" cy="404.89" r="1.85" fill="#3d5ba8" stroke="none" stroke-width="0.6"/>
<line x1="633.25" y1="396.51" x2="644.25" y2="396.51" stroke="#231f20" stroke-width="0.8" stroke-dasharray="2 1.2"/>
<line x1="638.75" y1="398.26" x2="638.75" y2="394.77" stroke="#b865b4" stroke-width="0.6"/>
<line x1="636.75" y1="394.77" x2="640.75" y2="394.77" stroke="#b865b4" stroke-width="0.6"/>
<line x1="636.75" y1="398.26" x2="640.75" y2="398.26" stroke="#b865b4" stroke-width="0.6"/>
<circle cx="635.25" cy="390.41" r="1.85" fill="#b865b4" stroke="none" stroke-width="0.6"/>
<circle cx="642.25" cy="389.53" r="1.85" fill="#b865b4" stroke="none" stroke-width="0.6"/>
<circle cx="638.75" cy="392.15" r="1.85" fill="#b865b4" stroke="none" stroke-width="0.6"/>
<circle cx="635.25" cy="396.86" r="1.85" fill="#b865b4" stroke="none" stroke-width="0.6"/>
<circle cx="642.25" cy="396.86" r="1.85" fill="#b865b4" stroke="none" stroke-width="0.6"/>
<circle cx="638.75" cy="400.00" r="1.85" fill="#b865b4" stroke="none" stroke-width="0.6"/>
<circle cx="635.25" cy="402.10" r="1.85" fill="#b865b4" stroke="none" stroke-width="0.6"/>
<circle cx="642.25" cy="400.88" r="1.85" fill="#b865b4" stroke="none" stroke-width="0.6"/>
<line x1="657.20" y1="394.77" x2="668.20" y2="394.77" stroke="#231f20" stroke-width="0.8" stroke-dasharray="2 1.2"/>
<line x1="662.70" y1="397.04" x2="662.70" y2="392.50" stroke="#d4983f" stroke-width="0.6"/>
<line x1="660.70" y1="392.50" x2="664.70" y2="392.50" stroke="#d4983f" stroke-width="0.6"/>
<line x1="660.70" y1="397.04" x2="664.70" y2="397.04" stroke="#d4983f" stroke-width="0.6"/>
<circle cx="662.70" cy="375.57" r="1.85" fill="#d4983f" stroke="none" stroke-width="0.6"/>
<circle cx="662.70" cy="384.65" r="1.85" fill="#d4983f" stroke="none" stroke-width="0.6"/>
<circle cx="660.70" cy="389.53" r="1.85" fill="#d4983f" stroke="none" stroke-width="0.6"/>
<circle cx="664.70" cy="390.41" r="1.85" fill="#d4983f" stroke="none" stroke-width="0.6"/>
<circle cx="658.70" cy="393.37" r="1.85" fill="#d4983f" stroke="none" stroke-width="0.6"/>
<circle cx="666.70" cy="394.42" r="1.85" fill="#d4983f" stroke="none" stroke-width="0.6"/>
<circle cx="660.20" cy="395.12" r="1.85" fill="#d4983f" stroke="none" stroke-width="0.6"/>
<circle cx="665.20" cy="395.64" r="1.85" fill="#d4983f" stroke="none" stroke-width="0.6"/>
<circle cx="662.70" cy="397.39" r="1.85" fill="#d4983f" stroke="none" stroke-width="0.6"/>
<circle cx="659.70" cy="399.13" r="1.85" fill="#d4983f" stroke="none" stroke-width="0.6"/>
<circle cx="665.70" cy="399.48" r="1.85" fill="#d4983f" stroke="none" stroke-width="0.6"/>
<circle cx="660.70" cy="405.24" r="1.85" fill="#d4983f" stroke="none" stroke-width="0.6"/>
<circle cx="664.70" cy="406.11" r="1.85" fill="#d4983f" stroke="none" stroke-width="0.6"/>
<polyline points="614.80,348.30 614.80,343.10 638.75,343.10 638.75,348.30" fill="none" stroke="#333" stroke-width="0.6" stroke-linejoin="round"/>
<text x="626.77" y="341.00" font-size="7.6" text-anchor="middle" fill="#231f20">P = 0.06</text>
<polyline points="638.75,348.30 638.75,343.10 662.70,343.10 662.70,348.30" fill="none" stroke="#333" stroke-width="0.6" stroke-linejoin="round"/>
<text x="652.52" y="341.00" font-size="8.0" text-anchor="middle" fill="#231f20">NS</text>
<text transform="translate(581.4,384.3) rotate(-90)" font-size="8.6" text-anchor="middle" fill="#231f20">fT3 (pg ml<tspan font-size="5.5" dy="-3.2">−1</tspan><tspan dy="3.2">)</tspan></text>
<text x="344.00" y="443.30" font-size="12.5" text-anchor="start" fill="#000" font-weight="bold">k</text>
<line x1="382.50" y1="450.50" x2="382.50" y2="521.80" stroke="#6d6e71" stroke-width="0.7"/>
<line x1="380.50" y1="521.80" x2="382.50" y2="521.80" stroke="#6d6e71" stroke-width="0.7"/>
<text x="378.00" y="524.60" font-size="7.8" text-anchor="end" fill="#231f20">25</text>
<line x1="380.50" y1="498.80" x2="382.50" y2="498.80" stroke="#6d6e71" stroke-width="0.7"/>
<text x="378.00" y="501.60" font-size="7.8" text-anchor="end" fill="#231f20">30</text>
<line x1="380.50" y1="475.80" x2="382.50" y2="475.80" stroke="#6d6e71" stroke-width="0.7"/>
<text x="378.00" y="478.60" font-size="7.8" text-anchor="end" fill="#231f20">35</text>
<line x1="380.50" y1="452.80" x2="382.50" y2="452.80" stroke="#6d6e71" stroke-width="0.7"/>
<text x="378.00" y="455.60" font-size="7.8" text-anchor="end" fill="#231f20">40</text>
<rect x="419.60" y="451.50" width="124.70" height="5.00" fill="#8a8a8a" stroke="#444" stroke-width="0.5"/>
<text x="482.00" y="448.10" font-size="8.6" text-anchor="middle" fill="#231f20">Fasting</text>
<rect x="382.50" y="517.80" width="161.80" height="4.00" fill="#fff" stroke="#333" stroke-width="0.5"/>
<rect x="414.80" y="517.80" width="32.90" height="4.00" fill="#000" stroke="none" stroke-width="0.8"/>
<rect x="479.70" y="517.80" width="32.10" height="4.00" fill="#000" stroke="none" stroke-width="0.8"/>
<line x1="382.50" y1="521.80" x2="382.50" y2="523.80" stroke="#6d6e71" stroke-width="0.7"/>
<text x="382.50" y="534.00" font-size="7.8" text-anchor="middle" fill="#231f20">0</text>
<line x1="414.80" y1="521.80" x2="414.80" y2="523.80" stroke="#6d6e71" stroke-width="0.7"/>
<text x="414.80" y="534.00" font-size="7.8" text-anchor="middle" fill="#231f20">12</text>
<line x1="447.70" y1="521.80" x2="447.70" y2="523.80" stroke="#6d6e71" stroke-width="0.7"/>
<text x="447.70" y="534.00" font-size="7.8" text-anchor="middle" fill="#231f20">0</text>
<line x1="479.70" y1="521.80" x2="479.70" y2="523.80" stroke="#6d6e71" stroke-width="0.7"/>
<text x="479.70" y="534.00" font-size="7.8" text-anchor="middle" fill="#231f20">12</text>
<line x1="511.80" y1="521.80" x2="511.80" y2="523.80" stroke="#6d6e71" stroke-width="0.7"/>
<text x="511.80" y="534.00" font-size="7.8" text-anchor="middle" fill="#231f20">0</text>
<line x1="544.30" y1="521.80" x2="544.30" y2="523.80" stroke="#6d6e71" stroke-width="0.7"/>
<text x="544.30" y="534.00" font-size="7.8" text-anchor="middle" fill="#231f20">12</text>
<text x="463.8" y="546.6" font-size="8.6" text-anchor="middle" fill="#231f20">ZT (h)</text>
<text transform="translate(359.6,502) rotate(-90)" font-size="8.6" fill="#231f20"><tspan font-style="italic">T</tspan><tspan font-size="5.8" dy="2">b</tspan><tspan dy="-2"> (°C)</tspan></text>
<polygon points="382.20,461.80 385.00,465.80 388.00,470.30 390.90,470.80 393.80,470.30 396.20,469.30 398.80,470.30 401.70,470.80 404.30,469.80 406.80,468.80 409.70,467.80 412.60,467.30 414.80,465.50 417.00,465.80 419.00,464.10 421.50,466.30 424.00,468.80 426.50,470.80 428.60,474.20 431.20,472.80 434.00,473.80 437.00,474.30 440.90,473.40 444.50,476.30 447.40,479.90 451.00,475.60 454.00,475.30 456.80,477.00 460.40,472.70 463.30,479.90 466.00,477.30 469.00,476.80 471.90,477.30 474.50,470.50 477.40,467.20 480.30,475.00 485.40,474.20 488.30,474.20 490.40,480.80 493.00,483.70 496.00,482.90 498.80,477.80 501.70,486.80 503.80,498.80 506.70,503.20 510.00,505.40 512.90,501.00 515.80,501.70 518.00,496.70 520.90,499.60 526.00,490.10 528.80,493.80 531.70,495.20 534.20,491.60 537.10,496.00 539.70,499.60 542.30,497.40 542.30,515.80 539.70,518.00 537.10,514.40 534.20,510.00 531.70,513.60 528.80,512.20 526.00,508.50 520.90,518.00 518.00,515.10 515.80,520.10 512.90,519.40 510.00,523.80 506.70,521.60 503.80,517.20 501.70,505.20 498.80,496.20 496.00,501.30 493.00,486.10 490.40,483.20 488.30,476.60 485.40,476.60 480.30,477.40 477.40,475.60 474.50,478.90 471.90,485.70 469.00,485.20 466.00,485.70 463.30,488.30 460.40,481.10 456.80,485.40 454.00,483.70 451.00,484.00 447.40,488.30 444.50,484.70 440.90,481.80 437.00,476.70 434.00,476.20 431.20,475.20 428.60,476.60 426.50,473.20 424.00,471.20 421.50,468.70 419.00,466.50 417.00,468.20 414.80,467.90 412.60,469.70 409.70,470.20 406.80,471.20 404.30,472.20 401.70,473.20 398.80,472.70 396.20,471.70 393.80,472.70 390.90,473.20 388.00,472.70 385.00,468.20 382.20,464.20" fill="#ecd9b8" opacity="0.75"/>
<polygon points="382.20,460.20 385.00,463.50 388.00,470.30 390.90,470.50 393.80,471.00 396.20,468.50 398.80,471.00 401.70,472.00 404.30,471.00 406.80,469.50 409.70,470.50 412.60,471.50 415.20,469.00 418.00,466.00 420.60,467.50 423.20,469.50 426.00,471.50 428.60,475.00 431.20,474.50 433.90,473.00 436.80,472.50 439.40,474.00 441.80,472.10 444.80,474.50 448.10,475.70 450.50,479.50 452.50,485.20 455.40,480.80 458.30,479.40 460.40,477.90 463.60,482.30 466.00,479.50 468.70,478.60 471.60,480.50 474.50,478.30 477.30,479.00 480.30,476.80 483.00,476.00 485.40,476.00 488.30,468.90 491.00,469.50 494.00,469.50 497.00,471.80 499.80,476.00 502.80,476.50 504.20,485.90 506.40,490.90 509.30,495.30 512.20,498.90 515.10,504.00 518.00,505.40 520.90,505.40 523.80,496.70 526.00,472.80 528.40,474.30 531.00,480.80 533.90,475.00 536.80,467.80 539.40,481.50 542.30,490.60 542.30,493.60 539.40,492.50 536.80,478.80 533.90,486.00 531.00,491.80 528.40,485.30 526.00,483.80 523.80,507.70 520.90,516.40 518.00,516.40 515.10,515.00 512.20,509.90 509.30,506.30 506.40,501.90 504.20,496.90 502.80,487.50 499.80,479.00 497.00,474.80 494.00,472.50 491.00,472.50 488.30,471.90 485.40,479.00 483.00,479.00 480.30,479.80 477.30,482.00 474.50,481.30 471.60,483.50 468.70,489.60 466.00,490.50 463.60,493.30 460.40,488.90 458.30,490.40 455.40,491.80 452.50,496.20 450.50,490.50 448.10,486.70 444.80,485.50 441.80,483.10 439.40,477.00 436.80,475.50 433.90,476.00 431.20,477.50 428.60,478.00 426.00,474.50 423.20,472.50 420.60,470.50 418.00,469.00 415.20,472.00 412.60,474.50 409.70,473.50 406.80,472.50 404.30,474.00 401.70,475.00 398.80,474.00 396.20,471.50 393.80,474.00 390.90,473.50 388.00,473.30 385.00,466.50 382.20,463.20" fill="#ead6ea" opacity="0.75"/>
<polygon points="382.20,461.90 385.10,467.70 388.00,468.40 390.90,469.20 393.80,469.60 396.20,465.20 398.80,469.60 401.70,470.30 404.30,469.80 406.80,466.00 409.70,466.30 412.60,469.90 415.20,467.80 418.00,462.60 420.60,465.60 423.20,468.30 426.00,469.90 428.60,475.00 431.20,472.30 433.90,469.90 436.80,469.60 439.40,470.80 442.00,469.90 444.70,472.80 447.40,473.50 450.20,474.80 452.90,471.80 455.70,473.90 458.30,471.30 461.20,468.10 464.30,472.50 467.00,470.80 469.00,468.50 471.90,473.90 474.50,476.10 477.10,467.40 480.00,468.80 482.90,476.10 485.40,474.60 488.30,464.50 490.70,471.00 493.30,474.30 496.20,474.60 499.10,475.40 502.00,473.90 504.20,472.40 506.70,479.20 509.60,474.30 512.20,481.10 514.80,477.20 517.70,481.10 520.60,477.50 523.00,480.70 525.50,476.80 528.40,470.20 531.30,479.70 533.90,475.40 536.50,470.30 539.40,470.30 541.90,473.50 541.90,480.90 539.40,477.70 536.50,477.70 533.90,482.80 531.30,487.10 528.40,480.60 525.50,487.20 523.00,491.10 520.60,487.90 517.70,491.50 514.80,487.60 512.20,491.50 509.60,484.70 506.70,489.60 504.20,482.80 502.00,484.30 499.10,482.80 496.20,482.00 493.30,481.70 490.70,478.40 488.30,471.90 485.40,482.00 482.90,483.50 480.00,476.20 477.10,474.80 474.50,483.50 471.90,481.30 469.00,475.90 467.00,478.20 464.30,479.90 461.20,475.50 458.30,478.70 455.70,481.30 452.90,474.20 450.20,477.20 447.40,475.90 444.70,475.20 442.00,472.30 439.40,473.20 436.80,472.00 433.90,472.30 431.20,474.70 428.60,477.40 426.00,472.30 423.20,470.70 420.60,468.00 418.00,465.00 415.20,470.20 412.60,472.30 409.70,468.70 406.80,468.40 404.30,472.20 401.70,472.70 398.80,472.00 396.20,467.60 393.80,472.00 390.90,471.60 388.00,470.80 385.10,470.10 382.20,464.30" fill="#d4dcee" opacity="0.75"/>
<polyline points="382.20,463.00 385.00,467.00 388.00,471.50 390.90,472.00 393.80,471.50 396.20,470.50 398.80,471.50 401.70,472.00 404.30,471.00 406.80,470.00 409.70,469.00 412.60,468.50 414.80,466.70 417.00,467.00 419.00,465.30 421.50,467.50 424.00,470.00 426.50,472.00 428.60,475.40 431.20,474.00 434.00,475.00 437.00,475.50 440.90,477.60 444.50,480.50 447.40,484.10 451.00,479.80 454.00,479.50 456.80,481.20 460.40,476.90 463.30,484.10 466.00,481.50 469.00,481.00 471.90,481.50 474.50,474.70 477.40,471.40 480.30,476.20 485.40,475.40 488.30,475.40 490.40,482.00 493.00,484.90 496.00,492.10 498.80,487.00 501.70,496.00 503.80,508.00 506.70,512.40 510.00,514.60 512.90,510.20 515.80,510.90 518.00,505.90 520.90,508.80 526.00,499.30 528.80,503.00 531.70,504.40 534.20,500.80 537.10,505.20 539.70,508.80 542.30,506.60" fill="none" stroke="#d4913a" stroke-width="1.05" stroke-linejoin="round"/>
<g fill="#d4913a"><circle cx="382.2" cy="463.0" r="1.1"/><circle cx="385.0" cy="467.0" r="1.1"/><circle cx="388.0" cy="471.5" r="1.1"/><circle cx="390.9" cy="472.0" r="1.1"/><circle cx="393.8" cy="471.5" r="1.1"/><circle cx="396.2" cy="470.5" r="1.1"/><circle cx="398.8" cy="471.5" r="1.1"/><circle cx="401.7" cy="472.0" r="1.1"/><circle cx="404.3" cy="471.0" r="1.1"/><circle cx="406.8" cy="470.0" r="1.1"/><circle cx="409.7" cy="469.0" r="1.1"/><circle cx="412.6" cy="468.5" r="1.1"/><circle cx="414.8" cy="466.7" r="1.1"/><circle cx="417.0" cy="467.0" r="1.1"/><circle cx="419.0" cy="465.3" r="1.1"/><circle cx="421.5" cy="467.5" r="1.1"/><circle cx="424.0" cy="470.0" r="1.1"/><circle cx="426.5" cy="472.0" r="1.1"/><circle cx="428.6" cy="475.4" r="1.1"/><circle cx="431.2" cy="474.0" r="1.1"/><circle cx="434.0" cy="475.0" r="1.1"/><circle cx="437.0" cy="475.5" r="1.1"/><circle cx="440.9" cy="477.6" r="1.1"/><circle cx="444.5" cy="480.5" r="1.1"/><circle cx="447.4" cy="484.1" r="1.1"/><circle cx="451.0" cy="479.8" r="1.1"/><circle cx="454.0" cy="479.5" r="1.1"/><circle cx="456.8" cy="481.2" r="1.1"/><circle cx="460.4" cy="476.9" r="1.1"/><circle cx="463.3" cy="484.1" r="1.1"/><circle cx="466.0" cy="481.5" r="1.1"/><circle cx="469.0" cy="481.0" r="1.1"/><circle cx="471.9" cy="481.5" r="1.1"/><circle cx="474.5" cy="474.7" r="1.1"/><circle cx="477.4" cy="471.4" r="1.1"/><circle cx="480.3" cy="476.2" r="1.1"/><circle cx="485.4" cy="475.4" r="1.1"/><circle cx="488.3" cy="475.4" r="1.1"/><circle cx="490.4" cy="482.0" r="1.1"/><circle cx="493.0" cy="484.9" r="1.1"/><circle cx="496.0" cy="492.1" r="1.1"/><circle cx="498.8" cy="487.0" r="1.1"/><circle cx="501.7" cy="496.0" r="1.1"/><circle cx="503.8" cy="508.0" r="1.1"/><circle cx="506.7" cy="512.4" r="1.1"/><circle cx="510.0" cy="514.6" r="1.1"/><circle cx="512.9" cy="510.2" r="1.1"/><circle cx="515.8" cy="510.9" r="1.1"/><circle cx="518.0" cy="505.9" r="1.1"/><circle cx="520.9" cy="508.8" r="1.1"/><circle cx="526.0" cy="499.3" r="1.1"/><circle cx="528.8" cy="503.0" r="1.1"/><circle cx="531.7" cy="504.4" r="1.1"/><circle cx="534.2" cy="500.8" r="1.1"/><circle cx="537.1" cy="505.2" r="1.1"/><circle cx="539.7" cy="508.8" r="1.1"/><circle cx="542.3" cy="506.6" r="1.1"/></g>
<polyline points="382.20,461.70 385.00,465.00 388.00,471.80 390.90,472.00 393.80,472.50 396.20,470.00 398.80,472.50 401.70,473.50 404.30,472.50 406.80,471.00 409.70,472.00 412.60,473.00 415.20,470.50 418.00,467.50 420.60,469.00 423.20,471.00 426.00,473.00 428.60,476.50 431.20,476.00 433.90,474.50 436.80,474.00 439.40,475.50 441.80,477.60 444.80,480.00 448.10,481.20 450.50,485.00 452.50,490.70 455.40,486.30 458.30,484.90 460.40,483.40 463.60,487.80 466.00,485.00 468.70,484.10 471.60,482.00 474.50,479.80 477.30,480.50 480.30,478.30 483.00,477.50 485.40,477.50 488.30,470.40 491.00,471.00 494.00,471.00 497.00,473.30 499.80,477.50 502.80,482.00 504.20,491.40 506.40,496.40 509.30,500.80 512.20,504.40 515.10,509.50 518.00,510.90 520.90,510.90 523.80,502.20 526.00,478.30 528.40,479.80 531.00,486.30 533.90,480.50 536.80,473.30 539.40,487.00 542.30,492.10" fill="none" stroke="#c486c0" stroke-width="1.05" stroke-linejoin="round"/>
<g fill="#c486c0"><circle cx="382.2" cy="461.7" r="1.1"/><circle cx="385.0" cy="465.0" r="1.1"/><circle cx="388.0" cy="471.8" r="1.1"/><circle cx="390.9" cy="472.0" r="1.1"/><circle cx="393.8" cy="472.5" r="1.1"/><circle cx="396.2" cy="470.0" r="1.1"/><circle cx="398.8" cy="472.5" r="1.1"/><circle cx="401.7" cy="473.5" r="1.1"/><circle cx="404.3" cy="472.5" r="1.1"/><circle cx="406.8" cy="471.0" r="1.1"/><circle cx="409.7" cy="472.0" r="1.1"/><circle cx="412.6" cy="473.0" r="1.1"/><circle cx="415.2" cy="470.5" r="1.1"/><circle cx="418.0" cy="467.5" r="1.1"/><circle cx="420.6" cy="469.0" r="1.1"/><circle cx="423.2" cy="471.0" r="1.1"/><circle cx="426.0" cy="473.0" r="1.1"/><circle cx="428.6" cy="476.5" r="1.1"/><circle cx="431.2" cy="476.0" r="1.1"/><circle cx="433.9" cy="474.5" r="1.1"/><circle cx="436.8" cy="474.0" r="1.1"/><circle cx="439.4" cy="475.5" r="1.1"/><circle cx="441.8" cy="477.6" r="1.1"/><circle cx="444.8" cy="480.0" r="1.1"/><circle cx="448.1" cy="481.2" r="1.1"/><circle cx="450.5" cy="485.0" r="1.1"/><circle cx="452.5" cy="490.7" r="1.1"/><circle cx="455.4" cy="486.3" r="1.1"/><circle cx="458.3" cy="484.9" r="1.1"/><circle cx="460.4" cy="483.4" r="1.1"/><circle cx="463.6" cy="487.8" r="1.1"/><circle cx="466.0" cy="485.0" r="1.1"/><circle cx="468.7" cy="484.1" r="1.1"/><circle cx="471.6" cy="482.0" r="1.1"/><circle cx="474.5" cy="479.8" r="1.1"/><circle cx="477.3" cy="480.5" r="1.1"/><circle cx="480.3" cy="478.3" r="1.1"/><circle cx="483.0" cy="477.5" r="1.1"/><circle cx="485.4" cy="477.5" r="1.1"/><circle cx="488.3" cy="470.4" r="1.1"/><circle cx="491.0" cy="471.0" r="1.1"/><circle cx="494.0" cy="471.0" r="1.1"/><circle cx="497.0" cy="473.3" r="1.1"/><circle cx="499.8" cy="477.5" r="1.1"/><circle cx="502.8" cy="482.0" r="1.1"/><circle cx="504.2" cy="491.4" r="1.1"/><circle cx="506.4" cy="496.4" r="1.1"/><circle cx="509.3" cy="500.8" r="1.1"/><circle cx="512.2" cy="504.4" r="1.1"/><circle cx="515.1" cy="509.5" r="1.1"/><circle cx="518.0" cy="510.9" r="1.1"/><circle cx="520.9" cy="510.9" r="1.1"/><circle cx="523.8" cy="502.2" r="1.1"/><circle cx="526.0" cy="478.3" r="1.1"/><circle cx="528.4" cy="479.8" r="1.1"/><circle cx="531.0" cy="486.3" r="1.1"/><circle cx="533.9" cy="480.5" r="1.1"/><circle cx="536.8" cy="473.3" r="1.1"/><circle cx="539.4" cy="487.0" r="1.1"/><circle cx="542.3" cy="492.1" r="1.1"/></g>
<polyline points="382.20,463.10 385.10,468.90 388.00,469.60 390.90,470.40 393.80,470.80 396.20,466.40 398.80,470.80 401.70,471.50 404.30,471.00 406.80,467.20 409.70,467.50 412.60,471.10 415.20,469.00 418.00,463.80 420.60,466.80 423.20,469.50 426.00,471.10 428.60,476.20 431.20,473.50 433.90,471.10 436.80,470.80 439.40,472.00 442.00,471.10 444.70,474.00 447.40,474.70 450.20,476.00 452.90,473.00 455.70,477.60 458.30,475.00 461.20,471.80 464.30,476.20 467.00,474.50 469.00,472.20 471.90,477.60 474.50,479.80 477.10,471.10 480.00,472.50 482.90,479.80 485.40,478.30 488.30,468.20 490.70,474.70 493.30,478.00 496.20,478.30 499.10,479.10 502.00,479.10 504.20,477.60 506.70,484.40 509.60,479.50 512.20,486.30 514.80,482.40 517.70,486.30 520.60,482.70 523.00,485.90 525.50,482.00 528.40,475.40 531.30,483.40 533.90,479.10 536.50,474.00 539.40,474.00 541.90,477.20" fill="none" stroke="#3d5ba8" stroke-width="1.05" stroke-linejoin="round"/>
<g fill="#3d5ba8"><circle cx="382.2" cy="463.1" r="1.1"/><circle cx="385.1" cy="468.9" r="1.1"/><circle cx="388.0" cy="469.6" r="1.1"/><circle cx="390.9" cy="470.4" r="1.1"/><circle cx="393.8" cy="470.8" r="1.1"/><circle cx="396.2" cy="466.4" r="1.1"/><circle cx="398.8" cy="470.8" r="1.1"/><circle cx="401.7" cy="471.5" r="1.1"/><circle cx="404.3" cy="471.0" r="1.1"/><circle cx="406.8" cy="467.2" r="1.1"/><circle cx="409.7" cy="467.5" r="1.1"/><circle cx="412.6" cy="471.1" r="1.1"/><circle cx="415.2" cy="469.0" r="1.1"/><circle cx="418.0" cy="463.8" r="1.1"/><circle cx="420.6" cy="466.8" r="1.1"/><circle cx="423.2" cy="469.5" r="1.1"/><circle cx="426.0" cy="471.1" r="1.1"/><circle cx="428.6" cy="476.2" r="1.1"/><circle cx="431.2" cy="473.5" r="1.1"/><circle cx="433.9" cy="471.1" r="1.1"/><circle cx="436.8" cy="470.8" r="1.1"/><circle cx="439.4" cy="472.0" r="1.1"/><circle cx="442.0" cy="471.1" r="1.1"/><circle cx="444.7" cy="474.0" r="1.1"/><circle cx="447.4" cy="474.7" r="1.1"/><circle cx="450.2" cy="476.0" r="1.1"/><circle cx="452.9" cy="473.0" r="1.1"/><circle cx="455.7" cy="477.6" r="1.1"/><circle cx="458.3" cy="475.0" r="1.1"/><circle cx="461.2" cy="471.8" r="1.1"/><circle cx="464.3" cy="476.2" r="1.1"/><circle cx="467.0" cy="474.5" r="1.1"/><circle cx="469.0" cy="472.2" r="1.1"/><circle cx="471.9" cy="477.6" r="1.1"/><circle cx="474.5" cy="479.8" r="1.1"/><circle cx="477.1" cy="471.1" r="1.1"/><circle cx="480.0" cy="472.5" r="1.1"/><circle cx="482.9" cy="479.8" r="1.1"/><circle cx="485.4" cy="478.3" r="1.1"/><circle cx="488.3" cy="468.2" r="1.1"/><circle cx="490.7" cy="474.7" r="1.1"/><circle cx="493.3" cy="478.0" r="1.1"/><circle cx="496.2" cy="478.3" r="1.1"/><circle cx="499.1" cy="479.1" r="1.1"/><circle cx="502.0" cy="479.1" r="1.1"/><circle cx="504.2" cy="477.6" r="1.1"/><circle cx="506.7" cy="484.4" r="1.1"/><circle cx="509.6" cy="479.5" r="1.1"/><circle cx="512.2" cy="486.3" r="1.1"/><circle cx="514.8" cy="482.4" r="1.1"/><circle cx="517.7" cy="486.3" r="1.1"/><circle cx="520.6" cy="482.7" r="1.1"/><circle cx="523.0" cy="485.9" r="1.1"/><circle cx="525.5" cy="482.0" r="1.1"/><circle cx="528.4" cy="475.4" r="1.1"/><circle cx="531.3" cy="483.4" r="1.1"/><circle cx="533.9" cy="479.1" r="1.1"/><circle cx="536.5" cy="474.0" r="1.1"/><circle cx="539.4" cy="474.0" r="1.1"/><circle cx="541.9" cy="477.2" r="1.1"/></g>
<line x1="388.50" y1="494.60" x2="397.50" y2="494.60" stroke="#3d5ba8" stroke-width="0.9"/>
<circle cx="393.00" cy="494.60" r="1.20" fill="#3d5ba8" stroke="none" stroke-width="0.6"/>
<text x="402.7" y="497.3" font-size="7.6" fill="#231f20">WT</text>
<line x1="388.50" y1="503.40" x2="397.50" y2="503.40" stroke="#c486c0" stroke-width="0.9"/>
<circle cx="393.00" cy="503.40" r="1.20" fill="#c486c0" stroke="none" stroke-width="0.6"/>
<text x="402.7" y="506.1" font-size="7.6" fill="#231f20"><tspan font-style="italic">Gpr50</tspan>-KO</text>
<line x1="388.50" y1="512.20" x2="397.50" y2="512.20" stroke="#d4913a" stroke-width="0.9"/>
<circle cx="393.00" cy="512.20" r="1.20" fill="#d4913a" stroke="none" stroke-width="0.6"/>
<text x="402.7" y="514.9" font-size="7.6" fill="#231f20"><tspan font-style="italic">LL</tspan>-KO</text>
<line x1="382.50" y1="517.80" x2="382.50" y2="521.80" stroke="#333" stroke-width="0.5"/>
<line x1="584.40" y1="453.20" x2="584.40" y2="521.30" stroke="#6d6e71" stroke-width="0.7"/>
<line x1="584.40" y1="521.30" x2="674.40" y2="521.30" stroke="#6d6e71" stroke-width="0.7"/>
<line x1="582.40" y1="521.30" x2="584.40" y2="521.30" stroke="#6d6e71" stroke-width="0.7"/>
<text x="580.00" y="524.10" font-size="7.8" text-anchor="end" fill="#231f20">0</text>
<line x1="582.40" y1="505.82" x2="584.40" y2="505.82" stroke="#6d6e71" stroke-width="0.7"/>
<text x="580.00" y="508.62" font-size="7.8" text-anchor="end" fill="#231f20">5</text>
<line x1="582.40" y1="490.35" x2="584.40" y2="490.35" stroke="#6d6e71" stroke-width="0.7"/>
<text x="580.00" y="493.15" font-size="7.8" text-anchor="end" fill="#231f20">10</text>
<line x1="582.40" y1="474.87" x2="584.40" y2="474.87" stroke="#6d6e71" stroke-width="0.7"/>
<text x="580.00" y="477.67" font-size="7.8" text-anchor="end" fill="#231f20">15</text>
<line x1="582.40" y1="459.40" x2="584.40" y2="459.40" stroke="#6d6e71" stroke-width="0.7"/>
<text x="580.00" y="462.20" font-size="7.8" text-anchor="end" fill="#231f20">20</text>
<line x1="591.50" y1="521.30" x2="591.50" y2="523.30" stroke="#6d6e71" stroke-width="0.7"/>
<text x="591.50" y="535.00" font-size="7.8" text-anchor="middle" fill="#231f20">25</text>
<line x1="606.44" y1="521.30" x2="606.44" y2="523.30" stroke="#6d6e71" stroke-width="0.7"/>
<text x="606.44" y="535.00" font-size="7.8" text-anchor="middle" fill="#231f20">27</text>
<line x1="621.38" y1="521.30" x2="621.38" y2="523.30" stroke="#6d6e71" stroke-width="0.7"/>
<text x="621.38" y="535.00" font-size="7.8" text-anchor="middle" fill="#231f20">29</text>
<line x1="636.32" y1="521.30" x2="636.32" y2="523.30" stroke="#6d6e71" stroke-width="0.7"/>
<text x="636.32" y="535.00" font-size="7.8" text-anchor="middle" fill="#231f20">31</text>
<line x1="651.26" y1="521.30" x2="651.26" y2="523.30" stroke="#6d6e71" stroke-width="0.7"/>
<text x="651.26" y="535.00" font-size="7.8" text-anchor="middle" fill="#231f20">33</text>
<line x1="666.20" y1="521.30" x2="666.20" y2="523.30" stroke="#6d6e71" stroke-width="0.7"/>
<text x="666.20" y="535.00" font-size="7.8" text-anchor="middle" fill="#231f20">35</text>
<text x="629" y="548.3" font-size="8.6" text-anchor="middle" fill="#231f20"><tspan font-style="italic">T</tspan><tspan font-size="5.8" dy="2">b</tspan><tspan dy="-2"> (°C)</tspan></text>
<text transform="translate(563.4,507) rotate(-90)" font-size="8.6" fill="#231f20">Time (h)</text>
<text x="587.7" y="449.5" font-size="7.6" fill="#231f20">WT versus <tspan font-style="italic">LL</tspan>-KO**</text>
<text x="587.7" y="458.7" font-size="7.6" fill="#231f20">WT versus <tspan font-style="italic">Gpr50</tspan>-KO*</text>
<line x1="598.97" y1="514.18" x2="598.97" y2="520.38" stroke="#d4913a" stroke-width="0.6"/>
<line x1="597.67" y1="514.18" x2="600.27" y2="514.18" stroke="#d4913a" stroke-width="0.5"/>
<line x1="597.67" y1="520.38" x2="600.27" y2="520.38" stroke="#d4913a" stroke-width="0.5"/>
<line x1="606.44" y1="509.53" x2="606.44" y2="520.69" stroke="#d4913a" stroke-width="0.6"/>
<line x1="605.14" y1="509.53" x2="607.74" y2="509.53" stroke="#d4913a" stroke-width="0.5"/>
<line x1="605.14" y1="520.69" x2="607.74" y2="520.69" stroke="#d4913a" stroke-width="0.5"/>
<line x1="613.91" y1="506.75" x2="613.91" y2="516.05" stroke="#d4913a" stroke-width="0.6"/>
<line x1="612.61" y1="506.75" x2="615.21" y2="506.75" stroke="#d4913a" stroke-width="0.5"/>
<line x1="612.61" y1="516.05" x2="615.21" y2="516.05" stroke="#d4913a" stroke-width="0.5"/>
<line x1="621.38" y1="498.69" x2="621.38" y2="514.19" stroke="#d4913a" stroke-width="0.6"/>
<line x1="620.08" y1="498.69" x2="622.68" y2="498.69" stroke="#d4913a" stroke-width="0.5"/>
<line x1="620.08" y1="514.19" x2="622.68" y2="514.19" stroke="#d4913a" stroke-width="0.5"/>
<line x1="628.85" y1="493.43" x2="628.85" y2="510.79" stroke="#d4913a" stroke-width="0.6"/>
<line x1="627.55" y1="493.43" x2="630.15" y2="493.43" stroke="#d4913a" stroke-width="0.5"/>
<line x1="627.55" y1="510.79" x2="630.15" y2="510.79" stroke="#d4913a" stroke-width="0.5"/>
<line x1="636.32" y1="487.24" x2="636.32" y2="505.84" stroke="#d4913a" stroke-width="0.6"/>
<line x1="635.02" y1="487.24" x2="637.62" y2="487.24" stroke="#d4913a" stroke-width="0.5"/>
<line x1="635.02" y1="505.84" x2="637.62" y2="505.84" stroke="#d4913a" stroke-width="0.5"/>
<line x1="643.79" y1="477.03" x2="643.79" y2="492.53" stroke="#d4913a" stroke-width="0.6"/>
<line x1="642.49" y1="477.03" x2="645.09" y2="477.03" stroke="#d4913a" stroke-width="0.5"/>
<line x1="642.49" y1="492.53" x2="645.09" y2="492.53" stroke="#d4913a" stroke-width="0.5"/>
<line x1="651.26" y1="471.77" x2="651.26" y2="482.93" stroke="#d4913a" stroke-width="0.6"/>
<line x1="649.96" y1="471.77" x2="652.56" y2="471.77" stroke="#d4913a" stroke-width="0.5"/>
<line x1="649.96" y1="482.93" x2="652.56" y2="482.93" stroke="#d4913a" stroke-width="0.5"/>
<line x1="658.73" y1="465.58" x2="658.73" y2="474.88" stroke="#d4913a" stroke-width="0.6"/>
<line x1="657.43" y1="465.58" x2="660.03" y2="465.58" stroke="#d4913a" stroke-width="0.5"/>
<line x1="657.43" y1="474.88" x2="660.03" y2="474.88" stroke="#d4913a" stroke-width="0.5"/>
<line x1="666.20" y1="458.46" x2="666.20" y2="467.76" stroke="#d4913a" stroke-width="0.6"/>
<line x1="664.90" y1="458.46" x2="667.50" y2="458.46" stroke="#d4913a" stroke-width="0.5"/>
<line x1="664.90" y1="467.76" x2="667.50" y2="467.76" stroke="#d4913a" stroke-width="0.5"/>
<polyline points="591.50,521.30 598.97,517.28 606.44,515.11 613.91,511.40 621.38,506.44 628.85,502.11 636.32,496.54 643.79,484.78 651.26,477.35 658.73,470.23 666.20,463.11" fill="none" stroke="#d4913a" stroke-width="0.9" stroke-linejoin="round"/>
<path d="M589.9,521.3 L591.5,519.7 L593.1,521.3 L591.5,522.9 Z" fill="#d4913a" fill-opacity="0.35" stroke="#d4913a" stroke-width="0.6"/>
<path d="M597.4,517.3 L599.0,515.7 L600.6,517.3 L599.0,518.9 Z" fill="#d4913a" fill-opacity="0.35" stroke="#d4913a" stroke-width="0.6"/>
<path d="M604.8,515.1 L606.4,513.5 L608.0,515.1 L606.4,516.7 Z" fill="#d4913a" fill-opacity="0.35" stroke="#d4913a" stroke-width="0.6"/>
<path d="M612.3,511.4 L613.9,509.8 L615.5,511.4 L613.9,513.0 Z" fill="#d4913a" fill-opacity="0.35" stroke="#d4913a" stroke-width="0.6"/>
<path d="M619.8,506.4 L621.4,504.8 L623.0,506.4 L621.4,508.0 Z" fill="#d4913a" fill-opacity="0.35" stroke="#d4913a" stroke-width="0.6"/>
<path d="M627.2,502.1 L628.9,500.5 L630.5,502.1 L628.9,503.7 Z" fill="#d4913a" fill-opacity="0.35" stroke="#d4913a" stroke-width="0.6"/>
<path d="M634.7,496.5 L636.3,494.9 L637.9,496.5 L636.3,498.1 Z" fill="#d4913a" fill-opacity="0.35" stroke="#d4913a" stroke-width="0.6"/>
<path d="M642.2,484.8 L643.8,483.2 L645.4,484.8 L643.8,486.4 Z" fill="#d4913a" fill-opacity="0.35" stroke="#d4913a" stroke-width="0.6"/>
<path d="M649.7,477.4 L651.3,475.8 L652.9,477.4 L651.3,479.0 Z" fill="#d4913a" fill-opacity="0.35" stroke="#d4913a" stroke-width="0.6"/>
<path d="M657.1,470.2 L658.7,468.6 L660.3,470.2 L658.7,471.8 Z" fill="#d4913a" fill-opacity="0.35" stroke="#d4913a" stroke-width="0.6"/>
<path d="M664.6,463.1 L666.2,461.5 L667.8,463.1 L666.2,464.7 Z" fill="#d4913a" fill-opacity="0.35" stroke="#d4913a" stroke-width="0.6"/>
<line x1="598.97" y1="519.75" x2="598.97" y2="521.61" stroke="#c486c0" stroke-width="0.6"/>
<line x1="597.67" y1="519.75" x2="600.27" y2="519.75" stroke="#c486c0" stroke-width="0.5"/>
<line x1="597.67" y1="521.61" x2="600.27" y2="521.61" stroke="#c486c0" stroke-width="0.5"/>
<line x1="606.44" y1="508.91" x2="606.44" y2="521.31" stroke="#c486c0" stroke-width="0.6"/>
<line x1="605.14" y1="508.91" x2="607.74" y2="508.91" stroke="#c486c0" stroke-width="0.5"/>
<line x1="605.14" y1="521.31" x2="607.74" y2="521.31" stroke="#c486c0" stroke-width="0.5"/>
<line x1="613.91" y1="501.79" x2="613.91" y2="520.39" stroke="#c486c0" stroke-width="0.6"/>
<line x1="612.61" y1="501.79" x2="615.21" y2="501.79" stroke="#c486c0" stroke-width="0.5"/>
<line x1="612.61" y1="520.39" x2="615.21" y2="520.39" stroke="#c486c0" stroke-width="0.5"/>
<line x1="621.38" y1="499.01" x2="621.38" y2="511.41" stroke="#c486c0" stroke-width="0.6"/>
<line x1="620.08" y1="499.01" x2="622.68" y2="499.01" stroke="#c486c0" stroke-width="0.5"/>
<line x1="620.08" y1="511.41" x2="622.68" y2="511.41" stroke="#c486c0" stroke-width="0.5"/>
<line x1="628.85" y1="495.91" x2="628.85" y2="508.31" stroke="#c486c0" stroke-width="0.6"/>
<line x1="627.55" y1="495.91" x2="630.15" y2="495.91" stroke="#c486c0" stroke-width="0.5"/>
<line x1="627.55" y1="508.31" x2="630.15" y2="508.31" stroke="#c486c0" stroke-width="0.5"/>
<line x1="636.32" y1="490.96" x2="636.32" y2="505.22" stroke="#c486c0" stroke-width="0.6"/>
<line x1="635.02" y1="490.96" x2="637.62" y2="490.96" stroke="#c486c0" stroke-width="0.5"/>
<line x1="635.02" y1="505.22" x2="637.62" y2="505.22" stroke="#c486c0" stroke-width="0.5"/>
<line x1="643.79" y1="487.86" x2="643.79" y2="503.36" stroke="#c486c0" stroke-width="0.6"/>
<line x1="642.49" y1="487.86" x2="645.09" y2="487.86" stroke="#c486c0" stroke-width="0.5"/>
<line x1="642.49" y1="503.36" x2="645.09" y2="503.36" stroke="#c486c0" stroke-width="0.5"/>
<line x1="651.26" y1="484.15" x2="651.26" y2="496.55" stroke="#c486c0" stroke-width="0.6"/>
<line x1="649.96" y1="484.15" x2="652.56" y2="484.15" stroke="#c486c0" stroke-width="0.5"/>
<line x1="649.96" y1="496.55" x2="652.56" y2="496.55" stroke="#c486c0" stroke-width="0.5"/>
<line x1="658.73" y1="477.03" x2="658.73" y2="486.33" stroke="#c486c0" stroke-width="0.6"/>
<line x1="657.43" y1="477.03" x2="660.03" y2="477.03" stroke="#c486c0" stroke-width="0.5"/>
<line x1="657.43" y1="486.33" x2="660.03" y2="486.33" stroke="#c486c0" stroke-width="0.5"/>
<line x1="666.20" y1="467.13" x2="666.20" y2="479.53" stroke="#c486c0" stroke-width="0.6"/>
<line x1="664.90" y1="467.13" x2="667.50" y2="467.13" stroke="#c486c0" stroke-width="0.5"/>
<line x1="664.90" y1="479.53" x2="667.50" y2="479.53" stroke="#c486c0" stroke-width="0.5"/>
<polyline points="591.50,521.30 598.97,520.68 606.44,515.11 613.91,511.09 621.38,505.21 628.85,502.11 636.32,498.09 643.79,495.61 651.26,490.35 658.73,481.68 666.20,473.33" fill="none" stroke="#c486c0" stroke-width="0.9" stroke-linejoin="round"/>
<path d="M589.9,521.3 L591.5,519.7 L593.1,521.3 L591.5,522.9 Z" fill="#c486c0" fill-opacity="0.35" stroke="#c486c0" stroke-width="0.6"/>
<path d="M597.4,520.7 L599.0,519.1 L600.6,520.7 L599.0,522.3 Z" fill="#c486c0" fill-opacity="0.35" stroke="#c486c0" stroke-width="0.6"/>
<path d="M604.8,515.1 L606.4,513.5 L608.0,515.1 L606.4,516.7 Z" fill="#c486c0" fill-opacity="0.35" stroke="#c486c0" stroke-width="0.6"/>
<path d="M612.3,511.1 L613.9,509.5 L615.5,511.1 L613.9,512.7 Z" fill="#c486c0" fill-opacity="0.35" stroke="#c486c0" stroke-width="0.6"/>
<path d="M619.8,505.2 L621.4,503.6 L623.0,505.2 L621.4,506.8 Z" fill="#c486c0" fill-opacity="0.35" stroke="#c486c0" stroke-width="0.6"/>
<path d="M627.2,502.1 L628.9,500.5 L630.5,502.1 L628.9,503.7 Z" fill="#c486c0" fill-opacity="0.35" stroke="#c486c0" stroke-width="0.6"/>
<path d="M634.7,498.1 L636.3,496.5 L637.9,498.1 L636.3,499.7 Z" fill="#c486c0" fill-opacity="0.35" stroke="#c486c0" stroke-width="0.6"/>
<path d="M642.2,495.6 L643.8,494.0 L645.4,495.6 L643.8,497.2 Z" fill="#c486c0" fill-opacity="0.35" stroke="#c486c0" stroke-width="0.6"/>
<path d="M649.7,490.3 L651.3,488.7 L652.9,490.3 L651.3,491.9 Z" fill="#c486c0" fill-opacity="0.35" stroke="#c486c0" stroke-width="0.6"/>
<path d="M657.1,481.7 L658.7,480.1 L660.3,481.7 L658.7,483.3 Z" fill="#c486c0" fill-opacity="0.35" stroke="#c486c0" stroke-width="0.6"/>
<path d="M664.6,473.3 L666.2,471.7 L667.8,473.3 L666.2,474.9 Z" fill="#c486c0" fill-opacity="0.35" stroke="#c486c0" stroke-width="0.6"/>
<line x1="621.38" y1="516.65" x2="621.38" y2="519.75" stroke="#3d5ba8" stroke-width="0.6"/>
<line x1="620.08" y1="516.65" x2="622.68" y2="516.65" stroke="#3d5ba8" stroke-width="0.5"/>
<line x1="620.08" y1="519.75" x2="622.68" y2="519.75" stroke="#3d5ba8" stroke-width="0.5"/>
<line x1="628.85" y1="511.08" x2="628.85" y2="516.04" stroke="#3d5ba8" stroke-width="0.6"/>
<line x1="627.55" y1="511.08" x2="630.15" y2="511.08" stroke="#3d5ba8" stroke-width="0.5"/>
<line x1="627.55" y1="516.04" x2="630.15" y2="516.04" stroke="#3d5ba8" stroke-width="0.5"/>
<line x1="636.32" y1="503.65" x2="636.32" y2="511.09" stroke="#3d5ba8" stroke-width="0.6"/>
<line x1="635.02" y1="503.65" x2="637.62" y2="503.65" stroke="#3d5ba8" stroke-width="0.5"/>
<line x1="635.02" y1="511.09" x2="637.62" y2="511.09" stroke="#3d5ba8" stroke-width="0.5"/>
<line x1="643.79" y1="496.53" x2="643.79" y2="504.59" stroke="#3d5ba8" stroke-width="0.6"/>
<line x1="642.49" y1="496.53" x2="645.09" y2="496.53" stroke="#3d5ba8" stroke-width="0.5"/>
<line x1="642.49" y1="504.59" x2="645.09" y2="504.59" stroke="#3d5ba8" stroke-width="0.5"/>
<line x1="651.26" y1="488.79" x2="651.26" y2="498.09" stroke="#3d5ba8" stroke-width="0.6"/>
<line x1="649.96" y1="488.79" x2="652.56" y2="488.79" stroke="#3d5ba8" stroke-width="0.5"/>
<line x1="649.96" y1="498.09" x2="652.56" y2="498.09" stroke="#3d5ba8" stroke-width="0.5"/>
<line x1="658.73" y1="479.20" x2="658.73" y2="487.26" stroke="#3d5ba8" stroke-width="0.6"/>
<line x1="657.43" y1="479.20" x2="660.03" y2="479.20" stroke="#3d5ba8" stroke-width="0.5"/>
<line x1="657.43" y1="487.26" x2="660.03" y2="487.26" stroke="#3d5ba8" stroke-width="0.5"/>
<line x1="666.20" y1="468.68" x2="666.20" y2="476.12" stroke="#3d5ba8" stroke-width="0.6"/>
<line x1="664.90" y1="468.68" x2="667.50" y2="468.68" stroke="#3d5ba8" stroke-width="0.5"/>
<line x1="664.90" y1="476.12" x2="667.50" y2="476.12" stroke="#3d5ba8" stroke-width="0.5"/>
<polyline points="591.50,521.30 598.97,521.30 606.44,521.30 613.91,521.30 621.38,518.20 628.85,513.56 636.32,507.37 643.79,500.56 651.26,493.44 658.73,483.23 666.20,472.40" fill="none" stroke="#3d5ba8" stroke-width="0.9" stroke-linejoin="round"/>
<path d="M589.9,521.3 L591.5,519.7 L593.1,521.3 L591.5,522.9 Z" fill="#3d5ba8" fill-opacity="0.35" stroke="#3d5ba8" stroke-width="0.6"/>
<path d="M597.4,521.3 L599.0,519.7 L600.6,521.3 L599.0,522.9 Z" fill="#3d5ba8" fill-opacity="0.35" stroke="#3d5ba8" stroke-width="0.6"/>
<path d="M604.8,521.3 L606.4,519.7 L608.0,521.3 L606.4,522.9 Z" fill="#3d5ba8" fill-opacity="0.35" stroke="#3d5ba8" stroke-width="0.6"/>
<path d="M612.3,521.3 L613.9,519.7 L615.5,521.3 L613.9,522.9 Z" fill="#3d5ba8" fill-opacity="0.35" stroke="#3d5ba8" stroke-width="0.6"/>
<path d="M619.8,518.2 L621.4,516.6 L623.0,518.2 L621.4,519.8 Z" fill="#3d5ba8" fill-opacity="0.35" stroke="#3d5ba8" stroke-width="0.6"/>
<path d="M627.2,513.6 L628.9,512.0 L630.5,513.6 L628.9,515.2 Z" fill="#3d5ba8" fill-opacity="0.35" stroke="#3d5ba8" stroke-width="0.6"/>
<path d="M634.7,507.4 L636.3,505.8 L637.9,507.4 L636.3,509.0 Z" fill="#3d5ba8" fill-opacity="0.35" stroke="#3d5ba8" stroke-width="0.6"/>
<path d="M642.2,500.6 L643.8,499.0 L645.4,500.6 L643.8,502.2 Z" fill="#3d5ba8" fill-opacity="0.35" stroke="#3d5ba8" stroke-width="0.6"/>
<path d="M649.7,493.4 L651.3,491.8 L652.9,493.4 L651.3,495.0 Z" fill="#3d5ba8" fill-opacity="0.35" stroke="#3d5ba8" stroke-width="0.6"/>
<path d="M657.1,483.2 L658.7,481.6 L660.3,483.2 L658.7,484.8 Z" fill="#3d5ba8" fill-opacity="0.35" stroke="#3d5ba8" stroke-width="0.6"/>
<path d="M664.6,472.4 L666.2,470.8 L667.8,472.4 L666.2,474.0 Z" fill="#3d5ba8" fill-opacity="0.35" stroke="#3d5ba8" stroke-width="0.6"/>
<line x1="588.00" y1="476.90" x2="595.00" y2="476.90" stroke="#3d5ba8" stroke-width="0.9"/>
<path d="M589.9,476.9 L591.5,475.3 L593.1,476.9 L591.5,478.5 Z" fill="#3d5ba8"/>
<text x="598.1" y="479.7" font-size="7.6" fill="#231f20">WT</text>
<line x1="588.00" y1="484.75" x2="595.00" y2="484.75" stroke="#c486c0" stroke-width="0.9"/>
<path d="M589.9,484.8 L591.5,483.1 L593.1,484.8 L591.5,486.4 Z" fill="#c486c0"/>
<text x="598.1" y="487.6" font-size="7.6" fill="#231f20"><tspan font-style="italic">Gpr50</tspan>-KO</text>
<line x1="588.00" y1="492.60" x2="595.00" y2="492.60" stroke="#d4913a" stroke-width="0.9"/>
<path d="M589.9,492.6 L591.5,491.0 L593.1,492.6 L591.5,494.2 Z" fill="#d4913a"/>
<text x="598.1" y="495.4" font-size="7.6" fill="#231f20"><tspan font-style="italic">LL</tspan>-KO</text>
</svg></body></html>
